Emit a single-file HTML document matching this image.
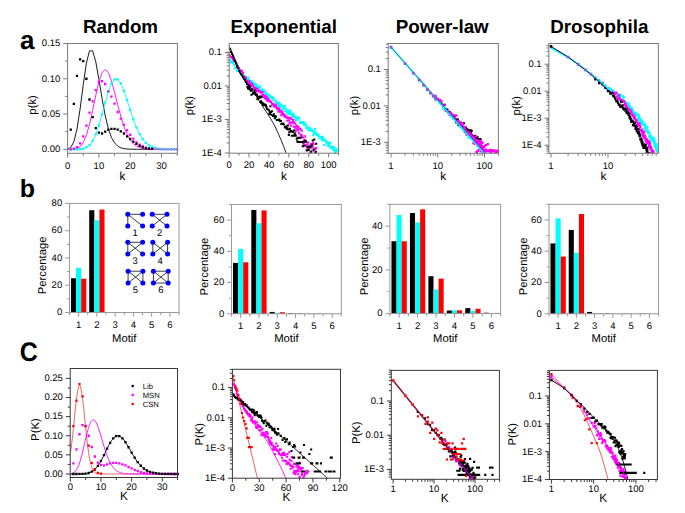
<!DOCTYPE html>
<html><head><meta charset="utf-8"><style>
html,body{margin:0;padding:0;background:#fff;width:685px;height:513px;overflow:hidden}
</style></head><body>
<svg width="685" height="513" viewBox="0 0 685 513" style="display:block;font-family:'Liberation Sans',sans-serif" text-rendering="geometricPrecision">
<rect width="685" height="513" fill="#fff"/>
<defs>
<clipPath id="ca1"><rect x="67.6" y="43.5" width="109.8" height="109.8"/></clipPath>
<clipPath id="ca2"><rect x="229.2" y="43.5" width="109.2" height="109.7"/></clipPath>
<clipPath id="ca3"><rect x="388.2" y="43.5" width="110.2" height="109.8"/></clipPath>
<clipPath id="ca4"><rect x="548.9" y="43.5" width="109.5" height="109.8"/></clipPath>
<clipPath id="cb1"><rect x="69.5" y="203.4" width="109.5" height="109.1"/></clipPath>
<clipPath id="cb2"><rect x="231.5" y="204.5" width="109.8" height="109.3"/></clipPath>
<clipPath id="cb3"><rect x="389.9" y="204.3" width="110.7" height="109.3"/></clipPath>
<clipPath id="cb4"><rect x="549" y="204.3" width="109.5" height="109.5"/></clipPath>
<clipPath id="cc1"><rect x="70.2" y="368.5" width="107.3" height="109"/></clipPath>
<clipPath id="cc2"><rect x="232.4" y="369.3" width="108.1" height="108.9"/></clipPath>
<clipPath id="cc3"><rect x="391.3" y="370.4" width="108.1" height="108.9"/></clipPath>
<clipPath id="cc4"><rect x="549.4" y="370.4" width="108" height="109.1"/></clipPath>
</defs>
<text x="120.5" y="33.3" font-size="18.8" text-anchor="middle" font-weight="bold" fill="#000">Random</text>
<text x="283.8" y="33.3" font-size="18.8" text-anchor="middle" font-weight="bold" fill="#000">Exponential</text>
<text x="442.3" y="33.3" font-size="18.8" text-anchor="middle" font-weight="bold" fill="#000">Power-law</text>
<text x="599.3" y="33.3" font-size="18.8" text-anchor="middle" font-weight="bold" fill="#000">Drosophila</text>
<text x="20" y="49" font-size="26" text-anchor="start" font-weight="bold" fill="#000">a</text>
<text x="19.8" y="197" font-size="25" text-anchor="start" font-weight="bold" fill="#000">b</text>
<text x="0" y="0" font-size="25" font-weight="bold" transform="translate(19.7 361.0) scale(1 1.07)">C</text>
<path d="M67.6 149.06 L70.73 147.41 L73.86 141.73 L76.99 129.11 L80.12 108.92 L83.25 84.69 L86.38 63.16 L89.51 50.85 L92.64 50.85 L95.77 61.79 L98.9 79.29 L102.03 98.38 L105.16 115.36 L108.29 128.41 L111.42 137.36 L114.55 142.93 L117.68 146.12 L120.81 147.8 L123.94 148.63 L127.07 149.02 L130.2 149.19 L133.33 149.26 L136.46 149.28 L139.59 149.29 L142.72 149.3 L145.85 149.3 L148.98 149.3 L152.11 149.3 L155.24 149.3 L158.37 149.3 L161.5 149.3 L164.63 149.3 L167.76 149.3 L170.89 149.3 L174.02 149.3 L177.15 149.3" fill="none" stroke="#000000" stroke-width="0.9" stroke-linejoin="round" clip-path="url(#ca1)"/>
<path d="M67.6 149.3 L70.73 149.27 L73.86 149.09 L76.99 148.44 L80.12 146.63 L83.25 142.62 L86.38 135.37 L89.51 124.43 L92.64 110.44 L95.77 95.33 L98.9 81.84 L102.03 72.64 L105.16 69.45 L108.29 72.52 L111.42 80.75 L114.55 92.17 L117.68 104.67 L120.81 116.48 L123.94 126.51 L127.07 134.31 L130.2 139.93 L133.33 143.72 L136.46 146.13 L139.59 147.58 L142.72 148.4 L145.85 148.85 L148.98 149.08 L152.11 149.2 L155.24 149.26 L158.37 149.28 L161.5 149.29 L164.63 149.3 L167.76 149.3 L170.89 149.3 L174.02 149.3 L177.15 149.3" fill="none" stroke="#ff00ff" stroke-width="0.9" stroke-linejoin="round" clip-path="url(#ca1)"/>
<path d="M67.6 149.3 L70.73 149.3 L73.86 149.29 L76.99 149.25 L80.12 149.08 L83.25 148.61 L86.38 147.45 L89.51 145.07 L92.64 140.85 L95.77 134.27 L98.9 125.25 L102.03 114.32 L105.16 102.66 L108.29 91.9 L111.42 83.7 L114.55 79.32 L117.68 79.32 L120.81 83.44 L123.94 90.76 L127.07 100 L130.2 109.86 L133.33 119.25 L136.46 127.45 L139.59 134.1 L142.72 139.16 L145.85 142.81 L148.98 145.31 L152.11 146.93 L155.24 147.95 L158.37 148.55 L161.5 148.9 L164.63 149.09 L167.76 149.2 L170.89 149.25 L174.02 149.28 L177.15 149.29" fill="none" stroke="#00ffff" stroke-width="0.9" stroke-linejoin="round" clip-path="url(#ca1)"/>
<path d="M69.58 148.15h2.3v2.3h-2.3zM72.71 148.14h2.3v2.3h-2.3zM75.84 148.1h2.3v2.3h-2.3zM78.97 147.93h2.3v2.3h-2.3zM82.1 147.46h2.3v2.3h-2.3zM85.23 146.3h2.3v2.3h-2.3zM88.36 143.92h2.3v2.3h-2.3zM91.49 139.7h2.3v2.3h-2.3zM94.62 133.12h2.3v2.3h-2.3zM97.75 124.1h2.3v2.3h-2.3zM100.88 113.17h2.3v2.3h-2.3zM104.01 101.51h2.3v2.3h-2.3zM107.14 90.75h2.3v2.3h-2.3zM110.27 82.55h2.3v2.3h-2.3zM113.4 78.17h2.3v2.3h-2.3zM116.53 78.17h2.3v2.3h-2.3zM119.66 82.29h2.3v2.3h-2.3zM122.79 89.61h2.3v2.3h-2.3zM125.92 98.85h2.3v2.3h-2.3zM129.05 108.71h2.3v2.3h-2.3zM132.18 118.1h2.3v2.3h-2.3zM135.31 126.3h2.3v2.3h-2.3zM138.44 132.95h2.3v2.3h-2.3zM141.57 138.01h2.3v2.3h-2.3zM144.7 141.66h2.3v2.3h-2.3zM147.83 144.16h2.3v2.3h-2.3zM150.96 145.78h2.3v2.3h-2.3zM154.09 146.8h2.3v2.3h-2.3zM157.22 147.4h2.3v2.3h-2.3zM160.35 147.75h2.3v2.3h-2.3zM163.48 147.94h2.3v2.3h-2.3zM166.61 148.05h2.3v2.3h-2.3zM169.74 148.1h2.3v2.3h-2.3zM172.87 148.13h2.3v2.3h-2.3zM176 148.14h2.3v2.3h-2.3z" fill="#00ffff"/>
<path d="M69.58 148.15h2.3v2.3h-2.3zM72.71 147.44h2.3v2.3h-2.3zM75.84 146.03h2.3v2.3h-2.3zM78.97 142.23h2.3v2.3h-2.3zM82.1 135.24h2.3v2.3h-2.3zM85.23 124.52h2.3v2.3h-2.3zM88.36 111.47h2.3v2.3h-2.3zM91.49 100.19h2.3v2.3h-2.3zM94.62 88.9h2.3v2.3h-2.3zM97.75 80.86h2.3v2.3h-2.3zM100.88 79.95h2.3v2.3h-2.3zM104.01 82.84h2.3v2.3h-2.3zM107.14 90.32h2.3v2.3h-2.3zM110.27 95.53h2.3v2.3h-2.3zM113.4 102.52h2.3v2.3h-2.3zM116.53 110.84h2.3v2.3h-2.3zM119.66 117.54h2.3v2.3h-2.3zM122.79 123.82h2.3v2.3h-2.3zM125.92 129.32h2.3v2.3h-2.3zM129.05 133.62h2.3v2.3h-2.3zM132.18 137.43h2.3v2.3h-2.3zM135.31 141.24h2.3v2.3h-2.3zM138.44 143.57h2.3v2.3h-2.3zM141.57 145.05h2.3v2.3h-2.3zM144.7 146.46h2.3v2.3h-2.3zM147.83 147.16h2.3v2.3h-2.3z" fill="#ff00ff"/>
<path d="M150.96 147.59h2.3v2.3h-2.3zM154.09 147.87h2.3v2.3h-2.3zM157.22 148.01h2.3v2.3h-2.3zM160.35 148.08h2.3v2.3h-2.3zM163.48 148.15h2.3v2.3h-2.3zM166.61 148.15h2.3v2.3h-2.3zM169.74 148.15h2.3v2.3h-2.3zM172.87 148.15h2.3v2.3h-2.3zM176 148.15h2.3v2.3h-2.3z" fill="#a47ef0"/>
<path d="M69.58 128.54h2.3v2.3h-2.3zM72.71 102.66h2.3v2.3h-2.3zM75.84 74.8h2.3v2.3h-2.3zM78.97 58.15h2.3v2.3h-2.3zM82.1 59.99h2.3v2.3h-2.3zM85.23 77.62h2.3v2.3h-2.3zM88.36 98.36h2.3v2.3h-2.3zM91.49 115.92h2.3v2.3h-2.3zM94.62 127.06h2.3v2.3h-2.3zM97.75 131.43h2.3v2.3h-2.3zM100.88 132.35h2.3v2.3h-2.3zM104.01 130.45h2.3v2.3h-2.3zM107.14 128.54h2.3v2.3h-2.3zM110.27 127.7h2.3v2.3h-2.3zM113.4 127.7h2.3v2.3h-2.3zM116.53 128.4h2.3v2.3h-2.3zM119.66 130.24h2.3v2.3h-2.3zM122.79 132.35h2.3v2.3h-2.3zM125.92 135.24h2.3v2.3h-2.3zM129.05 137.85h2.3v2.3h-2.3zM132.18 140.39h2.3v2.3h-2.3zM135.31 142.65h2.3v2.3h-2.3zM138.44 144.76h2.3v2.3h-2.3zM141.57 146.03h2.3v2.3h-2.3zM144.7 147.02h2.3v2.3h-2.3zM147.83 147.52h2.3v2.3h-2.3zM150.96 147.8h2.3v2.3h-2.3z" fill="#000000"/>
<rect x="67.6" y="43.5" width="109.8" height="109.8" fill="none" stroke="#7a7a7a" stroke-width="1"/>
<line x1="63.2" y1="149.3" x2="67.6" y2="149.3" stroke="#7a7a7a" stroke-width="1"/>
<text x="60.3" y="152.1" font-size="9.5" text-anchor="end" font-weight="normal" fill="#000">0.00</text>
<line x1="63.2" y1="114.04" x2="67.6" y2="114.04" stroke="#7a7a7a" stroke-width="1"/>
<text x="60.3" y="116.84" font-size="9.5" text-anchor="end" font-weight="normal" fill="#000">0.05</text>
<line x1="63.2" y1="78.77" x2="67.6" y2="78.77" stroke="#7a7a7a" stroke-width="1"/>
<text x="60.3" y="81.57" font-size="9.5" text-anchor="end" font-weight="normal" fill="#000">0.10</text>
<line x1="63.2" y1="43.51" x2="67.6" y2="43.51" stroke="#7a7a7a" stroke-width="1"/>
<text x="60.3" y="46.31" font-size="9.5" text-anchor="end" font-weight="normal" fill="#000">0.15</text>
<line x1="65.1" y1="131.67" x2="67.6" y2="131.67" stroke="#7a7a7a" stroke-width="1"/>
<line x1="65.1" y1="96.4" x2="67.6" y2="96.4" stroke="#7a7a7a" stroke-width="1"/>
<line x1="65.1" y1="61.14" x2="67.6" y2="61.14" stroke="#7a7a7a" stroke-width="1"/>
<line x1="67.6" y1="153.3" x2="67.6" y2="157.5" stroke="#7a7a7a" stroke-width="1"/>
<text x="67.6" y="168.5" font-size="9.5" text-anchor="middle" font-weight="normal" fill="#000">0</text>
<line x1="98.9" y1="153.3" x2="98.9" y2="157.5" stroke="#7a7a7a" stroke-width="1"/>
<text x="98.9" y="168.5" font-size="9.5" text-anchor="middle" font-weight="normal" fill="#000">10</text>
<line x1="130.2" y1="153.3" x2="130.2" y2="157.5" stroke="#7a7a7a" stroke-width="1"/>
<text x="130.2" y="168.5" font-size="9.5" text-anchor="middle" font-weight="normal" fill="#000">20</text>
<line x1="161.5" y1="153.3" x2="161.5" y2="157.5" stroke="#7a7a7a" stroke-width="1"/>
<text x="161.5" y="168.5" font-size="9.5" text-anchor="middle" font-weight="normal" fill="#000">30</text>
<line x1="83.25" y1="153.3" x2="83.25" y2="155.8" stroke="#7a7a7a" stroke-width="1"/>
<line x1="114.55" y1="153.3" x2="114.55" y2="155.8" stroke="#7a7a7a" stroke-width="1"/>
<line x1="145.85" y1="153.3" x2="145.85" y2="155.8" stroke="#7a7a7a" stroke-width="1"/>
<line x1="177.15" y1="153.3" x2="177.15" y2="155.8" stroke="#7a7a7a" stroke-width="1"/>
<text x="36.3" y="104.9" font-size="11.3" text-anchor="middle" font-weight="normal" fill="#000" transform="rotate(-90 36.3 104.9)">p(k)</text>
<text x="122.5" y="179.6" font-size="11.9" text-anchor="middle" font-weight="normal" fill="#000">k</text>
<path d="M229.1 45.8 L229.57 46.88 L230.2 48.35 L230.95 50.09 L231.78 52.02 L232.64 54.03 L233.51 56.01 L234.33 57.88 L235.07 59.53 L235.74 61 L236.39 62.41 L237.01 63.75 L237.62 65.04 L238.23 66.3 L238.83 67.52 L239.44 68.72 L240.05 69.92 L240.67 71.08 L241.27 72.2 L241.87 73.28 L242.48 74.34 L243.09 75.39 L243.71 76.44 L244.36 77.52 L245.03 78.63 L245.7 79.72 L246.34 80.76 L246.99 81.77 L247.66 82.82 L248.37 83.92 L249.16 85.13 L250.02 86.48 L251 88.01 L252.11 89.76 L253.34 91.69 L254.67 93.78 L256.06 95.97 L257.48 98.2 L258.91 100.45 L260.31 102.65 L261.65 104.76 L262.97 106.81 L264.31 108.86 L265.66 110.9 L266.99 112.93 L268.3 114.94 L269.56 116.93 L270.77 118.9 L271.91 120.84 L272.96 122.73 L273.95 124.57 L274.88 126.38 L275.76 128.17 L276.62 129.96 L277.47 131.79 L278.31 133.65 L279.17 135.58 L280.06 137.62 L280.97 139.77 L281.88 141.98 L282.78 144.21 L283.64 146.4 L284.45 148.52 L285.19 150.51 L285.84 152.33 L286.41 154.03 L286.92 155.69 L287.36 157.26 L287.75 158.74 L288.09 160.08 L288.38 161.27 L288.62 162.26 L288.83 163.05" fill="none" stroke="#000000" stroke-width="0.9" stroke-linejoin="round" clip-path="url(#ca2)"/>
<path d="M229.1 54.01 L230.1 55.43 L231.09 56.86 L232.09 58.28 L233.08 59.71 L234.08 61.13 L235.07 62.56 L236.07 63.98 L237.06 65.4 L238.06 66.83 L239.06 68.26 L240.05 69.73 L241.05 71.21 L242.04 72.68 L243.04 74.15 L244.03 75.63 L245.03 77.1 L246.02 78.58 L247.02 80.05 L248.01 81.52 L249.01 82.65 L250.01 83.55 L251 84.45 L252 85.34 L252.99 86.24 L253.99 87.14 L254.98 88.03 L255.98 88.93 L256.97 89.83 L257.97 90.72 L258.96 91.62 L259.96 92.52 L260.96 93.41 L261.95 94.31 L262.95 95.21 L263.94 96.1 L264.94 97 L265.93 97.9 L266.93 98.79 L267.92 99.69 L268.92 100.59 L269.92 101.48 L270.91 102.38 L271.91 103.29 L272.9 104.28 L273.9 105.28 L274.89 106.27 L275.89 107.27 L276.88 108.27 L277.88 109.26 L278.88 110.26 L279.87 111.26 L280.87 112.25 L281.86 113.25 L282.86 114.25 L283.85 115.24 L284.85 116.24 L285.84 117.24 L286.84 118.23 L287.83 119.23 L288.83 120.22 L289.83 121.22 L290.82 122.22 L291.82 123.21 L292.81 124.21 L293.81 125.21 L294.8 126.2 L295.8 127.42 L296.79 128.79 L297.79 130.16 L298.78 131.52 L299.78 132.89 L300.78 134.26 L301.77 135.62 L302.77 136.99 L303.76 138.36 L304.76 139.72 L305.75 141.09 L306.75 142.46 L307.74 143.82 L308.74 145.19 L309.74 146.56 L310.73 147.92 L311.73 149.29 L312.72 150.66 L313.72 152.02 L314.71 152.97 L315.71 153.82 L316.7 154.66 L317.7 155.51" fill="none" stroke="#ff00ff" stroke-width="0.9" stroke-linejoin="round" clip-path="url(#ca2)"/>
<path d="M229.1 58.86 L230.1 60.16 L231.09 61.46 L232.09 62.76 L233.08 64.06 L234.08 65.36 L235.07 66.65 L236.07 67.95 L237.06 69.25 L238.06 70.16 L239.06 71.07 L240.05 71.98 L241.05 72.89 L242.04 73.8 L243.04 74.72 L244.03 75.63 L245.03 76.54 L246.02 77.45 L247.02 78.36 L248.01 79.27 L249.01 80.11 L250.01 80.91 L251 81.71 L252 82.51 L252.99 83.31 L253.99 84.11 L254.98 84.9 L255.98 85.7 L256.97 86.5 L257.97 87.3 L258.96 88.1 L259.96 88.9 L260.96 89.69 L261.95 90.49 L262.95 91.29 L263.94 92.09 L264.94 92.89 L265.93 93.69 L266.93 94.48 L267.92 95.28 L268.92 96.08 L269.92 96.88 L270.91 97.68 L271.91 98.47 L272.9 99.27 L273.9 100.07 L274.89 100.87 L275.89 101.67 L276.88 102.47 L277.88 103.26 L278.88 104.06 L279.87 104.86 L280.87 105.66 L281.86 106.46 L282.86 107.26 L283.85 108.05 L284.85 108.85 L285.84 109.65 L286.84 110.45 L287.83 111.25 L288.83 112.05 L289.83 112.84 L290.82 113.64 L291.82 114.44 L292.81 115.24 L293.81 116.04 L294.8 116.84 L295.8 117.63 L296.79 118.43 L297.79 119.23 L298.78 120.03 L299.78 120.83 L300.78 121.63 L301.77 122.42 L302.77 123.22 L303.76 124.02 L304.76 124.82 L305.75 125.62 L306.75 126.42 L307.74 127.21 L308.74 128.01 L309.74 128.81 L310.73 129.61 L311.73 130.41 L312.72 131.21 L313.72 132 L314.71 132.8 L315.71 133.6 L316.7 134.4 L317.7 135.2 L318.69 136 L319.69 136.86 L320.69 137.72 L321.68 138.57 L322.68 139.43 L323.67 140.29 L324.67 141.15 L325.66 142.01 L326.66 142.86 L327.65 143.72 L328.65 144.58 L329.65 145.44 L330.64 146.3 L331.64 147.15 L332.63 148.01 L333.63 148.87 L334.62 149.73 L335.62 150.56 L336.61 151.38 L337.61 152.21 L338.61 153.03 L339.6 153.85" fill="none" stroke="#00ffff" stroke-width="0.9" stroke-linejoin="round" clip-path="url(#ca2)"/>
<path d="M229.05 59.34h2.1v2.1h-2.1zM230.04 61.35h2.1v2.1h-2.1zM231.04 60.59h2.1v2.1h-2.1zM232.03 61.97h2.1v2.1h-2.1zM233.03 63.91h2.1v2.1h-2.1zM234.02 67.28h2.1v2.1h-2.1zM235.02 66.39h2.1v2.1h-2.1zM236.01 69.9h2.1v2.1h-2.1zM237.01 70.01h2.1v2.1h-2.1zM238 69.71h2.1v2.1h-2.1zM239 70.41h2.1v2.1h-2.1zM240 71.53h2.1v2.1h-2.1zM240.99 73.42h2.1v2.1h-2.1zM241.99 73.11h2.1v2.1h-2.1zM242.98 75.2h2.1v2.1h-2.1zM243.98 75.83h2.1v2.1h-2.1zM244.97 75.76h2.1v2.1h-2.1zM245.97 77.76h2.1v2.1h-2.1zM246.96 78.74h2.1v2.1h-2.1zM247.46 76.62h2.1v2.1h-2.1zM247.96 78.64h2.1v2.1h-2.1zM248.46 81.96h2.1v2.1h-2.1zM248.96 81.89h2.1v2.1h-2.1zM249.45 80.8h2.1v2.1h-2.1zM249.95 80.16h2.1v2.1h-2.1zM250.45 81.16h2.1v2.1h-2.1zM250.95 80.79h2.1v2.1h-2.1zM251.44 80.27h2.1v2.1h-2.1zM251.94 82.14h2.1v2.1h-2.1zM252.44 84.83h2.1v2.1h-2.1zM252.94 83.51h2.1v2.1h-2.1zM253.44 85.57h2.1v2.1h-2.1zM253.93 82.56h2.1v2.1h-2.1zM254.43 87.66h2.1v2.1h-2.1zM254.93 83.2h2.1v2.1h-2.1zM255.43 84.08h2.1v2.1h-2.1zM255.92 85.09h2.1v2.1h-2.1zM256.42 87.08h2.1v2.1h-2.1zM256.92 85.14h2.1v2.1h-2.1zM257.42 86.38h2.1v2.1h-2.1zM257.91 85.44h2.1v2.1h-2.1zM258.41 86.41h2.1v2.1h-2.1zM258.91 89.42h2.1v2.1h-2.1zM259.41 86.1h2.1v2.1h-2.1zM259.91 90.63h2.1v2.1h-2.1zM260.4 90.1h2.1v2.1h-2.1zM260.9 89.63h2.1v2.1h-2.1zM261.4 88.13h2.1v2.1h-2.1zM261.9 89.69h2.1v2.1h-2.1zM262.39 90.89h2.1v2.1h-2.1zM262.89 90.92h2.1v2.1h-2.1zM263.39 89.52h2.1v2.1h-2.1zM263.89 90.79h2.1v2.1h-2.1zM264.39 92.19h2.1v2.1h-2.1zM264.88 91.16h2.1v2.1h-2.1zM265.38 93.78h2.1v2.1h-2.1zM265.88 93.58h2.1v2.1h-2.1zM266.38 94.33h2.1v2.1h-2.1zM266.87 92.96h2.1v2.1h-2.1zM267.37 96.76h2.1v2.1h-2.1zM267.87 93.9h2.1v2.1h-2.1zM268.37 93.99h2.1v2.1h-2.1zM268.87 95.67h2.1v2.1h-2.1zM269.36 95.26h2.1v2.1h-2.1zM269.86 96.05h2.1v2.1h-2.1zM270.36 97.02h2.1v2.1h-2.1zM270.86 95.4h2.1v2.1h-2.1zM271.35 97.28h2.1v2.1h-2.1zM271.85 98.24h2.1v2.1h-2.1zM272.35 97.07h2.1v2.1h-2.1zM272.85 97.17h2.1v2.1h-2.1zM273.35 103.72h2.1v2.1h-2.1zM273.84 99.42h2.1v2.1h-2.1zM274.34 99.82h2.1v2.1h-2.1zM274.84 100.33h2.1v2.1h-2.1zM275.34 101.89h2.1v2.1h-2.1zM275.83 101.97h2.1v2.1h-2.1zM276.33 101.98h2.1v2.1h-2.1zM276.83 104.96h2.1v2.1h-2.1zM277.33 103.43h2.1v2.1h-2.1zM277.82 103.08h2.1v2.1h-2.1zM278.32 101.81h2.1v2.1h-2.1zM278.82 105.52h2.1v2.1h-2.1zM279.32 104.8h2.1v2.1h-2.1zM279.82 103.51h2.1v2.1h-2.1zM280.31 109.5h2.1v2.1h-2.1zM280.81 104.72h2.1v2.1h-2.1zM281.31 108.31h2.1v2.1h-2.1zM281.81 106.36h2.1v2.1h-2.1zM282.3 106.29h2.1v2.1h-2.1zM282.8 107.09h2.1v2.1h-2.1zM283.3 104.84h2.1v2.1h-2.1zM283.8 105.04h2.1v2.1h-2.1zM284.3 110.12h2.1v2.1h-2.1zM284.79 108.47h2.1v2.1h-2.1zM285.29 107.82h2.1v2.1h-2.1zM285.79 110.93h2.1v2.1h-2.1zM286.29 112.33h2.1v2.1h-2.1zM286.78 111.23h2.1v2.1h-2.1zM287.28 113.06h2.1v2.1h-2.1zM287.78 109.52h2.1v2.1h-2.1zM288.28 112.97h2.1v2.1h-2.1zM288.78 111.02h2.1v2.1h-2.1zM289.27 109.53h2.1v2.1h-2.1zM289.77 111.6h2.1v2.1h-2.1zM290.27 113.29h2.1v2.1h-2.1zM290.77 113.49h2.1v2.1h-2.1zM291.26 114.8h2.1v2.1h-2.1zM291.76 112.68h2.1v2.1h-2.1zM292.26 116.3h2.1v2.1h-2.1zM292.76 113.53h2.1v2.1h-2.1zM293.26 115.69h2.1v2.1h-2.1zM293.75 115.67h2.1v2.1h-2.1zM294.25 115.98h2.1v2.1h-2.1zM294.75 118.89h2.1v2.1h-2.1zM295.25 117.63h2.1v2.1h-2.1zM295.74 117.06h2.1v2.1h-2.1zM296.24 118.81h2.1v2.1h-2.1zM296.74 118.1h2.1v2.1h-2.1zM297.24 116.36h2.1v2.1h-2.1zM297.73 117.48h2.1v2.1h-2.1zM298.23 116.68h2.1v2.1h-2.1zM298.73 121.66h2.1v2.1h-2.1zM299.23 121.99h2.1v2.1h-2.1zM299.73 121.81h2.1v2.1h-2.1zM300.22 121h2.1v2.1h-2.1zM300.72 121.97h2.1v2.1h-2.1zM301.22 121.38h2.1v2.1h-2.1zM301.72 121.64h2.1v2.1h-2.1zM302.21 120.9h2.1v2.1h-2.1zM302.71 123.53h2.1v2.1h-2.1zM303.21 121.57h2.1v2.1h-2.1zM303.71 122.76h2.1v2.1h-2.1zM304.21 122.84h2.1v2.1h-2.1zM304.7 124.4h2.1v2.1h-2.1zM305.2 126.94h2.1v2.1h-2.1zM305.7 124.44h2.1v2.1h-2.1zM306.2 126.71h2.1v2.1h-2.1zM306.69 127.7h2.1v2.1h-2.1zM307.19 126.76h2.1v2.1h-2.1zM307.69 129.33h2.1v2.1h-2.1zM308.19 126.81h2.1v2.1h-2.1zM308.69 127.03h2.1v2.1h-2.1zM309.18 128.62h2.1v2.1h-2.1zM309.68 128.27h2.1v2.1h-2.1zM310.18 129.73h2.1v2.1h-2.1zM310.68 128.69h2.1v2.1h-2.1zM311.17 129.21h2.1v2.1h-2.1zM311.67 129.7h2.1v2.1h-2.1zM312.17 134.04h2.1v2.1h-2.1zM312.67 131.25h2.1v2.1h-2.1zM313.17 132.14h2.1v2.1h-2.1zM313.66 131.28h2.1v2.1h-2.1zM314.16 128.09h2.1v2.1h-2.1zM314.66 130.65h2.1v2.1h-2.1zM315.16 133.15h2.1v2.1h-2.1zM315.65 134.26h2.1v2.1h-2.1zM316.15 133.9h2.1v2.1h-2.1zM316.65 133.85h2.1v2.1h-2.1zM317.15 133.16h2.1v2.1h-2.1zM317.64 134.99h2.1v2.1h-2.1zM318.14 135.71h2.1v2.1h-2.1zM318.64 136.83h2.1v2.1h-2.1zM319.14 136.84h2.1v2.1h-2.1zM319.64 135.77h2.1v2.1h-2.1zM320.13 136.93h2.1v2.1h-2.1zM320.63 138.38h2.1v2.1h-2.1zM321.13 139.36h2.1v2.1h-2.1zM321.63 135.7h2.1v2.1h-2.1zM322.12 136.9h2.1v2.1h-2.1zM322.62 138.6h2.1v2.1h-2.1zM323.12 144.01h2.1v2.1h-2.1zM323.62 139.47h2.1v2.1h-2.1zM324.12 139.72h2.1v2.1h-2.1zM324.61 139.26h2.1v2.1h-2.1zM325.11 140.67h2.1v2.1h-2.1zM325.61 141.88h2.1v2.1h-2.1zM326.11 141.37h2.1v2.1h-2.1zM326.6 144.63h2.1v2.1h-2.1zM327.1 141.37h2.1v2.1h-2.1zM327.6 143.2h2.1v2.1h-2.1zM328.1 145.13h2.1v2.1h-2.1zM328.6 143.06h2.1v2.1h-2.1zM329.09 141.79h2.1v2.1h-2.1zM329.59 146.66h2.1v2.1h-2.1zM330.09 146.79h2.1v2.1h-2.1zM330.59 145.81h2.1v2.1h-2.1zM331.08 146.23h2.1v2.1h-2.1zM331.58 147.36h2.1v2.1h-2.1zM332.08 149.02h2.1v2.1h-2.1zM332.58 145.69h2.1v2.1h-2.1zM333.08 146.51h2.1v2.1h-2.1zM333.57 149.88h2.1v2.1h-2.1zM334.07 151.35h2.1v2.1h-2.1zM334.57 147.8h2.1v2.1h-2.1zM335.07 148.27h2.1v2.1h-2.1zM335.56 148.5h2.1v2.1h-2.1zM336.06 149.39h2.1v2.1h-2.1z" fill="#00ffff"/>
<path d="M229.05 54.7h2.1v2.1h-2.1zM230.04 56.02h2.1v2.1h-2.1zM231.04 56.81h2.1v2.1h-2.1zM232.03 58.41h2.1v2.1h-2.1zM233.03 59.89h2.1v2.1h-2.1zM234.02 60.65h2.1v2.1h-2.1zM235.02 62.43h2.1v2.1h-2.1zM236.01 66.11h2.1v2.1h-2.1zM237.01 66.25h2.1v2.1h-2.1zM238 67.25h2.1v2.1h-2.1zM239 69.33h2.1v2.1h-2.1zM240 69.76h2.1v2.1h-2.1zM240.99 69.9h2.1v2.1h-2.1zM241.99 71.9h2.1v2.1h-2.1zM242.98 75.32h2.1v2.1h-2.1zM243.98 76.16h2.1v2.1h-2.1zM244.97 77.28h2.1v2.1h-2.1zM245.97 79.96h2.1v2.1h-2.1zM246.96 81.29h2.1v2.1h-2.1zM247.46 80.76h2.1v2.1h-2.1zM247.96 81.55h2.1v2.1h-2.1zM248.46 79.95h2.1v2.1h-2.1zM248.96 82.61h2.1v2.1h-2.1zM249.45 84.26h2.1v2.1h-2.1zM249.95 84.87h2.1v2.1h-2.1zM250.45 82.51h2.1v2.1h-2.1zM250.95 82.84h2.1v2.1h-2.1zM251.44 84.16h2.1v2.1h-2.1zM251.94 84.57h2.1v2.1h-2.1zM252.44 86.62h2.1v2.1h-2.1zM252.94 87.06h2.1v2.1h-2.1zM253.44 87.39h2.1v2.1h-2.1zM253.93 88.45h2.1v2.1h-2.1zM254.43 87.05h2.1v2.1h-2.1zM254.93 89.79h2.1v2.1h-2.1zM255.43 92.38h2.1v2.1h-2.1zM255.92 89.9h2.1v2.1h-2.1zM256.42 87.65h2.1v2.1h-2.1zM256.92 89.42h2.1v2.1h-2.1zM257.42 89.42h2.1v2.1h-2.1zM257.91 90.05h2.1v2.1h-2.1zM258.41 90.14h2.1v2.1h-2.1zM258.91 90.51h2.1v2.1h-2.1zM259.41 91.06h2.1v2.1h-2.1zM259.91 91.52h2.1v2.1h-2.1zM260.4 95.72h2.1v2.1h-2.1zM260.9 94.58h2.1v2.1h-2.1zM261.4 91.12h2.1v2.1h-2.1zM261.9 93.83h2.1v2.1h-2.1zM262.39 93.56h2.1v2.1h-2.1zM262.89 95.72h2.1v2.1h-2.1zM263.39 96.17h2.1v2.1h-2.1zM263.89 96.83h2.1v2.1h-2.1zM264.39 94.87h2.1v2.1h-2.1zM264.88 98.23h2.1v2.1h-2.1zM265.38 97.51h2.1v2.1h-2.1zM265.88 96.33h2.1v2.1h-2.1zM266.38 99.84h2.1v2.1h-2.1zM266.87 99.43h2.1v2.1h-2.1zM267.37 98.07h2.1v2.1h-2.1zM267.87 99.19h2.1v2.1h-2.1zM268.37 99.75h2.1v2.1h-2.1zM268.87 100.61h2.1v2.1h-2.1zM269.36 100.43h2.1v2.1h-2.1zM269.86 100.56h2.1v2.1h-2.1zM270.36 100.87h2.1v2.1h-2.1zM270.86 102.66h2.1v2.1h-2.1zM271.35 103.33h2.1v2.1h-2.1zM271.85 103.57h2.1v2.1h-2.1zM272.35 103.11h2.1v2.1h-2.1zM272.85 105.36h2.1v2.1h-2.1zM273.35 104.33h2.1v2.1h-2.1zM273.84 105.66h2.1v2.1h-2.1zM274.34 104.67h2.1v2.1h-2.1zM274.84 103.78h2.1v2.1h-2.1zM275.34 106.15h2.1v2.1h-2.1zM275.83 107.44h2.1v2.1h-2.1zM276.33 107.82h2.1v2.1h-2.1zM276.83 107.2h2.1v2.1h-2.1zM277.33 110.59h2.1v2.1h-2.1zM277.82 108.35h2.1v2.1h-2.1zM278.32 107.31h2.1v2.1h-2.1zM278.82 110.55h2.1v2.1h-2.1zM279.32 109.7h2.1v2.1h-2.1zM279.82 110.11h2.1v2.1h-2.1zM280.31 114.03h2.1v2.1h-2.1zM280.81 112.02h2.1v2.1h-2.1zM281.31 110.78h2.1v2.1h-2.1zM281.81 112.39h2.1v2.1h-2.1zM282.3 113.47h2.1v2.1h-2.1zM282.8 113.14h2.1v2.1h-2.1zM283.3 115.16h2.1v2.1h-2.1zM283.8 114.18h2.1v2.1h-2.1zM284.3 116.16h2.1v2.1h-2.1zM284.79 115.92h2.1v2.1h-2.1zM285.29 115.45h2.1v2.1h-2.1zM285.79 116.38h2.1v2.1h-2.1zM286.29 119.69h2.1v2.1h-2.1zM286.78 116.4h2.1v2.1h-2.1zM287.28 117h2.1v2.1h-2.1zM287.78 119.17h2.1v2.1h-2.1zM288.28 122.42h2.1v2.1h-2.1zM288.78 121.6h2.1v2.1h-2.1zM289.27 116.65h2.1v2.1h-2.1zM289.77 124.54h2.1v2.1h-2.1zM290.27 117.82h2.1v2.1h-2.1zM290.77 121.44h2.1v2.1h-2.1zM291.26 121.48h2.1v2.1h-2.1zM291.76 120.99h2.1v2.1h-2.1zM292.26 119.11h2.1v2.1h-2.1zM292.76 125.65h2.1v2.1h-2.1zM293.26 121.38h2.1v2.1h-2.1zM293.75 122.15h2.1v2.1h-2.1zM294.25 126.58h2.1v2.1h-2.1zM294.75 130.47h2.1v2.1h-2.1zM295.25 124.16h2.1v2.1h-2.1zM295.74 127.76h2.1v2.1h-2.1zM296.24 125.34h2.1v2.1h-2.1zM296.74 129.25h2.1v2.1h-2.1zM297.24 125.77h2.1v2.1h-2.1zM297.73 132.16h2.1v2.1h-2.1zM298.23 127.62h2.1v2.1h-2.1zM298.73 136.97h2.1v2.1h-2.1zM299.23 128.05h2.1v2.1h-2.1zM299.73 133.73h2.1v2.1h-2.1zM300.22 134.01h2.1v2.1h-2.1zM300.72 129.53h2.1v2.1h-2.1zM301.22 135.06h2.1v2.1h-2.1zM301.72 136.52h2.1v2.1h-2.1zM302.21 142.5h2.1v2.1h-2.1zM302.71 142.27h2.1v2.1h-2.1zM303.21 140.87h2.1v2.1h-2.1zM303.71 138.65h2.1v2.1h-2.1zM304.21 135.34h2.1v2.1h-2.1zM304.7 145.07h2.1v2.1h-2.1zM305.2 144.01h2.1v2.1h-2.1zM305.7 144.4h2.1v2.1h-2.1zM306.2 146.18h2.1v2.1h-2.1zM306.69 146.8h2.1v2.1h-2.1zM307.19 141.47h2.1v2.1h-2.1zM307.69 146.4h2.1v2.1h-2.1zM309.18 151.26h2.1v2.1h-2.1zM309.68 143.97h2.1v2.1h-2.1zM310.18 143.11h2.1v2.1h-2.1zM310.68 143.15h2.1v2.1h-2.1zM311.17 144.89h2.1v2.1h-2.1zM311.67 146.09h2.1v2.1h-2.1zM312.17 142.08h2.1v2.1h-2.1zM312.67 143.17h2.1v2.1h-2.1zM314.16 147.8h2.1v2.1h-2.1zM314.66 150.4h2.1v2.1h-2.1zM315.16 147.09h2.1v2.1h-2.1z" fill="#ff00ff"/>
<path d="M229.05 47.93h2.1v2.1h-2.1zM230.04 50.81h2.1v2.1h-2.1zM231.04 52.95h2.1v2.1h-2.1zM232.03 55.1h2.1v2.1h-2.1zM233.03 57.51h2.1v2.1h-2.1zM234.02 59.79h2.1v2.1h-2.1zM235.02 62.35h2.1v2.1h-2.1zM236.01 64.94h2.1v2.1h-2.1zM237.01 66.88h2.1v2.1h-2.1zM238 69.48h2.1v2.1h-2.1zM239 71.48h2.1v2.1h-2.1zM240 73.04h2.1v2.1h-2.1zM240.99 74.43h2.1v2.1h-2.1zM241.99 76.12h2.1v2.1h-2.1zM242.98 77.66h2.1v2.1h-2.1zM243.98 79.36h2.1v2.1h-2.1zM244.97 80.94h2.1v2.1h-2.1zM245.97 82.83h2.1v2.1h-2.1zM246.47 85.83h2.1v2.1h-2.1zM246.96 87.38h2.1v2.1h-2.1zM247.46 84.38h2.1v2.1h-2.1zM247.96 85.08h2.1v2.1h-2.1zM248.46 88.1h2.1v2.1h-2.1zM248.96 86.22h2.1v2.1h-2.1zM249.45 89.13h2.1v2.1h-2.1zM249.95 89.57h2.1v2.1h-2.1zM250.45 93.66h2.1v2.1h-2.1zM250.95 88.3h2.1v2.1h-2.1zM251.94 92.38h2.1v2.1h-2.1zM252.44 91.53h2.1v2.1h-2.1zM252.94 91.41h2.1v2.1h-2.1zM253.44 89.6h2.1v2.1h-2.1zM253.93 92.05h2.1v2.1h-2.1zM254.43 93.2h2.1v2.1h-2.1zM254.93 93.73h2.1v2.1h-2.1zM255.92 94.06h2.1v2.1h-2.1zM256.42 98.07h2.1v2.1h-2.1zM256.92 96.6h2.1v2.1h-2.1zM257.42 95.7h2.1v2.1h-2.1zM257.91 97.07h2.1v2.1h-2.1zM258.41 96.78h2.1v2.1h-2.1zM258.91 95.6h2.1v2.1h-2.1zM259.41 100.89h2.1v2.1h-2.1zM259.91 100.19h2.1v2.1h-2.1zM260.4 96.05h2.1v2.1h-2.1zM260.9 101.56h2.1v2.1h-2.1zM261.4 102.07h2.1v2.1h-2.1zM261.9 104.2h2.1v2.1h-2.1zM262.39 102.78h2.1v2.1h-2.1zM262.89 103.76h2.1v2.1h-2.1zM263.39 104.13h2.1v2.1h-2.1zM263.89 103.47h2.1v2.1h-2.1zM264.39 104.1h2.1v2.1h-2.1zM264.88 104.48h2.1v2.1h-2.1zM265.38 105.88h2.1v2.1h-2.1zM265.88 108.02h2.1v2.1h-2.1zM266.87 108.44h2.1v2.1h-2.1zM267.87 109.17h2.1v2.1h-2.1zM268.37 112.86h2.1v2.1h-2.1zM268.87 111.37h2.1v2.1h-2.1zM269.36 105.26h2.1v2.1h-2.1zM269.86 110.89h2.1v2.1h-2.1zM270.36 113.73h2.1v2.1h-2.1zM270.86 110.13h2.1v2.1h-2.1zM271.85 114.99h2.1v2.1h-2.1zM272.85 113.28h2.1v2.1h-2.1zM273.35 115h2.1v2.1h-2.1zM273.84 117.09h2.1v2.1h-2.1zM274.84 115.61h2.1v2.1h-2.1zM275.83 118.98h2.1v2.1h-2.1zM276.83 118.96h2.1v2.1h-2.1zM277.82 118.48h2.1v2.1h-2.1zM278.32 118.55h2.1v2.1h-2.1zM278.82 119.92h2.1v2.1h-2.1zM279.82 120.02h2.1v2.1h-2.1zM280.31 122.83h2.1v2.1h-2.1zM280.81 122.85h2.1v2.1h-2.1zM281.81 122.6h2.1v2.1h-2.1zM282.8 123.48h2.1v2.1h-2.1zM283.8 126.3h2.1v2.1h-2.1zM284.79 125.51h2.1v2.1h-2.1zM285.29 126.11h2.1v2.1h-2.1zM285.79 127.79h2.1v2.1h-2.1zM286.29 127.35h2.1v2.1h-2.1zM286.78 124.44h2.1v2.1h-2.1zM287.28 128.41h2.1v2.1h-2.1zM287.78 133.92h2.1v2.1h-2.1zM288.28 131.33h2.1v2.1h-2.1zM288.78 127.8h2.1v2.1h-2.1zM289.77 130.11h2.1v2.1h-2.1zM290.77 134.77h2.1v2.1h-2.1zM291.26 130.39h2.1v2.1h-2.1zM291.76 130.89h2.1v2.1h-2.1zM292.76 134.61h2.1v2.1h-2.1zM293.26 129.37h2.1v2.1h-2.1zM293.75 132.38h2.1v2.1h-2.1zM294.75 134.59h2.1v2.1h-2.1zM295.74 137.6h2.1v2.1h-2.1zM296.24 140.15h2.1v2.1h-2.1zM296.74 140.97h2.1v2.1h-2.1zM297.24 136.85h2.1v2.1h-2.1zM297.73 136.71h2.1v2.1h-2.1zM298.73 140.9h2.1v2.1h-2.1zM299.73 136.48h2.1v2.1h-2.1zM300.72 141.01h2.1v2.1h-2.1zM301.72 145.14h2.1v2.1h-2.1zM302.21 141.17h2.1v2.1h-2.1zM302.71 140.21h2.1v2.1h-2.1zM303.21 144.4h2.1v2.1h-2.1zM303.71 140.22h2.1v2.1h-2.1zM304.7 139.93h2.1v2.1h-2.1zM305.2 141.23h2.1v2.1h-2.1zM305.7 149.35h2.1v2.1h-2.1zM306.69 146.13h2.1v2.1h-2.1zM307.69 149.02h2.1v2.1h-2.1zM308.19 145.51h2.1v2.1h-2.1zM308.69 146.29h2.1v2.1h-2.1zM309.68 145.66h2.1v2.1h-2.1zM310.18 150.61h2.1v2.1h-2.1zM310.68 143.85h2.1v2.1h-2.1zM311.67 139.42h2.1v2.1h-2.1zM312.67 148.62h2.1v2.1h-2.1zM313.17 138.38h2.1v2.1h-2.1zM314.66 151.11h2.1v2.1h-2.1zM315.16 142.65h2.1v2.1h-2.1z" fill="#000000"/>
<rect x="229.2" y="43.5" width="109.2" height="109.7" fill="none" stroke="#7a7a7a" stroke-width="1"/>
<line x1="224.8" y1="153" x2="229.2" y2="153" stroke="#7a7a7a" stroke-width="1"/>
<text x="221.9" y="155.8" font-size="9.5" text-anchor="end" font-weight="normal" fill="#000">1E-4</text>
<line x1="226.7" y1="142.92" x2="229.2" y2="142.92" stroke="#7a7a7a" stroke-width="1"/>
<line x1="226.7" y1="137.02" x2="229.2" y2="137.02" stroke="#7a7a7a" stroke-width="1"/>
<line x1="226.7" y1="132.83" x2="229.2" y2="132.83" stroke="#7a7a7a" stroke-width="1"/>
<line x1="226.7" y1="129.58" x2="229.2" y2="129.58" stroke="#7a7a7a" stroke-width="1"/>
<line x1="226.7" y1="126.93" x2="229.2" y2="126.93" stroke="#7a7a7a" stroke-width="1"/>
<line x1="226.7" y1="124.69" x2="229.2" y2="124.69" stroke="#7a7a7a" stroke-width="1"/>
<line x1="226.7" y1="122.75" x2="229.2" y2="122.75" stroke="#7a7a7a" stroke-width="1"/>
<line x1="226.7" y1="121.03" x2="229.2" y2="121.03" stroke="#7a7a7a" stroke-width="1"/>
<line x1="224.8" y1="119.5" x2="229.2" y2="119.5" stroke="#7a7a7a" stroke-width="1"/>
<text x="221.9" y="122.3" font-size="9.5" text-anchor="end" font-weight="normal" fill="#000">1E-3</text>
<line x1="226.7" y1="109.42" x2="229.2" y2="109.42" stroke="#7a7a7a" stroke-width="1"/>
<line x1="226.7" y1="103.52" x2="229.2" y2="103.52" stroke="#7a7a7a" stroke-width="1"/>
<line x1="226.7" y1="99.33" x2="229.2" y2="99.33" stroke="#7a7a7a" stroke-width="1"/>
<line x1="226.7" y1="96.08" x2="229.2" y2="96.08" stroke="#7a7a7a" stroke-width="1"/>
<line x1="226.7" y1="93.43" x2="229.2" y2="93.43" stroke="#7a7a7a" stroke-width="1"/>
<line x1="226.7" y1="91.19" x2="229.2" y2="91.19" stroke="#7a7a7a" stroke-width="1"/>
<line x1="226.7" y1="89.25" x2="229.2" y2="89.25" stroke="#7a7a7a" stroke-width="1"/>
<line x1="226.7" y1="87.53" x2="229.2" y2="87.53" stroke="#7a7a7a" stroke-width="1"/>
<line x1="224.8" y1="86" x2="229.2" y2="86" stroke="#7a7a7a" stroke-width="1"/>
<text x="221.9" y="88.8" font-size="9.5" text-anchor="end" font-weight="normal" fill="#000">0.01</text>
<line x1="226.7" y1="75.92" x2="229.2" y2="75.92" stroke="#7a7a7a" stroke-width="1"/>
<line x1="226.7" y1="70.02" x2="229.2" y2="70.02" stroke="#7a7a7a" stroke-width="1"/>
<line x1="226.7" y1="65.83" x2="229.2" y2="65.83" stroke="#7a7a7a" stroke-width="1"/>
<line x1="226.7" y1="62.58" x2="229.2" y2="62.58" stroke="#7a7a7a" stroke-width="1"/>
<line x1="226.7" y1="59.93" x2="229.2" y2="59.93" stroke="#7a7a7a" stroke-width="1"/>
<line x1="226.7" y1="57.69" x2="229.2" y2="57.69" stroke="#7a7a7a" stroke-width="1"/>
<line x1="226.7" y1="55.75" x2="229.2" y2="55.75" stroke="#7a7a7a" stroke-width="1"/>
<line x1="226.7" y1="54.03" x2="229.2" y2="54.03" stroke="#7a7a7a" stroke-width="1"/>
<line x1="224.8" y1="52.5" x2="229.2" y2="52.5" stroke="#7a7a7a" stroke-width="1"/>
<text x="221.9" y="55.3" font-size="9.5" text-anchor="end" font-weight="normal" fill="#000">0.1</text>
<line x1="229.1" y1="153.2" x2="229.1" y2="157.4" stroke="#7a7a7a" stroke-width="1"/>
<text x="229.1" y="168.4" font-size="9.5" text-anchor="middle" font-weight="normal" fill="#000">0</text>
<line x1="249.01" y1="153.2" x2="249.01" y2="157.4" stroke="#7a7a7a" stroke-width="1"/>
<text x="249.01" y="168.4" font-size="9.5" text-anchor="middle" font-weight="normal" fill="#000">20</text>
<line x1="268.92" y1="153.2" x2="268.92" y2="157.4" stroke="#7a7a7a" stroke-width="1"/>
<text x="268.92" y="168.4" font-size="9.5" text-anchor="middle" font-weight="normal" fill="#000">40</text>
<line x1="288.83" y1="153.2" x2="288.83" y2="157.4" stroke="#7a7a7a" stroke-width="1"/>
<text x="288.83" y="168.4" font-size="9.5" text-anchor="middle" font-weight="normal" fill="#000">60</text>
<line x1="308.74" y1="153.2" x2="308.74" y2="157.4" stroke="#7a7a7a" stroke-width="1"/>
<text x="308.74" y="168.4" font-size="9.5" text-anchor="middle" font-weight="normal" fill="#000">80</text>
<line x1="328.65" y1="153.2" x2="328.65" y2="157.4" stroke="#7a7a7a" stroke-width="1"/>
<text x="328.65" y="168.4" font-size="9.5" text-anchor="middle" font-weight="normal" fill="#000">100</text>
<line x1="239.06" y1="153.2" x2="239.06" y2="155.7" stroke="#7a7a7a" stroke-width="1"/>
<line x1="258.96" y1="153.2" x2="258.96" y2="155.7" stroke="#7a7a7a" stroke-width="1"/>
<line x1="278.88" y1="153.2" x2="278.88" y2="155.7" stroke="#7a7a7a" stroke-width="1"/>
<line x1="298.78" y1="153.2" x2="298.78" y2="155.7" stroke="#7a7a7a" stroke-width="1"/>
<line x1="318.69" y1="153.2" x2="318.69" y2="155.7" stroke="#7a7a7a" stroke-width="1"/>
<line x1="338.61" y1="153.2" x2="338.61" y2="155.7" stroke="#7a7a7a" stroke-width="1"/>
<text x="193.4" y="105.6" font-size="11.3" text-anchor="middle" font-weight="normal" fill="#000" transform="rotate(-90 193.4 105.6)">p(k)</text>
<text x="284" y="179.5" font-size="11.9" text-anchor="middle" font-weight="normal" fill="#000">k</text>
<path d="M434.51 97.63h2.2v2.2h-2.2zM436.65 99h2.2v2.2h-2.2zM438.59 102.12h2.2v2.2h-2.2zM440.35 102.72h2.2v2.2h-2.2zM441.98 107.35h2.2v2.2h-2.2zM443.48 108.49h2.2v2.2h-2.2zM444.88 107.48h2.2v2.2h-2.2zM446.19 110.6h2.2v2.2h-2.2zM447.42 111.64h2.2v2.2h-2.2zM448.58 112.66h2.2v2.2h-2.2zM449.68 115.24h2.2v2.2h-2.2zM450.72 113.74h2.2v2.2h-2.2zM451.71 117.1h2.2v2.2h-2.2zM452.66 118.05h2.2v2.2h-2.2zM453.56 118.07h2.2v2.2h-2.2zM454.42 119.67h2.2v2.2h-2.2zM455.25 121.2h2.2v2.2h-2.2zM456.05 121.1h2.2v2.2h-2.2zM456.82 122.36h2.2v2.2h-2.2zM457.55 124.23h2.2v2.2h-2.2zM458.27 125.22h2.2v2.2h-2.2zM458.96 124.18h2.2v2.2h-2.2zM459.62 125.08h2.2v2.2h-2.2zM460.27 126.4h2.2v2.2h-2.2zM460.89 127.19h2.2v2.2h-2.2zM461.5 127.08h2.2v2.2h-2.2zM462.09 128.29h2.2v2.2h-2.2zM462.66 128.76h2.2v2.2h-2.2zM463.21 129.76h2.2v2.2h-2.2zM463.75 128.79h2.2v2.2h-2.2zM464.28 130.15h2.2v2.2h-2.2zM464.8 131.15h2.2v2.2h-2.2zM465.3 130.5h2.2v2.2h-2.2zM465.79 134.17h2.2v2.2h-2.2zM466.26 131.39h2.2v2.2h-2.2zM466.73 131.33h2.2v2.2h-2.2zM467.19 133.72h2.2v2.2h-2.2zM467.63 136.08h2.2v2.2h-2.2zM468.07 136.73h2.2v2.2h-2.2zM468.5 135.29h2.2v2.2h-2.2zM468.92 136.66h2.2v2.2h-2.2z" fill="#00ffff"/>
<path d="M434.51 96.22h2.2v2.2h-2.2zM436.65 98.67h2.2v2.2h-2.2zM438.59 99.28h2.2v2.2h-2.2zM440.35 102.41h2.2v2.2h-2.2zM441.98 104.14h2.2v2.2h-2.2zM443.48 103.78h2.2v2.2h-2.2zM444.88 109.36h2.2v2.2h-2.2zM446.19 108.51h2.2v2.2h-2.2zM447.42 111.33h2.2v2.2h-2.2zM448.58 110.99h2.2v2.2h-2.2zM449.68 112.38h2.2v2.2h-2.2zM450.72 113.87h2.2v2.2h-2.2zM451.71 114.29h2.2v2.2h-2.2zM452.66 116.67h2.2v2.2h-2.2zM453.56 115.09h2.2v2.2h-2.2zM454.42 118.14h2.2v2.2h-2.2zM455.25 121.12h2.2v2.2h-2.2zM456.05 118.27h2.2v2.2h-2.2zM456.82 118.65h2.2v2.2h-2.2zM457.55 123.7h2.2v2.2h-2.2zM458.27 122.82h2.2v2.2h-2.2zM458.96 122.81h2.2v2.2h-2.2zM459.62 121.61h2.2v2.2h-2.2zM460.27 125.72h2.2v2.2h-2.2zM460.89 124.6h2.2v2.2h-2.2zM461.5 125.96h2.2v2.2h-2.2zM462.09 125.91h2.2v2.2h-2.2zM462.66 122.1h2.2v2.2h-2.2zM463.21 127.38h2.2v2.2h-2.2zM463.75 130.28h2.2v2.2h-2.2zM464.28 130.8h2.2v2.2h-2.2zM464.8 126.56h2.2v2.2h-2.2zM465.3 128.52h2.2v2.2h-2.2zM465.79 130.84h2.2v2.2h-2.2zM466.26 128.3h2.2v2.2h-2.2zM466.73 128.97h2.2v2.2h-2.2zM467.19 131.54h2.2v2.2h-2.2zM467.63 132.79h2.2v2.2h-2.2zM468.07 130.33h2.2v2.2h-2.2zM468.5 132.61h2.2v2.2h-2.2zM468.92 131.98h2.2v2.2h-2.2zM469.33 128.91h2.2v2.2h-2.2zM469.73 130.6h2.2v2.2h-2.2zM470.12 132.84h2.2v2.2h-2.2zM470.51 129.76h2.2v2.2h-2.2zM470.89 133.98h2.2v2.2h-2.2zM471.26 137.84h2.2v2.2h-2.2zM471.63 136.22h2.2v2.2h-2.2zM471.99 137.72h2.2v2.2h-2.2zM472.34 135.2h2.2v2.2h-2.2zM472.69 137.02h2.2v2.2h-2.2zM473.03 136.69h2.2v2.2h-2.2zM473.36 135.14h2.2v2.2h-2.2zM473.69 138.4h2.2v2.2h-2.2zM474.02 134.86h2.2v2.2h-2.2zM474.34 137.13h2.2v2.2h-2.2zM474.65 139.44h2.2v2.2h-2.2zM474.96 137.28h2.2v2.2h-2.2zM475.27 141.51h2.2v2.2h-2.2zM475.57 137.49h2.2v2.2h-2.2zM475.87 138.25h2.2v2.2h-2.2zM476.16 136.04h2.2v2.2h-2.2zM476.45 137.37h2.2v2.2h-2.2zM476.73 140.48h2.2v2.2h-2.2zM477.01 138.39h2.2v2.2h-2.2zM477.29 139.06h2.2v2.2h-2.2zM477.56 143.75h2.2v2.2h-2.2zM477.83 138.03h2.2v2.2h-2.2zM478.09 140.3h2.2v2.2h-2.2zM478.36 138.84h2.2v2.2h-2.2zM478.61 139.9h2.2v2.2h-2.2zM478.87 143.16h2.2v2.2h-2.2zM479.12 142.6h2.2v2.2h-2.2zM479.37 137.89h2.2v2.2h-2.2zM479.62 142.2h2.2v2.2h-2.2zM479.86 144.87h2.2v2.2h-2.2zM480.1 141.89h2.2v2.2h-2.2zM480.34 147.84h2.2v2.2h-2.2zM480.57 145.31h2.2v2.2h-2.2z" fill="#000000"/>
<path d="M434.51 94.79h2.2v2.2h-2.2zM436.65 97.62h2.2v2.2h-2.2zM438.59 98.87h2.2v2.2h-2.2zM440.35 99.81h2.2v2.2h-2.2zM441.98 105.17h2.2v2.2h-2.2zM443.48 103.67h2.2v2.2h-2.2zM444.88 109.57h2.2v2.2h-2.2zM446.19 109.62h2.2v2.2h-2.2zM447.42 110.5h2.2v2.2h-2.2zM448.58 113.71h2.2v2.2h-2.2zM449.68 112.11h2.2v2.2h-2.2zM450.72 113.71h2.2v2.2h-2.2zM451.71 113.84h2.2v2.2h-2.2zM452.66 117.19h2.2v2.2h-2.2zM453.56 116.59h2.2v2.2h-2.2zM454.42 114.56h2.2v2.2h-2.2zM455.25 114.26h2.2v2.2h-2.2zM456.05 119.51h2.2v2.2h-2.2zM456.82 121.05h2.2v2.2h-2.2zM457.55 120.11h2.2v2.2h-2.2zM458.27 122.24h2.2v2.2h-2.2zM458.96 121.87h2.2v2.2h-2.2zM459.62 122.37h2.2v2.2h-2.2zM460.27 124.62h2.2v2.2h-2.2zM460.89 124.28h2.2v2.2h-2.2zM461.5 124.38h2.2v2.2h-2.2zM462.09 122.92h2.2v2.2h-2.2zM462.66 127.34h2.2v2.2h-2.2zM463.21 125.94h2.2v2.2h-2.2zM463.75 128.28h2.2v2.2h-2.2zM464.28 127.08h2.2v2.2h-2.2zM464.8 129.66h2.2v2.2h-2.2zM465.3 132.93h2.2v2.2h-2.2zM465.79 131.64h2.2v2.2h-2.2zM466.26 133.47h2.2v2.2h-2.2zM466.73 130.66h2.2v2.2h-2.2zM467.19 133.09h2.2v2.2h-2.2zM467.63 131.39h2.2v2.2h-2.2zM468.07 132.39h2.2v2.2h-2.2zM468.5 133.89h2.2v2.2h-2.2zM468.92 134.17h2.2v2.2h-2.2zM469.33 132.15h2.2v2.2h-2.2zM469.73 135.6h2.2v2.2h-2.2zM470.12 136.87h2.2v2.2h-2.2zM470.51 134.07h2.2v2.2h-2.2zM470.89 136.92h2.2v2.2h-2.2zM471.26 136.08h2.2v2.2h-2.2zM471.63 136.87h2.2v2.2h-2.2zM471.99 136.48h2.2v2.2h-2.2zM472.34 142.04h2.2v2.2h-2.2zM472.69 137.49h2.2v2.2h-2.2zM473.03 136.46h2.2v2.2h-2.2zM473.36 140.16h2.2v2.2h-2.2zM473.69 142.69h2.2v2.2h-2.2zM474.02 139.58h2.2v2.2h-2.2zM474.34 140.25h2.2v2.2h-2.2zM474.65 138.63h2.2v2.2h-2.2zM474.96 135.16h2.2v2.2h-2.2zM475.27 139.39h2.2v2.2h-2.2zM475.27 151.08h2.2v2.2h-2.2zM475.57 142.48h2.2v2.2h-2.2zM475.87 141.08h2.2v2.2h-2.2zM475.87 150.85h2.2v2.2h-2.2zM476.16 138.79h2.2v2.2h-2.2zM476.45 144.72h2.2v2.2h-2.2zM476.45 150.14h2.2v2.2h-2.2zM476.73 142.52h2.2v2.2h-2.2zM477.01 144.29h2.2v2.2h-2.2zM477.01 149.49h2.2v2.2h-2.2zM477.29 143.08h2.2v2.2h-2.2zM477.56 143.75h2.2v2.2h-2.2zM477.83 140.25h2.2v2.2h-2.2zM478.09 143.18h2.2v2.2h-2.2zM478.09 142.9h2.2v2.2h-2.2zM478.36 147.99h2.2v2.2h-2.2zM478.36 143.19h2.2v2.2h-2.2zM478.61 144.39h2.2v2.2h-2.2zM478.87 145.75h2.2v2.2h-2.2zM479.12 143.5h2.2v2.2h-2.2zM479.37 141.57h2.2v2.2h-2.2zM479.62 145.58h2.2v2.2h-2.2zM479.62 149.98h2.2v2.2h-2.2zM479.86 140.11h2.2v2.2h-2.2zM480.1 148.78h2.2v2.2h-2.2zM480.34 145.16h2.2v2.2h-2.2zM480.57 148.44h2.2v2.2h-2.2zM480.8 146.78h2.2v2.2h-2.2zM480.8 150.15h2.2v2.2h-2.2zM481.03 147.21h2.2v2.2h-2.2zM481.03 149.74h2.2v2.2h-2.2zM481.26 150.66h2.2v2.2h-2.2zM481.49 141.53h2.2v2.2h-2.2zM481.49 149.72h2.2v2.2h-2.2zM481.71 147.4h2.2v2.2h-2.2zM481.93 147.95h2.2v2.2h-2.2zM482.14 145.85h2.2v2.2h-2.2zM482.36 149.34h2.2v2.2h-2.2zM482.57 150.02h2.2v2.2h-2.2zM482.78 149.27h2.2v2.2h-2.2zM482.78 150.3h2.2v2.2h-2.2zM482.99 146.37h2.2v2.2h-2.2zM483.2 145.27h2.2v2.2h-2.2zM483.8 144.38h2.2v2.2h-2.2zM484.2 149.78h2.2v2.2h-2.2zM484.39 149.39h2.2v2.2h-2.2zM484.96 148.57h2.2v2.2h-2.2zM485.15 144.01h2.2v2.2h-2.2zM485.34 150.37h2.2v2.2h-2.2zM485.52 149.82h2.2v2.2h-2.2zM485.88 149.53h2.2v2.2h-2.2zM486.59 149.5h2.2v2.2h-2.2zM486.76 143.06h2.2v2.2h-2.2zM486.93 150.12h2.2v2.2h-2.2zM488.57 150.46h2.2v2.2h-2.2zM488.88 148.76h2.2v2.2h-2.2zM489.79 149.89h2.2v2.2h-2.2zM489.94 150.68h2.2v2.2h-2.2zM490.23 150.18h2.2v2.2h-2.2zM490.8 150.07h2.2v2.2h-2.2zM491.08 149.29h2.2v2.2h-2.2zM491.63 149.02h2.2v2.2h-2.2zM492.03 149h2.2v2.2h-2.2zM492.82 149.85h2.2v2.2h-2.2zM493.32 150.31h2.2v2.2h-2.2zM493.44 150.47h2.2v2.2h-2.2zM493.69 149.55h2.2v2.2h-2.2zM493.81 150.12h2.2v2.2h-2.2zM493.93 151.09h2.2v2.2h-2.2zM494.29 149.79h2.2v2.2h-2.2zM495.56 150.17h2.2v2.2h-2.2zM495.89 149.86h2.2v2.2h-2.2zM496.11 150.88h2.2v2.2h-2.2zM496.32 149.54h2.2v2.2h-2.2zM496.43 149.52h2.2v2.2h-2.2zM496.75 150.08h2.2v2.2h-2.2z" fill="#ff00ff"/>
<path d="M433.07 94.47 L493.85 162.61" fill="none" stroke="#ff00ff" stroke-width="1.0" stroke-linejoin="round" clip-path="url(#ca3)"/>
<path d="M391 46.93 L493.85 164.65" fill="none" stroke="#00ffff" stroke-width="1.6" stroke-linejoin="round" clip-path="url(#ca3)"/>
<path d="M391 47.3 L493.85 162.61" fill="none" stroke="#2a2a90" stroke-width="0.6" stroke-linejoin="round" clip-path="url(#ca3)"/>
<path d="M389.55 45.85h2.9v2.9h-2.9zM403.62 62.17h2.9v2.9h-2.9zM411.86 71.72h2.9v2.9h-2.9zM417.7 78.5h2.9v2.9h-2.9zM422.23 83.76h2.9v2.9h-2.9zM425.93 88.05h2.9v2.9h-2.9zM429.06 91.68h2.9v2.9h-2.9zM431.77 94.83h2.9v2.9h-2.9zM434.16 97.6h2.9v2.9h-2.9z" fill="#7a62d8"/>
<rect x="388.2" y="43.5" width="110.2" height="109.8" fill="none" stroke="#7a7a7a" stroke-width="1"/>
<line x1="385.7" y1="153.26" x2="388.2" y2="153.26" stroke="#7a7a7a" stroke-width="1"/>
<line x1="385.7" y1="150.38" x2="388.2" y2="150.38" stroke="#7a7a7a" stroke-width="1"/>
<line x1="385.7" y1="147.94" x2="388.2" y2="147.94" stroke="#7a7a7a" stroke-width="1"/>
<line x1="385.7" y1="145.83" x2="388.2" y2="145.83" stroke="#7a7a7a" stroke-width="1"/>
<line x1="385.7" y1="143.97" x2="388.2" y2="143.97" stroke="#7a7a7a" stroke-width="1"/>
<line x1="383.8" y1="142.3" x2="388.2" y2="142.3" stroke="#7a7a7a" stroke-width="1"/>
<text x="380.9" y="145.1" font-size="9.5" text-anchor="end" font-weight="normal" fill="#000">1E-3</text>
<line x1="385.7" y1="131.34" x2="388.2" y2="131.34" stroke="#7a7a7a" stroke-width="1"/>
<line x1="385.7" y1="124.93" x2="388.2" y2="124.93" stroke="#7a7a7a" stroke-width="1"/>
<line x1="385.7" y1="120.39" x2="388.2" y2="120.39" stroke="#7a7a7a" stroke-width="1"/>
<line x1="385.7" y1="116.86" x2="388.2" y2="116.86" stroke="#7a7a7a" stroke-width="1"/>
<line x1="385.7" y1="113.98" x2="388.2" y2="113.98" stroke="#7a7a7a" stroke-width="1"/>
<line x1="385.7" y1="111.54" x2="388.2" y2="111.54" stroke="#7a7a7a" stroke-width="1"/>
<line x1="385.7" y1="109.43" x2="388.2" y2="109.43" stroke="#7a7a7a" stroke-width="1"/>
<line x1="385.7" y1="107.57" x2="388.2" y2="107.57" stroke="#7a7a7a" stroke-width="1"/>
<line x1="383.8" y1="105.9" x2="388.2" y2="105.9" stroke="#7a7a7a" stroke-width="1"/>
<text x="380.9" y="108.7" font-size="9.5" text-anchor="end" font-weight="normal" fill="#000">0.01</text>
<line x1="385.7" y1="94.94" x2="388.2" y2="94.94" stroke="#7a7a7a" stroke-width="1"/>
<line x1="385.7" y1="88.53" x2="388.2" y2="88.53" stroke="#7a7a7a" stroke-width="1"/>
<line x1="385.7" y1="83.99" x2="388.2" y2="83.99" stroke="#7a7a7a" stroke-width="1"/>
<line x1="385.7" y1="80.46" x2="388.2" y2="80.46" stroke="#7a7a7a" stroke-width="1"/>
<line x1="385.7" y1="77.58" x2="388.2" y2="77.58" stroke="#7a7a7a" stroke-width="1"/>
<line x1="385.7" y1="75.14" x2="388.2" y2="75.14" stroke="#7a7a7a" stroke-width="1"/>
<line x1="385.7" y1="73.03" x2="388.2" y2="73.03" stroke="#7a7a7a" stroke-width="1"/>
<line x1="385.7" y1="71.17" x2="388.2" y2="71.17" stroke="#7a7a7a" stroke-width="1"/>
<line x1="383.8" y1="69.5" x2="388.2" y2="69.5" stroke="#7a7a7a" stroke-width="1"/>
<text x="380.9" y="72.3" font-size="9.5" text-anchor="end" font-weight="normal" fill="#000">0.1</text>
<line x1="385.7" y1="58.54" x2="388.2" y2="58.54" stroke="#7a7a7a" stroke-width="1"/>
<line x1="385.7" y1="52.13" x2="388.2" y2="52.13" stroke="#7a7a7a" stroke-width="1"/>
<line x1="385.7" y1="47.59" x2="388.2" y2="47.59" stroke="#7a7a7a" stroke-width="1"/>
<line x1="385.7" y1="44.06" x2="388.2" y2="44.06" stroke="#7a7a7a" stroke-width="1"/>
<line x1="391" y1="153.3" x2="391" y2="157.5" stroke="#7a7a7a" stroke-width="1"/>
<text x="391" y="168.5" font-size="9.5" text-anchor="middle" font-weight="normal" fill="#000">1</text>
<line x1="405.07" y1="153.3" x2="405.07" y2="155.8" stroke="#7a7a7a" stroke-width="1"/>
<line x1="413.31" y1="153.3" x2="413.31" y2="155.8" stroke="#7a7a7a" stroke-width="1"/>
<line x1="419.15" y1="153.3" x2="419.15" y2="155.8" stroke="#7a7a7a" stroke-width="1"/>
<line x1="423.68" y1="153.3" x2="423.68" y2="155.8" stroke="#7a7a7a" stroke-width="1"/>
<line x1="427.38" y1="153.3" x2="427.38" y2="155.8" stroke="#7a7a7a" stroke-width="1"/>
<line x1="430.51" y1="153.3" x2="430.51" y2="155.8" stroke="#7a7a7a" stroke-width="1"/>
<line x1="433.22" y1="153.3" x2="433.22" y2="155.8" stroke="#7a7a7a" stroke-width="1"/>
<line x1="435.61" y1="153.3" x2="435.61" y2="155.8" stroke="#7a7a7a" stroke-width="1"/>
<line x1="437.75" y1="153.3" x2="437.75" y2="157.5" stroke="#7a7a7a" stroke-width="1"/>
<text x="437.75" y="168.5" font-size="9.5" text-anchor="middle" font-weight="normal" fill="#000">10</text>
<line x1="451.82" y1="153.3" x2="451.82" y2="155.8" stroke="#7a7a7a" stroke-width="1"/>
<line x1="460.06" y1="153.3" x2="460.06" y2="155.8" stroke="#7a7a7a" stroke-width="1"/>
<line x1="465.9" y1="153.3" x2="465.9" y2="155.8" stroke="#7a7a7a" stroke-width="1"/>
<line x1="470.43" y1="153.3" x2="470.43" y2="155.8" stroke="#7a7a7a" stroke-width="1"/>
<line x1="474.13" y1="153.3" x2="474.13" y2="155.8" stroke="#7a7a7a" stroke-width="1"/>
<line x1="477.26" y1="153.3" x2="477.26" y2="155.8" stroke="#7a7a7a" stroke-width="1"/>
<line x1="479.97" y1="153.3" x2="479.97" y2="155.8" stroke="#7a7a7a" stroke-width="1"/>
<line x1="482.36" y1="153.3" x2="482.36" y2="155.8" stroke="#7a7a7a" stroke-width="1"/>
<line x1="484.5" y1="153.3" x2="484.5" y2="157.5" stroke="#7a7a7a" stroke-width="1"/>
<text x="484.5" y="168.5" font-size="9.5" text-anchor="middle" font-weight="normal" fill="#000">100</text>
<line x1="498.57" y1="153.3" x2="498.57" y2="155.8" stroke="#7a7a7a" stroke-width="1"/>
<text x="357.5" y="105.5" font-size="11.3" text-anchor="middle" font-weight="normal" fill="#000" transform="rotate(-90 357.5 105.5)">p(k)</text>
<text x="443.2" y="179.5" font-size="11.9" text-anchor="middle" font-weight="normal" fill="#000">k</text>
<path d="M594.2 76.71h2.3v2.3h-2.3zM598.02 79.13h2.3v2.3h-2.3zM601.33 81.57h2.3v2.3h-2.3zM604.24 84.18h2.3v2.3h-2.3zM606.85 87.68h2.3v2.3h-2.3zM608.06 86.98h2.3v2.3h-2.3zM609.21 88.06h2.3v2.3h-2.3zM610.31 90.13h2.3v2.3h-2.3zM611.36 89.31h2.3v2.3h-2.3zM612.37 90.54h2.3v2.3h-2.3zM613.34 92.09h2.3v2.3h-2.3zM614.28 92.35h2.3v2.3h-2.3zM615.18 91.88h2.3v2.3h-2.3zM616.05 92.6h2.3v2.3h-2.3zM616.89 94.76h2.3v2.3h-2.3zM617.7 96.66h2.3v2.3h-2.3zM618.48 95.86h2.3v2.3h-2.3zM619.25 93.4h2.3v2.3h-2.3zM619.99 94.43h2.3v2.3h-2.3zM620.7 98.09h2.3v2.3h-2.3zM621.4 98.98h2.3v2.3h-2.3zM622.08 95.13h2.3v2.3h-2.3zM622.74 96.47h2.3v2.3h-2.3zM623.38 100.29h2.3v2.3h-2.3zM624.01 100.31h2.3v2.3h-2.3zM624.62 102.82h2.3v2.3h-2.3zM625.22 102.3h2.3v2.3h-2.3zM625.8 102.36h2.3v2.3h-2.3zM626.37 102.55h2.3v2.3h-2.3zM626.92 105.7h2.3v2.3h-2.3zM627.47 102.31h2.3v2.3h-2.3zM628 104.01h2.3v2.3h-2.3zM628.52 105.17h2.3v2.3h-2.3zM629.03 106.04h2.3v2.3h-2.3zM629.53 106.73h2.3v2.3h-2.3zM630.02 108.94h2.3v2.3h-2.3zM630.5 106.83h2.3v2.3h-2.3zM630.98 108.31h2.3v2.3h-2.3zM631.44 109.6h2.3v2.3h-2.3zM631.89 109.77h2.3v2.3h-2.3zM632.34 111.56h2.3v2.3h-2.3zM632.78 112.37h2.3v2.3h-2.3zM633.21 113.7h2.3v2.3h-2.3zM633.63 112.06h2.3v2.3h-2.3zM634.05 114.21h2.3v2.3h-2.3zM634.46 111.39h2.3v2.3h-2.3zM634.86 112.79h2.3v2.3h-2.3zM635.25 112.91h2.3v2.3h-2.3zM635.64 113.95h2.3v2.3h-2.3zM636.03 113.33h2.3v2.3h-2.3zM636.41 113.17h2.3v2.3h-2.3zM636.78 116.93h2.3v2.3h-2.3zM637.14 119.37h2.3v2.3h-2.3zM637.51 115.29h2.3v2.3h-2.3zM637.86 114.3h2.3v2.3h-2.3zM638.21 119h2.3v2.3h-2.3zM638.56 116.88h2.3v2.3h-2.3zM638.9 119.26h2.3v2.3h-2.3zM639.24 119.13h2.3v2.3h-2.3zM639.57 118.28h2.3v2.3h-2.3zM639.9 121.91h2.3v2.3h-2.3zM640.22 120.75h2.3v2.3h-2.3zM640.54 121.22h2.3v2.3h-2.3zM640.86 119.84h2.3v2.3h-2.3zM641.17 121.32h2.3v2.3h-2.3zM641.47 123.72h2.3v2.3h-2.3zM641.78 123.08h2.3v2.3h-2.3zM642.08 121.67h2.3v2.3h-2.3zM642.38 123.7h2.3v2.3h-2.3zM642.67 123.02h2.3v2.3h-2.3zM642.96 123.39h2.3v2.3h-2.3zM643.24 123.68h2.3v2.3h-2.3zM643.53 126.99h2.3v2.3h-2.3zM643.81 123.12h2.3v2.3h-2.3zM644.08 124.38h2.3v2.3h-2.3zM644.36 126.18h2.3v2.3h-2.3zM644.63 128.02h2.3v2.3h-2.3zM644.89 130.05h2.3v2.3h-2.3zM645.16 127.53h2.3v2.3h-2.3zM645.42 127.41h2.3v2.3h-2.3zM645.68 129.98h2.3v2.3h-2.3zM645.94 126.02h2.3v2.3h-2.3zM646.19 128.96h2.3v2.3h-2.3zM646.44 129.37h2.3v2.3h-2.3zM646.69 129.89h2.3v2.3h-2.3zM646.94 131.97h2.3v2.3h-2.3zM647.18 132.04h2.3v2.3h-2.3zM647.42 130.86h2.3v2.3h-2.3zM647.66 131.86h2.3v2.3h-2.3zM647.9 131.73h2.3v2.3h-2.3zM648.13 134.99h2.3v2.3h-2.3zM648.37 135.91h2.3v2.3h-2.3zM648.6 131.92h2.3v2.3h-2.3zM648.82 134.4h2.3v2.3h-2.3zM649.05 134.56h2.3v2.3h-2.3zM649.27 135.76h2.3v2.3h-2.3zM649.5 134.92h2.3v2.3h-2.3zM649.72 138.54h2.3v2.3h-2.3zM649.93 137.44h2.3v2.3h-2.3zM650.15 135.83h2.3v2.3h-2.3zM650.37 139.07h2.3v2.3h-2.3zM650.58 138.47h2.3v2.3h-2.3zM650.79 136.8h2.3v2.3h-2.3zM651 138.6h2.3v2.3h-2.3zM651.2 137.75h2.3v2.3h-2.3zM651.41 137.83h2.3v2.3h-2.3zM651.61 136.83h2.3v2.3h-2.3zM651.82 140.34h2.3v2.3h-2.3zM652.02 138.88h2.3v2.3h-2.3zM652.22 138.48h2.3v2.3h-2.3zM652.41 139.33h2.3v2.3h-2.3zM652.61 136.79h2.3v2.3h-2.3zM652.8 141.95h2.3v2.3h-2.3zM652.99 141.7h2.3v2.3h-2.3zM653.19 138.75h2.3v2.3h-2.3zM653.38 144.69h2.3v2.3h-2.3zM653.56 142.04h2.3v2.3h-2.3zM653.75 143.37h2.3v2.3h-2.3zM653.94 141.54h2.3v2.3h-2.3zM654.12 143.05h2.3v2.3h-2.3zM654.3 146.11h2.3v2.3h-2.3zM654.48 144.01h2.3v2.3h-2.3zM654.66 144.1h2.3v2.3h-2.3zM654.84 145.6h2.3v2.3h-2.3zM655.02 148.43h2.3v2.3h-2.3zM655.2 144.29h2.3v2.3h-2.3zM655.37 147.17h2.3v2.3h-2.3zM655.55 143.2h2.3v2.3h-2.3zM655.72 148.01h2.3v2.3h-2.3zM655.89 149.51h2.3v2.3h-2.3zM656.06 148.99h2.3v2.3h-2.3zM656.23 146.88h2.3v2.3h-2.3zM656.4 148.2h2.3v2.3h-2.3zM656.56 146.69h2.3v2.3h-2.3zM656.73 150.67h2.3v2.3h-2.3z" fill="#00ffff"/>
<path d="M594.2 76.59h2.3v2.3h-2.3zM598.02 79.59h2.3v2.3h-2.3zM601.33 81.79h2.3v2.3h-2.3zM604.24 85.5h2.3v2.3h-2.3zM606.85 87.54h2.3v2.3h-2.3zM608.06 89.31h2.3v2.3h-2.3zM609.21 89.59h2.3v2.3h-2.3zM610.31 89.78h2.3v2.3h-2.3zM611.36 91.39h2.3v2.3h-2.3zM612.37 91.42h2.3v2.3h-2.3zM613.34 92.74h2.3v2.3h-2.3zM614.28 92.81h2.3v2.3h-2.3zM615.18 91.58h2.3v2.3h-2.3zM616.05 95.4h2.3v2.3h-2.3zM616.89 97.99h2.3v2.3h-2.3zM617.7 94.1h2.3v2.3h-2.3zM618.48 96.95h2.3v2.3h-2.3zM619.25 98.46h2.3v2.3h-2.3zM619.99 99.64h2.3v2.3h-2.3zM620.7 100.7h2.3v2.3h-2.3zM621.4 99.57h2.3v2.3h-2.3zM622.08 100.62h2.3v2.3h-2.3zM622.74 100.11h2.3v2.3h-2.3zM623.38 104.16h2.3v2.3h-2.3zM624.01 102.34h2.3v2.3h-2.3zM624.62 103.54h2.3v2.3h-2.3zM625.22 104.67h2.3v2.3h-2.3zM625.8 105.64h2.3v2.3h-2.3zM626.37 107.01h2.3v2.3h-2.3zM626.92 107.99h2.3v2.3h-2.3zM627.47 108.37h2.3v2.3h-2.3zM628 108.67h2.3v2.3h-2.3zM628.52 111.14h2.3v2.3h-2.3zM629.03 111.44h2.3v2.3h-2.3zM629.53 111.89h2.3v2.3h-2.3zM630.02 109.51h2.3v2.3h-2.3zM630.5 112.27h2.3v2.3h-2.3zM630.98 113.17h2.3v2.3h-2.3zM631.44 113.58h2.3v2.3h-2.3zM631.89 114.59h2.3v2.3h-2.3zM632.34 114.36h2.3v2.3h-2.3zM632.78 116.94h2.3v2.3h-2.3zM633.21 115.77h2.3v2.3h-2.3zM633.63 116.59h2.3v2.3h-2.3zM634.05 117.77h2.3v2.3h-2.3zM634.46 120.68h2.3v2.3h-2.3zM634.86 120.3h2.3v2.3h-2.3zM635.25 119.19h2.3v2.3h-2.3zM635.64 120.64h2.3v2.3h-2.3zM636.03 123.44h2.3v2.3h-2.3zM636.41 124.65h2.3v2.3h-2.3zM636.78 122.89h2.3v2.3h-2.3zM637.14 122.69h2.3v2.3h-2.3zM637.51 123.92h2.3v2.3h-2.3zM637.86 122.17h2.3v2.3h-2.3zM638.21 122.37h2.3v2.3h-2.3zM638.56 124.05h2.3v2.3h-2.3zM638.9 128.83h2.3v2.3h-2.3zM639.24 125.86h2.3v2.3h-2.3zM639.57 129.17h2.3v2.3h-2.3zM639.9 128.81h2.3v2.3h-2.3zM640.22 129.46h2.3v2.3h-2.3zM640.54 128.84h2.3v2.3h-2.3zM640.86 130.87h2.3v2.3h-2.3zM641.17 128.45h2.3v2.3h-2.3zM641.47 133.34h2.3v2.3h-2.3zM641.78 133.38h2.3v2.3h-2.3zM642.08 135.41h2.3v2.3h-2.3zM642.38 130.85h2.3v2.3h-2.3zM642.67 134.13h2.3v2.3h-2.3zM642.96 131.37h2.3v2.3h-2.3zM643.24 137.14h2.3v2.3h-2.3zM643.53 135.76h2.3v2.3h-2.3zM643.81 134.57h2.3v2.3h-2.3zM644.08 137h2.3v2.3h-2.3zM644.36 135.9h2.3v2.3h-2.3zM644.63 139.49h2.3v2.3h-2.3zM644.89 138.23h2.3v2.3h-2.3zM645.16 140.1h2.3v2.3h-2.3zM645.42 140.55h2.3v2.3h-2.3zM645.68 138.85h2.3v2.3h-2.3zM645.94 138.35h2.3v2.3h-2.3zM646.19 139.6h2.3v2.3h-2.3zM646.44 140.87h2.3v2.3h-2.3zM646.69 140.99h2.3v2.3h-2.3zM646.94 141.66h2.3v2.3h-2.3zM647.18 140.9h2.3v2.3h-2.3zM647.42 140.11h2.3v2.3h-2.3zM647.66 143.41h2.3v2.3h-2.3zM647.9 145.82h2.3v2.3h-2.3zM648.13 144.81h2.3v2.3h-2.3zM648.37 142.11h2.3v2.3h-2.3zM648.6 143.52h2.3v2.3h-2.3zM648.82 141.53h2.3v2.3h-2.3zM649.05 144.51h2.3v2.3h-2.3zM649.27 147.72h2.3v2.3h-2.3zM649.5 146.12h2.3v2.3h-2.3zM649.72 147.53h2.3v2.3h-2.3zM649.93 147.47h2.3v2.3h-2.3zM650.15 146.13h2.3v2.3h-2.3zM650.37 147.91h2.3v2.3h-2.3zM650.58 150.86h2.3v2.3h-2.3zM650.79 149.41h2.3v2.3h-2.3zM651.2 149.39h2.3v2.3h-2.3zM651.41 150.67h2.3v2.3h-2.3zM651.61 149.74h2.3v2.3h-2.3zM651.82 149.97h2.3v2.3h-2.3zM652.22 150.81h2.3v2.3h-2.3zM652.41 150.41h2.3v2.3h-2.3z" fill="#ff00ff"/>
<path d="M594.2 78.3h2.3v2.3h-2.3zM598.02 82.07h2.3v2.3h-2.3zM601.33 83.31h2.3v2.3h-2.3zM604.24 86.77h2.3v2.3h-2.3zM606.85 90h2.3v2.3h-2.3zM608.06 89.85h2.3v2.3h-2.3zM609.21 92.46h2.3v2.3h-2.3zM610.31 91.83h2.3v2.3h-2.3zM611.36 92.13h2.3v2.3h-2.3zM612.37 95h2.3v2.3h-2.3zM613.34 95.38h2.3v2.3h-2.3zM614.28 97.77h2.3v2.3h-2.3zM615.18 99.98h2.3v2.3h-2.3zM616.05 100.09h2.3v2.3h-2.3zM616.89 101.59h2.3v2.3h-2.3zM617.7 103.79h2.3v2.3h-2.3zM618.48 103.41h2.3v2.3h-2.3zM619.25 105.72h2.3v2.3h-2.3zM619.99 100.54h2.3v2.3h-2.3zM620.7 105.3h2.3v2.3h-2.3zM621.4 104.21h2.3v2.3h-2.3zM622.08 107h2.3v2.3h-2.3zM622.74 107.86h2.3v2.3h-2.3zM623.38 108.04h2.3v2.3h-2.3zM624.01 107.58h2.3v2.3h-2.3zM624.62 109.19h2.3v2.3h-2.3zM625.22 108.53h2.3v2.3h-2.3zM625.8 111.56h2.3v2.3h-2.3zM626.37 111.09h2.3v2.3h-2.3zM626.92 111.97h2.3v2.3h-2.3zM627.47 113.04h2.3v2.3h-2.3zM628 113.56h2.3v2.3h-2.3zM628.52 116.95h2.3v2.3h-2.3zM629.03 115.81h2.3v2.3h-2.3zM629.53 118.07h2.3v2.3h-2.3zM630.02 120.56h2.3v2.3h-2.3zM630.5 119.47h2.3v2.3h-2.3zM630.98 120.66h2.3v2.3h-2.3zM631.44 119.68h2.3v2.3h-2.3zM631.89 124.01h2.3v2.3h-2.3zM632.34 121.07h2.3v2.3h-2.3zM632.78 124.12h2.3v2.3h-2.3zM633.21 122.31h2.3v2.3h-2.3zM633.63 122.3h2.3v2.3h-2.3zM634.05 125.01h2.3v2.3h-2.3zM634.46 127.77h2.3v2.3h-2.3zM634.86 126.05h2.3v2.3h-2.3zM635.25 125.87h2.3v2.3h-2.3zM635.64 129.84h2.3v2.3h-2.3zM636.03 128.62h2.3v2.3h-2.3zM636.41 128.21h2.3v2.3h-2.3zM636.78 132h2.3v2.3h-2.3zM637.14 127.75h2.3v2.3h-2.3zM637.51 130.93h2.3v2.3h-2.3zM637.86 132.53h2.3v2.3h-2.3zM638.21 133.36h2.3v2.3h-2.3zM638.56 135.14h2.3v2.3h-2.3zM638.9 133.79h2.3v2.3h-2.3zM639.24 138.24h2.3v2.3h-2.3zM639.57 137.92h2.3v2.3h-2.3zM639.9 137.92h2.3v2.3h-2.3zM640.22 139.28h2.3v2.3h-2.3zM640.54 140.94h2.3v2.3h-2.3zM640.86 141.94h2.3v2.3h-2.3zM641.17 142.7h2.3v2.3h-2.3zM641.47 143.59h2.3v2.3h-2.3zM641.78 144.54h2.3v2.3h-2.3zM642.08 143.76h2.3v2.3h-2.3zM642.38 146.66h2.3v2.3h-2.3zM642.67 144.56h2.3v2.3h-2.3zM642.96 144.47h2.3v2.3h-2.3zM643.24 144.45h2.3v2.3h-2.3zM643.53 145h2.3v2.3h-2.3zM643.81 145.55h2.3v2.3h-2.3zM644.08 146.03h2.3v2.3h-2.3zM644.36 146.7h2.3v2.3h-2.3zM644.63 143.56h2.3v2.3h-2.3zM644.89 147.22h2.3v2.3h-2.3zM645.16 146.89h2.3v2.3h-2.3zM645.42 148.88h2.3v2.3h-2.3zM645.68 146.55h2.3v2.3h-2.3zM645.94 149.9h2.3v2.3h-2.3zM646.19 148.49h2.3v2.3h-2.3z" fill="#000000"/>
<path d="M551 47.46 L552.42 48.27 L553.85 49.07 L555.27 49.88 L556.7 50.69 L558.12 51.5 L559.55 52.3 L560.98 53.11 L562.4 53.92 L563.83 54.73 L565.25 55.53 L566.67 56.34 L568.1 57.15 L569.52 58.17 L570.95 59.21 L572.38 60.24 L573.8 61.28 L575.23 62.31 L576.65 63.35 L578.08 64.38 L579.5 65.47 L580.92 66.57 L582.35 67.66 L583.77 68.76 L585.2 69.85 L586.62 70.95 L588.05 72.04 L589.48 73.14 L590.9 74.24 L592.33 75.4 L593.75 76.55 L595.17 77.71 L596.6 78.87 L598.02 80.02 L599.45 81.18 L600.88 82.34 L602.3 83.5 L603.73 84.92 L605.15 86.38 L606.58 87.85 L608 89.31 L609.42 90.28 L610.85 91.25 L612.27 92.22" fill="none" stroke="#ff00ff" stroke-width="1.0" stroke-linejoin="round" clip-path="url(#ca4)"/>
<path d="M551 48 L552.42 48.78 L553.85 49.57 L555.27 50.35 L556.7 51.14 L558.12 51.92 L559.55 52.71 L560.98 53.49 L562.4 54.28 L563.83 55.06 L565.25 55.85 L566.67 56.63 L568.1 57.42 L569.52 58.37 L570.95 59.33 L572.38 60.29 L573.8 61.24 L575.23 62.2 L576.65 63.16 L578.08 64.12 L579.5 65.2 L580.92 66.3 L582.35 67.39 L583.77 68.49 L585.2 69.58 L586.62 70.68 L588.05 71.77 L589.48 72.87 L590.9 73.97 L592.33 75.16 L593.75 76.35 L595.17 77.54 L596.6 78.73 L598.02 79.92 L599.45 81.11 L600.88 82.3 L602.3 83.49 L603.73 84.74 L605.15 85.99 L606.58 87.25 L608 88.5 L609.42 89.42 L610.85 90.35 L612.27 91.27" fill="none" stroke="#00ffff" stroke-width="1.6" stroke-linejoin="round" clip-path="url(#ca4)"/>
<path d="M551 46.38 L552.37 47.23 L554.25 48.38 L556.49 49.76 L558.95 51.27 L561.49 52.84 L563.97 54.39 L566.24 55.84 L568.16 57.1 L569.73 58.18 L571.1 59.15 L572.33 60.05 L573.45 60.91 L574.55 61.76 L575.66 62.64 L576.86 63.58 L578.19 64.61 L579.61 65.68 L581.06 66.75 L582.54 67.84 L584.07 68.98 L585.65 70.18 L587.3 71.47 L589.03 72.87 L590.84 74.41 L592.79 76.09 L594.87 77.91 L597.05 79.83 L599.29 81.85 L601.55 83.93 L603.78 86.06 L605.94 88.22 L608 90.39 L609.99 92.63 L611.96 95 L613.9 97.44 L615.79 99.91 L617.64 102.35 L619.41 104.72 L621.11 106.96 L622.71 109.02 L624.22 110.92 L625.67 112.7 L627.05 114.38 L628.36 115.97 L629.59 117.49 L630.74 118.94 L631.81 120.35 L632.79 121.71 L633.67 123 L634.41 124.19 L635.06 125.3 L635.63 126.37 L636.17 127.41 L636.69 128.44 L637.23 129.51 L637.81 130.62 L638.42 131.76 L639.01 132.89 L639.6 134.03 L640.19 135.18 L640.78 136.34 L641.37 137.54 L641.98 138.78 L642.6 140.07 L643.27 141.47 L643.99 142.99 L644.73 144.59 L645.48 146.2 L646.19 147.77 L646.86 149.24 L647.43 150.56 L647.9 151.68 L648.25 152.6 L648.5 153.37 L648.68 154.02 L648.8 154.57 L648.88 155.02 L648.93 155.39 L648.98 155.72 L649.04 156" fill="none" stroke="#000000" stroke-width="0.8" stroke-linejoin="round" clip-path="url(#ca4)"/>
<line x1="645.39" y1="152.4" x2="650.52" y2="152.4" stroke="#000000" stroke-width="0.9"/>
<path d="M551 46.38 L552.37 47.23 L554.25 48.38 L556.49 49.76 L558.95 51.27 L561.49 52.84 L563.97 54.39 L566.24 55.84 L568.16 57.1 L569.73 58.18 L571.1 59.15 L572.33 60.05 L573.45 60.91 L574.55 61.76 L575.66 62.64 L576.86 63.58 L578.19 64.61 L579.61 65.68 L581.06 66.75 L582.54 67.84 L584.07 68.98 L585.65 70.18 L587.3 71.47 L589.03 72.87 L590.84 74.41 L592.89 76.22 L595.22 78.34 L597.7 80.65 L600.21 83.01 L602.62 85.29 L604.81 87.37 L606.65 89.11 L608 90.39" fill="none" stroke="#1c1c7c" stroke-width="0.6" stroke-linejoin="round" clip-path="url(#ca4)"/>
<path d="M566.76 55.78h2.8v2.8h-2.8zM576.8 63.07h2.8v2.8h-2.8zM583.92 68.54h2.8v2.8h-2.8zM589.44 72.79h2.8v2.8h-2.8z" fill="#7a62d8"/>
<rect x="549.7" y="45.08" width="2.6" height="2.6" fill="#000000"/>
<rect x="548.9" y="43.5" width="109.5" height="109.8" fill="none" stroke="#7a7a7a" stroke-width="1"/>
<line x1="546.4" y1="153.33" x2="548.9" y2="153.33" stroke="#7a7a7a" stroke-width="1"/>
<line x1="546.4" y1="151.19" x2="548.9" y2="151.19" stroke="#7a7a7a" stroke-width="1"/>
<line x1="546.4" y1="149.38" x2="548.9" y2="149.38" stroke="#7a7a7a" stroke-width="1"/>
<line x1="546.4" y1="147.82" x2="548.9" y2="147.82" stroke="#7a7a7a" stroke-width="1"/>
<line x1="546.4" y1="146.44" x2="548.9" y2="146.44" stroke="#7a7a7a" stroke-width="1"/>
<line x1="544.5" y1="145.2" x2="548.9" y2="145.2" stroke="#7a7a7a" stroke-width="1"/>
<text x="541.6" y="148" font-size="9.5" text-anchor="end" font-weight="normal" fill="#000">1E-4</text>
<line x1="546.4" y1="137.07" x2="548.9" y2="137.07" stroke="#7a7a7a" stroke-width="1"/>
<line x1="546.4" y1="132.32" x2="548.9" y2="132.32" stroke="#7a7a7a" stroke-width="1"/>
<line x1="546.4" y1="128.94" x2="548.9" y2="128.94" stroke="#7a7a7a" stroke-width="1"/>
<line x1="546.4" y1="126.33" x2="548.9" y2="126.33" stroke="#7a7a7a" stroke-width="1"/>
<line x1="546.4" y1="124.19" x2="548.9" y2="124.19" stroke="#7a7a7a" stroke-width="1"/>
<line x1="546.4" y1="122.38" x2="548.9" y2="122.38" stroke="#7a7a7a" stroke-width="1"/>
<line x1="546.4" y1="120.82" x2="548.9" y2="120.82" stroke="#7a7a7a" stroke-width="1"/>
<line x1="546.4" y1="119.44" x2="548.9" y2="119.44" stroke="#7a7a7a" stroke-width="1"/>
<line x1="544.5" y1="118.2" x2="548.9" y2="118.2" stroke="#7a7a7a" stroke-width="1"/>
<text x="541.6" y="121" font-size="9.5" text-anchor="end" font-weight="normal" fill="#000">1E-3</text>
<line x1="546.4" y1="110.07" x2="548.9" y2="110.07" stroke="#7a7a7a" stroke-width="1"/>
<line x1="546.4" y1="105.32" x2="548.9" y2="105.32" stroke="#7a7a7a" stroke-width="1"/>
<line x1="546.4" y1="101.94" x2="548.9" y2="101.94" stroke="#7a7a7a" stroke-width="1"/>
<line x1="546.4" y1="99.33" x2="548.9" y2="99.33" stroke="#7a7a7a" stroke-width="1"/>
<line x1="546.4" y1="97.19" x2="548.9" y2="97.19" stroke="#7a7a7a" stroke-width="1"/>
<line x1="546.4" y1="95.38" x2="548.9" y2="95.38" stroke="#7a7a7a" stroke-width="1"/>
<line x1="546.4" y1="93.82" x2="548.9" y2="93.82" stroke="#7a7a7a" stroke-width="1"/>
<line x1="546.4" y1="92.44" x2="548.9" y2="92.44" stroke="#7a7a7a" stroke-width="1"/>
<line x1="544.5" y1="91.2" x2="548.9" y2="91.2" stroke="#7a7a7a" stroke-width="1"/>
<text x="541.6" y="94" font-size="9.5" text-anchor="end" font-weight="normal" fill="#000">0.01</text>
<line x1="546.4" y1="83.07" x2="548.9" y2="83.07" stroke="#7a7a7a" stroke-width="1"/>
<line x1="546.4" y1="78.32" x2="548.9" y2="78.32" stroke="#7a7a7a" stroke-width="1"/>
<line x1="546.4" y1="74.94" x2="548.9" y2="74.94" stroke="#7a7a7a" stroke-width="1"/>
<line x1="546.4" y1="72.33" x2="548.9" y2="72.33" stroke="#7a7a7a" stroke-width="1"/>
<line x1="546.4" y1="70.19" x2="548.9" y2="70.19" stroke="#7a7a7a" stroke-width="1"/>
<line x1="546.4" y1="68.38" x2="548.9" y2="68.38" stroke="#7a7a7a" stroke-width="1"/>
<line x1="546.4" y1="66.82" x2="548.9" y2="66.82" stroke="#7a7a7a" stroke-width="1"/>
<line x1="546.4" y1="65.44" x2="548.9" y2="65.44" stroke="#7a7a7a" stroke-width="1"/>
<line x1="544.5" y1="64.2" x2="548.9" y2="64.2" stroke="#7a7a7a" stroke-width="1"/>
<text x="541.6" y="67" font-size="9.5" text-anchor="end" font-weight="normal" fill="#000">0.1</text>
<line x1="546.4" y1="56.07" x2="548.9" y2="56.07" stroke="#7a7a7a" stroke-width="1"/>
<line x1="546.4" y1="51.32" x2="548.9" y2="51.32" stroke="#7a7a7a" stroke-width="1"/>
<line x1="546.4" y1="47.94" x2="548.9" y2="47.94" stroke="#7a7a7a" stroke-width="1"/>
<line x1="546.4" y1="45.33" x2="548.9" y2="45.33" stroke="#7a7a7a" stroke-width="1"/>
<line x1="551" y1="153.3" x2="551" y2="157.5" stroke="#7a7a7a" stroke-width="1"/>
<text x="551" y="168.5" font-size="9.5" text-anchor="middle" font-weight="normal" fill="#000">1</text>
<line x1="568.16" y1="153.3" x2="568.16" y2="155.8" stroke="#7a7a7a" stroke-width="1"/>
<line x1="578.2" y1="153.3" x2="578.2" y2="155.8" stroke="#7a7a7a" stroke-width="1"/>
<line x1="585.32" y1="153.3" x2="585.32" y2="155.8" stroke="#7a7a7a" stroke-width="1"/>
<line x1="590.84" y1="153.3" x2="590.84" y2="155.8" stroke="#7a7a7a" stroke-width="1"/>
<line x1="595.35" y1="153.3" x2="595.35" y2="155.8" stroke="#7a7a7a" stroke-width="1"/>
<line x1="599.17" y1="153.3" x2="599.17" y2="155.8" stroke="#7a7a7a" stroke-width="1"/>
<line x1="602.48" y1="153.3" x2="602.48" y2="155.8" stroke="#7a7a7a" stroke-width="1"/>
<line x1="605.39" y1="153.3" x2="605.39" y2="155.8" stroke="#7a7a7a" stroke-width="1"/>
<line x1="608" y1="153.3" x2="608" y2="157.5" stroke="#7a7a7a" stroke-width="1"/>
<text x="608" y="168.5" font-size="9.5" text-anchor="middle" font-weight="normal" fill="#000">10</text>
<line x1="625.16" y1="153.3" x2="625.16" y2="155.8" stroke="#7a7a7a" stroke-width="1"/>
<line x1="635.2" y1="153.3" x2="635.2" y2="155.8" stroke="#7a7a7a" stroke-width="1"/>
<line x1="642.32" y1="153.3" x2="642.32" y2="155.8" stroke="#7a7a7a" stroke-width="1"/>
<line x1="647.84" y1="153.3" x2="647.84" y2="155.8" stroke="#7a7a7a" stroke-width="1"/>
<line x1="652.35" y1="153.3" x2="652.35" y2="155.8" stroke="#7a7a7a" stroke-width="1"/>
<line x1="656.17" y1="153.3" x2="656.17" y2="155.8" stroke="#7a7a7a" stroke-width="1"/>
<text x="520.5" y="105.7" font-size="11.3" text-anchor="middle" font-weight="normal" fill="#000" transform="rotate(-90 520.5 105.7)">p(k)</text>
<text x="603.6" y="179.5" font-size="11.9" text-anchor="middle" font-weight="normal" fill="#000">k</text>
<rect x="70.97" y="278.27" width="5.1" height="34.23" fill="#000000"/>
<rect x="76.07" y="267.77" width="5.1" height="44.73" fill="#00ffff"/>
<rect x="81.17" y="278.68" width="5.1" height="33.82" fill="#ff0000"/>
<rect x="89.22" y="210.22" width="5.1" height="102.28" fill="#000000"/>
<rect x="94.32" y="220.17" width="5.1" height="92.33" fill="#00ffff"/>
<rect x="99.42" y="209.54" width="5.1" height="102.96" fill="#ff0000"/>
<rect x="69.5" y="203.4" width="109.5" height="109.1" fill="none" stroke="#999999" stroke-width="1"/>
<line x1="65.1" y1="312.5" x2="69.5" y2="312.5" stroke="#999999" stroke-width="1"/>
<text x="62.2" y="315.3" font-size="9.5" text-anchor="end" font-weight="normal" fill="#000">0</text>
<line x1="65.1" y1="285.23" x2="69.5" y2="285.23" stroke="#999999" stroke-width="1"/>
<text x="62.2" y="288.03" font-size="9.5" text-anchor="end" font-weight="normal" fill="#000">20</text>
<line x1="65.1" y1="257.95" x2="69.5" y2="257.95" stroke="#999999" stroke-width="1"/>
<text x="62.2" y="260.75" font-size="9.5" text-anchor="end" font-weight="normal" fill="#000">40</text>
<line x1="65.1" y1="230.68" x2="69.5" y2="230.68" stroke="#999999" stroke-width="1"/>
<text x="62.2" y="233.48" font-size="9.5" text-anchor="end" font-weight="normal" fill="#000">60</text>
<line x1="65.1" y1="203.4" x2="69.5" y2="203.4" stroke="#999999" stroke-width="1"/>
<text x="62.2" y="206.2" font-size="9.5" text-anchor="end" font-weight="normal" fill="#000">80</text>
<line x1="67" y1="298.86" x2="69.5" y2="298.86" stroke="#999999" stroke-width="1"/>
<line x1="67" y1="271.59" x2="69.5" y2="271.59" stroke="#999999" stroke-width="1"/>
<line x1="67" y1="244.31" x2="69.5" y2="244.31" stroke="#999999" stroke-width="1"/>
<line x1="67" y1="217.04" x2="69.5" y2="217.04" stroke="#999999" stroke-width="1"/>
<line x1="78.62" y1="312.5" x2="78.62" y2="316.7" stroke="#999999" stroke-width="1"/>
<text x="78.62" y="327.7" font-size="9.5" text-anchor="middle" font-weight="normal" fill="#000">1</text>
<line x1="96.88" y1="312.5" x2="96.88" y2="316.7" stroke="#999999" stroke-width="1"/>
<text x="96.88" y="327.7" font-size="9.5" text-anchor="middle" font-weight="normal" fill="#000">2</text>
<line x1="115.12" y1="312.5" x2="115.12" y2="316.7" stroke="#999999" stroke-width="1"/>
<text x="115.12" y="327.7" font-size="9.5" text-anchor="middle" font-weight="normal" fill="#000">3</text>
<line x1="133.38" y1="312.5" x2="133.38" y2="316.7" stroke="#999999" stroke-width="1"/>
<text x="133.38" y="327.7" font-size="9.5" text-anchor="middle" font-weight="normal" fill="#000">4</text>
<line x1="151.62" y1="312.5" x2="151.62" y2="316.7" stroke="#999999" stroke-width="1"/>
<text x="151.62" y="327.7" font-size="9.5" text-anchor="middle" font-weight="normal" fill="#000">5</text>
<line x1="169.88" y1="312.5" x2="169.88" y2="316.7" stroke="#999999" stroke-width="1"/>
<text x="169.88" y="327.7" font-size="9.5" text-anchor="middle" font-weight="normal" fill="#000">6</text>
<line x1="69.5" y1="312.5" x2="69.5" y2="315.2" stroke="#999999" stroke-width="1"/>
<line x1="87.75" y1="312.5" x2="87.75" y2="315.2" stroke="#999999" stroke-width="1"/>
<line x1="106" y1="312.5" x2="106" y2="315.2" stroke="#999999" stroke-width="1"/>
<line x1="124.25" y1="312.5" x2="124.25" y2="315.2" stroke="#999999" stroke-width="1"/>
<line x1="142.5" y1="312.5" x2="142.5" y2="315.2" stroke="#999999" stroke-width="1"/>
<line x1="160.75" y1="312.5" x2="160.75" y2="315.2" stroke="#999999" stroke-width="1"/>
<line x1="179" y1="312.5" x2="179" y2="315.2" stroke="#999999" stroke-width="1"/>
<text x="124.25" y="341.6" font-size="11.3" text-anchor="middle" font-weight="normal" fill="#000">Motif</text>
<text x="45.6" y="265.35" font-size="11.3" text-anchor="middle" font-weight="normal" fill="#000" transform="rotate(-90 45.6 265.35)">Percentage</text>
<rect x="233" y="262.9" width="5.1" height="50.9" fill="#000000"/>
<rect x="238.1" y="249" width="5.1" height="64.8" fill="#00ffff"/>
<rect x="243.2" y="262.27" width="5.1" height="51.53" fill="#ff0000"/>
<rect x="251.3" y="209.97" width="5.1" height="103.84" fill="#000000"/>
<rect x="256.4" y="223.24" width="5.1" height="90.56" fill="#00ffff"/>
<rect x="261.5" y="210.43" width="5.1" height="103.37" fill="#ff0000"/>
<rect x="269.6" y="311.93" width="5.1" height="1.87" fill="#000000"/>
<rect x="274.7" y="312.86" width="5.1" height="0.94" fill="#00ffff"/>
<rect x="279.8" y="312.24" width="5.1" height="1.56" fill="#ff0000"/>
<rect x="287.9" y="313.18" width="5.1" height="0.62" fill="#000000"/>
<rect x="293" y="313.33" width="5.1" height="0.47" fill="#00ffff"/>
<rect x="298.1" y="313.18" width="5.1" height="0.62" fill="#ff0000"/>
<rect x="306.2" y="313.49" width="5.1" height="0.31" fill="#000000"/>
<rect x="311.3" y="313.64" width="5.1" height="0.16" fill="#00ffff"/>
<rect x="316.4" y="313.49" width="5.1" height="0.31" fill="#ff0000"/>
<rect x="324.5" y="313.64" width="5.1" height="0.16" fill="#000000"/>
<rect x="329.6" y="313.64" width="5.1" height="0.16" fill="#00ffff"/>
<rect x="334.7" y="313.64" width="5.1" height="0.16" fill="#ff0000"/>
<rect x="231.5" y="204.5" width="109.8" height="109.3" fill="none" stroke="#999999" stroke-width="1"/>
<line x1="227.1" y1="313.8" x2="231.5" y2="313.8" stroke="#999999" stroke-width="1"/>
<text x="224.2" y="316.6" font-size="9.5" text-anchor="end" font-weight="normal" fill="#000">0</text>
<line x1="227.1" y1="282.57" x2="231.5" y2="282.57" stroke="#999999" stroke-width="1"/>
<text x="224.2" y="285.37" font-size="9.5" text-anchor="end" font-weight="normal" fill="#000">20</text>
<line x1="227.1" y1="251.34" x2="231.5" y2="251.34" stroke="#999999" stroke-width="1"/>
<text x="224.2" y="254.14" font-size="9.5" text-anchor="end" font-weight="normal" fill="#000">40</text>
<line x1="227.1" y1="220.11" x2="231.5" y2="220.11" stroke="#999999" stroke-width="1"/>
<text x="224.2" y="222.91" font-size="9.5" text-anchor="end" font-weight="normal" fill="#000">60</text>
<line x1="229" y1="298.19" x2="231.5" y2="298.19" stroke="#999999" stroke-width="1"/>
<line x1="229" y1="266.96" x2="231.5" y2="266.96" stroke="#999999" stroke-width="1"/>
<line x1="229" y1="235.73" x2="231.5" y2="235.73" stroke="#999999" stroke-width="1"/>
<line x1="229" y1="204.5" x2="231.5" y2="204.5" stroke="#999999" stroke-width="1"/>
<line x1="240.65" y1="313.8" x2="240.65" y2="318" stroke="#999999" stroke-width="1"/>
<text x="240.65" y="329" font-size="9.5" text-anchor="middle" font-weight="normal" fill="#000">1</text>
<line x1="258.95" y1="313.8" x2="258.95" y2="318" stroke="#999999" stroke-width="1"/>
<text x="258.95" y="329" font-size="9.5" text-anchor="middle" font-weight="normal" fill="#000">2</text>
<line x1="277.25" y1="313.8" x2="277.25" y2="318" stroke="#999999" stroke-width="1"/>
<text x="277.25" y="329" font-size="9.5" text-anchor="middle" font-weight="normal" fill="#000">3</text>
<line x1="295.55" y1="313.8" x2="295.55" y2="318" stroke="#999999" stroke-width="1"/>
<text x="295.55" y="329" font-size="9.5" text-anchor="middle" font-weight="normal" fill="#000">4</text>
<line x1="313.85" y1="313.8" x2="313.85" y2="318" stroke="#999999" stroke-width="1"/>
<text x="313.85" y="329" font-size="9.5" text-anchor="middle" font-weight="normal" fill="#000">5</text>
<line x1="332.15" y1="313.8" x2="332.15" y2="318" stroke="#999999" stroke-width="1"/>
<text x="332.15" y="329" font-size="9.5" text-anchor="middle" font-weight="normal" fill="#000">6</text>
<line x1="231.5" y1="313.8" x2="231.5" y2="316.5" stroke="#999999" stroke-width="1"/>
<line x1="249.8" y1="313.8" x2="249.8" y2="316.5" stroke="#999999" stroke-width="1"/>
<line x1="268.1" y1="313.8" x2="268.1" y2="316.5" stroke="#999999" stroke-width="1"/>
<line x1="286.4" y1="313.8" x2="286.4" y2="316.5" stroke="#999999" stroke-width="1"/>
<line x1="304.7" y1="313.8" x2="304.7" y2="316.5" stroke="#999999" stroke-width="1"/>
<line x1="323" y1="313.8" x2="323" y2="316.5" stroke="#999999" stroke-width="1"/>
<line x1="341.3" y1="313.8" x2="341.3" y2="316.5" stroke="#999999" stroke-width="1"/>
<text x="286.4" y="341.6" font-size="11.3" text-anchor="middle" font-weight="normal" fill="#000">Motif</text>
<text x="208.3" y="266.55" font-size="11.3" text-anchor="middle" font-weight="normal" fill="#000" transform="rotate(-90 208.3 266.55)">Percentage</text>
<rect x="391.48" y="241.24" width="5.1" height="72.36" fill="#000000"/>
<rect x="396.58" y="215.01" width="5.1" height="98.59" fill="#00ffff"/>
<rect x="401.68" y="241.24" width="5.1" height="72.36" fill="#ff0000"/>
<rect x="409.93" y="213.04" width="5.1" height="100.56" fill="#000000"/>
<rect x="415.03" y="222.44" width="5.1" height="91.16" fill="#00ffff"/>
<rect x="420.12" y="209.33" width="5.1" height="104.27" fill="#ff0000"/>
<rect x="428.38" y="276.22" width="5.1" height="37.38" fill="#000000"/>
<rect x="433.48" y="289.55" width="5.1" height="24.05" fill="#00ffff"/>
<rect x="438.57" y="278.62" width="5.1" height="34.98" fill="#ff0000"/>
<rect x="446.83" y="310.54" width="5.1" height="3.06" fill="#000000"/>
<rect x="451.93" y="310.32" width="5.1" height="3.28" fill="#00ffff"/>
<rect x="457.03" y="310.32" width="5.1" height="3.28" fill="#ff0000"/>
<rect x="465.28" y="308.14" width="5.1" height="5.46" fill="#000000"/>
<rect x="470.38" y="310.76" width="5.1" height="2.84" fill="#00ffff"/>
<rect x="475.48" y="308.79" width="5.1" height="4.81" fill="#ff0000"/>
<rect x="483.73" y="312.73" width="5.1" height="0.87" fill="#000000"/>
<rect x="488.83" y="313.38" width="5.1" height="0.22" fill="#00ffff"/>
<rect x="493.93" y="312.94" width="5.1" height="0.66" fill="#ff0000"/>
<rect x="389.9" y="204.3" width="110.7" height="109.3" fill="none" stroke="#999999" stroke-width="1"/>
<line x1="385.5" y1="313.6" x2="389.9" y2="313.6" stroke="#999999" stroke-width="1"/>
<text x="382.6" y="316.4" font-size="9.5" text-anchor="end" font-weight="normal" fill="#000">0</text>
<line x1="385.5" y1="269.88" x2="389.9" y2="269.88" stroke="#999999" stroke-width="1"/>
<text x="382.6" y="272.68" font-size="9.5" text-anchor="end" font-weight="normal" fill="#000">20</text>
<line x1="385.5" y1="226.16" x2="389.9" y2="226.16" stroke="#999999" stroke-width="1"/>
<text x="382.6" y="228.96" font-size="9.5" text-anchor="end" font-weight="normal" fill="#000">40</text>
<line x1="387.4" y1="291.74" x2="389.9" y2="291.74" stroke="#999999" stroke-width="1"/>
<line x1="387.4" y1="248.02" x2="389.9" y2="248.02" stroke="#999999" stroke-width="1"/>
<line x1="387.4" y1="204.3" x2="389.9" y2="204.3" stroke="#999999" stroke-width="1"/>
<line x1="399.12" y1="313.6" x2="399.12" y2="317.8" stroke="#999999" stroke-width="1"/>
<text x="399.12" y="328.8" font-size="9.5" text-anchor="middle" font-weight="normal" fill="#000">1</text>
<line x1="417.57" y1="313.6" x2="417.57" y2="317.8" stroke="#999999" stroke-width="1"/>
<text x="417.57" y="328.8" font-size="9.5" text-anchor="middle" font-weight="normal" fill="#000">2</text>
<line x1="436.02" y1="313.6" x2="436.02" y2="317.8" stroke="#999999" stroke-width="1"/>
<text x="436.02" y="328.8" font-size="9.5" text-anchor="middle" font-weight="normal" fill="#000">3</text>
<line x1="454.48" y1="313.6" x2="454.48" y2="317.8" stroke="#999999" stroke-width="1"/>
<text x="454.48" y="328.8" font-size="9.5" text-anchor="middle" font-weight="normal" fill="#000">4</text>
<line x1="472.93" y1="313.6" x2="472.93" y2="317.8" stroke="#999999" stroke-width="1"/>
<text x="472.93" y="328.8" font-size="9.5" text-anchor="middle" font-weight="normal" fill="#000">5</text>
<line x1="491.38" y1="313.6" x2="491.38" y2="317.8" stroke="#999999" stroke-width="1"/>
<text x="491.38" y="328.8" font-size="9.5" text-anchor="middle" font-weight="normal" fill="#000">6</text>
<line x1="389.9" y1="313.6" x2="389.9" y2="316.3" stroke="#999999" stroke-width="1"/>
<line x1="408.35" y1="313.6" x2="408.35" y2="316.3" stroke="#999999" stroke-width="1"/>
<line x1="426.8" y1="313.6" x2="426.8" y2="316.3" stroke="#999999" stroke-width="1"/>
<line x1="445.25" y1="313.6" x2="445.25" y2="316.3" stroke="#999999" stroke-width="1"/>
<line x1="463.7" y1="313.6" x2="463.7" y2="316.3" stroke="#999999" stroke-width="1"/>
<line x1="482.15" y1="313.6" x2="482.15" y2="316.3" stroke="#999999" stroke-width="1"/>
<line x1="500.6" y1="313.6" x2="500.6" y2="316.3" stroke="#999999" stroke-width="1"/>
<text x="445.25" y="341.6" font-size="11.3" text-anchor="middle" font-weight="normal" fill="#000">Motif</text>
<text x="368.3" y="266.35" font-size="11.3" text-anchor="middle" font-weight="normal" fill="#000" transform="rotate(-90 368.3 266.35)">Percentage</text>
<rect x="550.48" y="243.41" width="5.1" height="70.39" fill="#000000"/>
<rect x="555.58" y="218.38" width="5.1" height="95.42" fill="#00ffff"/>
<rect x="560.68" y="256.55" width="5.1" height="57.25" fill="#ff0000"/>
<rect x="568.73" y="229.95" width="5.1" height="83.85" fill="#000000"/>
<rect x="573.83" y="252.79" width="5.1" height="61.01" fill="#00ffff"/>
<rect x="578.93" y="214" width="5.1" height="99.8" fill="#ff0000"/>
<rect x="586.98" y="311.92" width="5.1" height="1.88" fill="#000000"/>
<rect x="592.08" y="313.02" width="5.1" height="0.78" fill="#00ffff"/>
<rect x="597.18" y="313.33" width="5.1" height="0.47" fill="#ff0000"/>
<rect x="605.23" y="313.17" width="5.1" height="0.63" fill="#000000"/>
<rect x="610.33" y="313.49" width="5.1" height="0.31" fill="#00ffff"/>
<rect x="615.43" y="313.49" width="5.1" height="0.31" fill="#ff0000"/>
<rect x="623.48" y="313.49" width="5.1" height="0.31" fill="#000000"/>
<rect x="628.58" y="313.64" width="5.1" height="0.16" fill="#00ffff"/>
<rect x="633.68" y="313.64" width="5.1" height="0.16" fill="#ff0000"/>
<rect x="641.73" y="313.49" width="5.1" height="0.31" fill="#000000"/>
<rect x="646.83" y="313.64" width="5.1" height="0.16" fill="#00ffff"/>
<rect x="651.93" y="313.64" width="5.1" height="0.16" fill="#ff0000"/>
<rect x="549" y="204.3" width="109.5" height="109.5" fill="none" stroke="#999999" stroke-width="1"/>
<line x1="544.6" y1="313.8" x2="549" y2="313.8" stroke="#999999" stroke-width="1"/>
<text x="541.7" y="316.6" font-size="9.5" text-anchor="end" font-weight="normal" fill="#000">0</text>
<line x1="544.6" y1="282.51" x2="549" y2="282.51" stroke="#999999" stroke-width="1"/>
<text x="541.7" y="285.31" font-size="9.5" text-anchor="end" font-weight="normal" fill="#000">20</text>
<line x1="544.6" y1="251.23" x2="549" y2="251.23" stroke="#999999" stroke-width="1"/>
<text x="541.7" y="254.03" font-size="9.5" text-anchor="end" font-weight="normal" fill="#000">40</text>
<line x1="544.6" y1="219.94" x2="549" y2="219.94" stroke="#999999" stroke-width="1"/>
<text x="541.7" y="222.74" font-size="9.5" text-anchor="end" font-weight="normal" fill="#000">60</text>
<line x1="546.5" y1="298.16" x2="549" y2="298.16" stroke="#999999" stroke-width="1"/>
<line x1="546.5" y1="266.87" x2="549" y2="266.87" stroke="#999999" stroke-width="1"/>
<line x1="546.5" y1="235.59" x2="549" y2="235.59" stroke="#999999" stroke-width="1"/>
<line x1="546.5" y1="204.3" x2="549" y2="204.3" stroke="#999999" stroke-width="1"/>
<line x1="558.12" y1="313.8" x2="558.12" y2="318" stroke="#999999" stroke-width="1"/>
<text x="558.12" y="329" font-size="9.5" text-anchor="middle" font-weight="normal" fill="#000">1</text>
<line x1="576.38" y1="313.8" x2="576.38" y2="318" stroke="#999999" stroke-width="1"/>
<text x="576.38" y="329" font-size="9.5" text-anchor="middle" font-weight="normal" fill="#000">2</text>
<line x1="594.62" y1="313.8" x2="594.62" y2="318" stroke="#999999" stroke-width="1"/>
<text x="594.62" y="329" font-size="9.5" text-anchor="middle" font-weight="normal" fill="#000">3</text>
<line x1="612.88" y1="313.8" x2="612.88" y2="318" stroke="#999999" stroke-width="1"/>
<text x="612.88" y="329" font-size="9.5" text-anchor="middle" font-weight="normal" fill="#000">4</text>
<line x1="631.12" y1="313.8" x2="631.12" y2="318" stroke="#999999" stroke-width="1"/>
<text x="631.12" y="329" font-size="9.5" text-anchor="middle" font-weight="normal" fill="#000">5</text>
<line x1="649.38" y1="313.8" x2="649.38" y2="318" stroke="#999999" stroke-width="1"/>
<text x="649.38" y="329" font-size="9.5" text-anchor="middle" font-weight="normal" fill="#000">6</text>
<line x1="549" y1="313.8" x2="549" y2="316.5" stroke="#999999" stroke-width="1"/>
<line x1="567.25" y1="313.8" x2="567.25" y2="316.5" stroke="#999999" stroke-width="1"/>
<line x1="585.5" y1="313.8" x2="585.5" y2="316.5" stroke="#999999" stroke-width="1"/>
<line x1="603.75" y1="313.8" x2="603.75" y2="316.5" stroke="#999999" stroke-width="1"/>
<line x1="622" y1="313.8" x2="622" y2="316.5" stroke="#999999" stroke-width="1"/>
<line x1="640.25" y1="313.8" x2="640.25" y2="316.5" stroke="#999999" stroke-width="1"/>
<line x1="658.5" y1="313.8" x2="658.5" y2="316.5" stroke="#999999" stroke-width="1"/>
<text x="603.75" y="341.6" font-size="11.3" text-anchor="middle" font-weight="normal" fill="#000">Motif</text>
<text x="526.7" y="266.45" font-size="11.3" text-anchor="middle" font-weight="normal" fill="#000" transform="rotate(-90 526.7 266.45)">Percentage</text>
<line x1="127.8" y1="214.3" x2="142.6" y2="214.3" stroke="#333333" stroke-width="0.95"/>
<line x1="127.8" y1="214.3" x2="127.8" y2="226.1" stroke="#333333" stroke-width="0.95"/>
<line x1="127.8" y1="214.3" x2="142.6" y2="226.1" stroke="#333333" stroke-width="0.95"/>
<circle cx="127.8" cy="214.3" r="2.5" fill="#0000ff"/>
<circle cx="142.6" cy="214.3" r="2.5" fill="#0000ff"/>
<circle cx="127.8" cy="226.1" r="2.5" fill="#0000ff"/>
<circle cx="142.6" cy="226.1" r="2.5" fill="#0000ff"/>
<text x="135.2" y="236" font-size="9.5" text-anchor="middle" font-weight="normal" fill="#000">1</text>
<line x1="152.2" y1="214.3" x2="167" y2="214.3" stroke="#333333" stroke-width="0.95"/>
<line x1="152.2" y1="214.3" x2="167" y2="226.1" stroke="#333333" stroke-width="0.95"/>
<line x1="167" y1="214.3" x2="152.2" y2="226.1" stroke="#333333" stroke-width="0.95"/>
<circle cx="152.2" cy="214.3" r="2.5" fill="#0000ff"/>
<circle cx="167" cy="214.3" r="2.5" fill="#0000ff"/>
<circle cx="152.2" cy="226.1" r="2.5" fill="#0000ff"/>
<circle cx="167" cy="226.1" r="2.5" fill="#0000ff"/>
<text x="159.6" y="236" font-size="9.5" text-anchor="middle" font-weight="normal" fill="#000">2</text>
<line x1="127.8" y1="242.3" x2="142.6" y2="242.3" stroke="#333333" stroke-width="0.95"/>
<line x1="127.8" y1="242.3" x2="127.8" y2="254.1" stroke="#333333" stroke-width="0.95"/>
<line x1="127.8" y1="242.3" x2="142.6" y2="254.1" stroke="#333333" stroke-width="0.95"/>
<line x1="142.6" y1="242.3" x2="127.8" y2="254.1" stroke="#333333" stroke-width="0.95"/>
<circle cx="127.8" cy="242.3" r="2.5" fill="#0000ff"/>
<circle cx="142.6" cy="242.3" r="2.5" fill="#0000ff"/>
<circle cx="127.8" cy="254.1" r="2.5" fill="#0000ff"/>
<circle cx="142.6" cy="254.1" r="2.5" fill="#0000ff"/>
<text x="135.2" y="264" font-size="9.5" text-anchor="middle" font-weight="normal" fill="#000">3</text>
<line x1="152.8" y1="242.3" x2="152.8" y2="254.1" stroke="#333333" stroke-width="0.95"/>
<line x1="167.6" y1="242.3" x2="167.6" y2="254.1" stroke="#333333" stroke-width="0.95"/>
<line x1="152.8" y1="242.3" x2="167.6" y2="254.1" stroke="#333333" stroke-width="0.95"/>
<line x1="167.6" y1="242.3" x2="152.8" y2="254.1" stroke="#333333" stroke-width="0.95"/>
<circle cx="152.8" cy="242.3" r="2.5" fill="#0000ff"/>
<circle cx="167.6" cy="242.3" r="2.5" fill="#0000ff"/>
<circle cx="152.8" cy="254.1" r="2.5" fill="#0000ff"/>
<circle cx="167.6" cy="254.1" r="2.5" fill="#0000ff"/>
<text x="160.2" y="264" font-size="9.5" text-anchor="middle" font-weight="normal" fill="#000">4</text>
<line x1="128.1" y1="271.2" x2="142.9" y2="271.2" stroke="#333333" stroke-width="0.95"/>
<line x1="128.1" y1="271.2" x2="128.1" y2="283" stroke="#333333" stroke-width="0.95"/>
<line x1="142.9" y1="271.2" x2="142.9" y2="283" stroke="#333333" stroke-width="0.95"/>
<line x1="128.1" y1="271.2" x2="142.9" y2="283" stroke="#333333" stroke-width="0.95"/>
<line x1="142.9" y1="271.2" x2="128.1" y2="283" stroke="#333333" stroke-width="0.95"/>
<circle cx="128.1" cy="271.2" r="2.5" fill="#0000ff"/>
<circle cx="142.9" cy="271.2" r="2.5" fill="#0000ff"/>
<circle cx="128.1" cy="283" r="2.5" fill="#0000ff"/>
<circle cx="142.9" cy="283" r="2.5" fill="#0000ff"/>
<text x="135.5" y="292.9" font-size="9.5" text-anchor="middle" font-weight="normal" fill="#000">5</text>
<line x1="153.4" y1="271.2" x2="168.2" y2="271.2" stroke="#333333" stroke-width="0.95"/>
<line x1="153.4" y1="271.2" x2="153.4" y2="283" stroke="#333333" stroke-width="0.95"/>
<line x1="168.2" y1="271.2" x2="168.2" y2="283" stroke="#333333" stroke-width="0.95"/>
<line x1="153.4" y1="271.2" x2="168.2" y2="283" stroke="#333333" stroke-width="0.95"/>
<line x1="168.2" y1="271.2" x2="153.4" y2="283" stroke="#333333" stroke-width="0.95"/>
<line x1="153.4" y1="283" x2="168.2" y2="283" stroke="#333333" stroke-width="0.95"/>
<circle cx="153.4" cy="271.2" r="2.5" fill="#0000ff"/>
<circle cx="168.2" cy="271.2" r="2.5" fill="#0000ff"/>
<circle cx="153.4" cy="283" r="2.5" fill="#0000ff"/>
<circle cx="168.2" cy="283" r="2.5" fill="#0000ff"/>
<text x="160.8" y="292.9" font-size="9.5" text-anchor="middle" font-weight="normal" fill="#000">6</text>
<path d="M70.3 454.07 L71.07 448.76 L71.83 442.68 L72.6 435.91 L73.36 428.63 L74.13 421.03 L74.9 413.42 L75.66 406.12 L76.43 399.47 L77.2 393.82 L77.96 389.48 L78.73 386.71 L79.5 385.67 L80.26 386.43 L81.03 388.93 L81.79 393.03 L82.56 398.49 L83.33 405 L84.09 412.22 L84.86 419.81 L85.62 427.42 L86.39 434.78 L87.16 441.64 L87.92 447.84 L88.69 453.28 L89.46 457.92 L90.22 461.77 L90.99 464.89 L91.75 467.35 L92.52 469.24 L93.29 470.67 L94.05 471.71 L94.82 472.46 L95.59 472.98 L96.35 473.34 L97.12 473.58 L97.88 473.74 L98.65 473.84 L99.42 473.91 L100.18 473.95 L100.95 473.97 L101.72 473.98 L102.48 473.99 L103.25 473.99 L104.01 474 L104.78 474 L105.55 474 L106.31 474 L107.08 474 L107.85 474 L108.61 474 L109.38 474 L110.14 474 L110.91 474 L111.68 474 L112.44 474 L113.21 474 L113.98 474 L114.74 474 L115.51 474 L116.28 474 L117.04 474 L117.81 474 L118.57 474 L119.34 474 L120.11 474 L120.87 474 L121.64 474 L122.41 474 L123.17 474 L123.94 474 L124.7 474 L125.47 474 L126.24 474 L127 474 L127.77 474 L128.53 474 L129.3 474 L130.07 474 L130.83 474 L131.6 474 L132.37 474 L133.13 474 L133.9 474 L134.66 474 L135.43 474 L136.2 474 L136.96 474 L137.73 474 L138.5 474 L139.26 474 L140.03 474 L140.8 474 L141.56 474 L142.33 474 L143.09 474 L143.86 474 L144.63 474 L145.39 474 L146.16 474 L146.93 474 L147.69 474 L148.46 474 L149.22 474 L149.99 474 L150.76 474 L151.52 474 L152.29 474 L153.06 474 L153.82 474 L154.59 474 L155.35 474 L156.12 474 L156.89 474 L157.65 474 L158.42 474 L159.19 474 L159.95 474 L160.72 474 L161.48 474 L162.25 474 L163.02 474 L163.78 474 L164.55 474 L165.31 474 L166.08 474 L166.85 474 L167.61 474 L168.38 474 L169.15 474 L169.91 474 L170.68 474 L171.44 474 L172.21 474 L172.98 474 L173.74 474 L174.51 474 L175.28 474 L176.04 474 L176.81 474 L177.57 474" fill="none" stroke="#e42424" stroke-width="0.7" stroke-linejoin="round" clip-path="url(#cc1)"/>
<path d="M70.3 473.87 L71.07 473.76 L71.83 473.59 L72.6 473.34 L73.36 472.97 L74.13 472.48 L74.9 471.82 L75.66 470.96 L76.43 469.9 L77.2 468.58 L77.96 467.01 L78.73 465.17 L79.5 463.05 L80.26 460.67 L81.03 458.03 L81.79 455.16 L82.56 452.11 L83.33 448.9 L84.09 445.61 L84.86 442.28 L85.62 438.97 L86.39 435.76 L87.16 432.7 L87.92 429.86 L88.69 427.29 L89.46 425.05 L90.22 423.17 L90.99 421.69 L91.75 420.62 L92.52 419.99 L93.29 419.78 L94.05 420 L94.82 420.62 L95.59 421.62 L96.35 422.97 L97.12 424.63 L97.88 426.55 L98.65 428.7 L99.42 431.03 L100.18 433.49 L100.95 436.04 L101.72 438.64 L102.48 441.26 L103.25 443.85 L104.01 446.39 L104.78 448.86 L105.55 451.22 L106.31 453.47 L107.08 455.6 L107.85 457.58 L108.61 459.42 L109.38 461.12 L110.14 462.67 L110.91 464.09 L111.68 465.36 L112.44 466.51 L113.21 467.53 L113.98 468.43 L114.74 469.23 L115.51 469.94 L116.28 470.55 L117.04 471.08 L117.81 471.54 L118.57 471.94 L119.34 472.27 L120.11 472.56 L120.87 472.81 L121.64 473.01 L122.41 473.19 L123.17 473.33 L123.94 473.45 L124.7 473.56 L125.47 473.64 L126.24 473.71 L127 473.76 L127.77 473.81 L128.53 473.85 L129.3 473.88 L130.07 473.9 L130.83 473.92 L131.6 473.94 L132.37 473.95 L133.13 473.96 L133.9 473.97 L134.66 473.98 L135.43 473.98 L136.2 473.99 L136.96 473.99 L137.73 473.99 L138.5 473.99 L139.26 474 L140.03 474 L140.8 474 L141.56 474 L142.33 474 L143.09 474 L143.86 474 L144.63 474 L145.39 474 L146.16 474 L146.93 474 L147.69 474 L148.46 474 L149.22 474 L149.99 474 L150.76 474 L151.52 474 L152.29 474 L153.06 474 L153.82 474 L154.59 474 L155.35 474 L156.12 474 L156.89 474 L157.65 474 L158.42 474 L159.19 474 L159.95 474 L160.72 474 L161.48 474 L162.25 474 L163.02 474 L163.78 474 L164.55 474 L165.31 474 L166.08 474 L166.85 474 L167.61 474 L168.38 474 L169.15 474 L169.91 474 L170.68 474 L171.44 474 L172.21 474 L172.98 474 L173.74 474 L174.51 474 L175.28 474 L176.04 474 L176.81 474 L177.57 474" fill="none" stroke="#ff00ff" stroke-width="0.9" stroke-linejoin="round" clip-path="url(#cc1)"/>
<path d="M70.3 474 L71.07 474 L71.83 474 L72.6 474 L73.36 474 L74.13 474 L74.9 474 L75.66 474 L76.43 473.99 L77.2 473.99 L77.96 473.99 L78.73 473.98 L79.5 473.97 L80.26 473.96 L81.03 473.94 L81.79 473.91 L82.56 473.88 L83.33 473.84 L84.09 473.78 L84.86 473.71 L85.62 473.62 L86.39 473.51 L87.16 473.37 L87.92 473.2 L88.69 473 L89.46 472.75 L90.22 472.46 L90.99 472.11 L91.75 471.71 L92.52 471.24 L93.29 470.71 L94.05 470.1 L94.82 469.42 L95.59 468.65 L96.35 467.8 L97.12 466.87 L97.88 465.85 L98.65 464.75 L99.42 463.56 L100.18 462.3 L100.95 460.96 L101.72 459.56 L102.48 458.09 L103.25 456.58 L104.01 455.03 L104.78 453.46 L105.55 451.87 L106.31 450.28 L107.08 448.71 L107.85 447.17 L108.61 445.67 L109.38 444.24 L110.14 442.88 L110.91 441.6 L111.68 440.43 L112.44 439.37 L113.21 438.43 L113.98 437.62 L114.74 436.96 L115.51 436.43 L116.28 436.06 L117.04 435.84 L117.81 435.76 L118.57 435.84 L119.34 436.06 L120.11 436.42 L120.87 436.92 L121.64 437.55 L122.41 438.29 L123.17 439.15 L123.94 440.1 L124.7 441.14 L125.47 442.26 L126.24 443.44 L127 444.68 L127.77 445.96 L128.53 447.27 L129.3 448.6 L130.07 449.94 L130.83 451.28 L131.6 452.62 L132.37 453.93 L133.13 455.22 L133.9 456.48 L134.66 457.71 L135.43 458.89 L136.2 460.03 L136.96 461.11 L137.73 462.15 L138.5 463.13 L139.26 464.06 L140.03 464.94 L140.8 465.76 L141.56 466.52 L142.33 467.23 L143.09 467.89 L143.86 468.5 L144.63 469.07 L145.39 469.58 L146.16 470.05 L146.93 470.48 L147.69 470.87 L148.46 471.23 L149.22 471.55 L149.99 471.84 L150.76 472.09 L151.52 472.33 L152.29 472.53 L153.06 472.72 L153.82 472.88 L154.59 473.03 L155.35 473.15 L156.12 473.27 L156.89 473.37 L157.65 473.45 L158.42 473.53 L159.19 473.6 L159.95 473.65 L160.72 473.7 L161.48 473.75 L162.25 473.78 L163.02 473.82 L163.78 473.84 L164.55 473.87 L165.31 473.89 L166.08 473.91 L166.85 473.92 L167.61 473.93 L168.38 473.94 L169.15 473.95 L169.91 473.96 L170.68 473.97 L171.44 473.97 L172.21 473.98 L172.98 473.98 L173.74 473.98 L174.51 473.99 L175.28 473.99 L176.04 473.99 L176.81 473.99 L177.57 473.99" fill="none" stroke="#000000" stroke-width="0.9" stroke-linejoin="round" clip-path="url(#cc1)"/>
<path d="M72.21 462.22h2.3v2.3h-2.3zM75.28 448.19h2.3v2.3h-2.3zM78.34 433.08h2.3v2.3h-2.3zM81.41 424.06h2.3v2.3h-2.3zM84.47 425.05h2.3v2.3h-2.3zM87.54 434.61h2.3v2.3h-2.3zM90.6 445.85h2.3v2.3h-2.3zM93.67 455.37h2.3v2.3h-2.3zM96.73 461.42h2.3v2.3h-2.3zM99.8 463.79h2.3v2.3h-2.3zM102.86 464.28h2.3v2.3h-2.3zM105.93 463.25h2.3v2.3h-2.3zM108.99 462.22h2.3v2.3h-2.3zM112.06 461.76h2.3v2.3h-2.3zM115.12 461.76h2.3v2.3h-2.3zM118.19 462.14h2.3v2.3h-2.3zM121.25 463.14h2.3v2.3h-2.3zM124.32 464.28h2.3v2.3h-2.3zM127.38 465.85h2.3v2.3h-2.3zM130.45 467.27h2.3v2.3h-2.3zM133.51 468.64h2.3v2.3h-2.3zM136.58 469.87h2.3v2.3h-2.3zM139.65 471.01h2.3v2.3h-2.3zM142.71 471.7h2.3v2.3h-2.3zM145.78 472.24h2.3v2.3h-2.3zM148.84 472.51h2.3v2.3h-2.3zM151.91 472.66h2.3v2.3h-2.3zM154.97 472.74h2.3v2.3h-2.3zM158.03 472.77h2.3v2.3h-2.3zM161.1 472.81h2.3v2.3h-2.3zM164.16 472.85h2.3v2.3h-2.3zM167.23 472.85h2.3v2.3h-2.3zM170.29 472.85h2.3v2.3h-2.3zM173.36 472.85h2.3v2.3h-2.3zM176.42 472.85h2.3v2.3h-2.3z" fill="#ff00ff"/>
<path d="M72.21 472.85h2.3v2.3h-2.3zM75.28 472.84h2.3v2.3h-2.3zM78.34 472.82h2.3v2.3h-2.3zM81.41 472.73h2.3v2.3h-2.3zM84.47 472.47h2.3v2.3h-2.3zM87.54 471.85h2.3v2.3h-2.3zM90.6 470.56h2.3v2.3h-2.3zM93.67 468.27h2.3v2.3h-2.3zM96.73 464.7h2.3v2.3h-2.3zM99.8 459.81h2.3v2.3h-2.3zM102.86 453.88h2.3v2.3h-2.3zM105.93 447.56h2.3v2.3h-2.3zM108.99 441.73h2.3v2.3h-2.3zM112.06 437.28h2.3v2.3h-2.3zM115.12 434.91h2.3v2.3h-2.3zM118.19 434.91h2.3v2.3h-2.3zM121.25 437.14h2.3v2.3h-2.3zM124.32 441.11h2.3v2.3h-2.3zM127.38 446.12h2.3v2.3h-2.3zM130.45 451.47h2.3v2.3h-2.3zM133.51 456.56h2.3v2.3h-2.3zM136.58 461h2.3v2.3h-2.3zM139.65 464.61h2.3v2.3h-2.3zM142.71 467.35h2.3v2.3h-2.3zM145.78 469.33h2.3v2.3h-2.3zM148.84 470.69h2.3v2.3h-2.3zM151.91 471.57h2.3v2.3h-2.3zM154.97 472.12h2.3v2.3h-2.3zM158.03 472.45h2.3v2.3h-2.3zM161.1 472.63h2.3v2.3h-2.3zM164.16 472.74h2.3v2.3h-2.3zM167.23 472.79h2.3v2.3h-2.3zM170.29 472.82h2.3v2.3h-2.3zM173.36 472.84h2.3v2.3h-2.3zM176.42 472.84h2.3v2.3h-2.3z" fill="#000000"/>
<path d="M72.21 425.05h2.3v2.3h-2.3zM75.28 399.43h2.3v2.3h-2.3zM78.34 382.99h2.3v2.3h-2.3zM81.41 395.22h2.3v2.3h-2.3zM84.47 425.05h2.3v2.3h-2.3zM87.54 444.55h2.3v2.3h-2.3zM90.6 461.76h2.3v2.3h-2.3zM93.67 468.64h2.3v2.3h-2.3zM96.73 471.7h2.3v2.3h-2.3zM99.8 472.47h2.3v2.3h-2.3z" fill="#ff0000"/>
<rect x="70.2" y="368.5" width="107.3" height="109" fill="none" stroke="#3a3a3a" stroke-width="1"/>
<line x1="65.8" y1="474" x2="70.2" y2="474" stroke="#3a3a3a" stroke-width="1"/>
<text x="62.9" y="476.8" font-size="9.5" text-anchor="end" font-weight="normal" fill="#000">0.00</text>
<line x1="65.8" y1="454.88" x2="70.2" y2="454.88" stroke="#3a3a3a" stroke-width="1"/>
<text x="62.9" y="457.68" font-size="9.5" text-anchor="end" font-weight="normal" fill="#000">0.05</text>
<line x1="65.8" y1="435.76" x2="70.2" y2="435.76" stroke="#3a3a3a" stroke-width="1"/>
<text x="62.9" y="438.56" font-size="9.5" text-anchor="end" font-weight="normal" fill="#000">0.10</text>
<line x1="65.8" y1="416.64" x2="70.2" y2="416.64" stroke="#3a3a3a" stroke-width="1"/>
<text x="62.9" y="419.44" font-size="9.5" text-anchor="end" font-weight="normal" fill="#000">0.15</text>
<line x1="65.8" y1="397.52" x2="70.2" y2="397.52" stroke="#3a3a3a" stroke-width="1"/>
<text x="62.9" y="400.32" font-size="9.5" text-anchor="end" font-weight="normal" fill="#000">0.20</text>
<line x1="65.8" y1="378.4" x2="70.2" y2="378.4" stroke="#3a3a3a" stroke-width="1"/>
<text x="62.9" y="381.2" font-size="9.5" text-anchor="end" font-weight="normal" fill="#000">0.25</text>
<line x1="67.7" y1="464.44" x2="70.2" y2="464.44" stroke="#3a3a3a" stroke-width="1"/>
<line x1="67.7" y1="445.32" x2="70.2" y2="445.32" stroke="#3a3a3a" stroke-width="1"/>
<line x1="67.7" y1="426.2" x2="70.2" y2="426.2" stroke="#3a3a3a" stroke-width="1"/>
<line x1="67.7" y1="407.08" x2="70.2" y2="407.08" stroke="#3a3a3a" stroke-width="1"/>
<line x1="67.7" y1="387.96" x2="70.2" y2="387.96" stroke="#3a3a3a" stroke-width="1"/>
<line x1="70.3" y1="477.5" x2="70.3" y2="481.7" stroke="#3a3a3a" stroke-width="1"/>
<text x="70.3" y="489.7" font-size="9.5" text-anchor="middle" font-weight="normal" fill="#000">0</text>
<line x1="100.95" y1="477.5" x2="100.95" y2="481.7" stroke="#3a3a3a" stroke-width="1"/>
<text x="100.95" y="489.7" font-size="9.5" text-anchor="middle" font-weight="normal" fill="#000">10</text>
<line x1="131.6" y1="477.5" x2="131.6" y2="481.7" stroke="#3a3a3a" stroke-width="1"/>
<text x="131.6" y="489.7" font-size="9.5" text-anchor="middle" font-weight="normal" fill="#000">20</text>
<line x1="162.25" y1="477.5" x2="162.25" y2="481.7" stroke="#3a3a3a" stroke-width="1"/>
<text x="162.25" y="489.7" font-size="9.5" text-anchor="middle" font-weight="normal" fill="#000">30</text>
<line x1="85.62" y1="477.5" x2="85.62" y2="480" stroke="#3a3a3a" stroke-width="1"/>
<line x1="116.28" y1="477.5" x2="116.28" y2="480" stroke="#3a3a3a" stroke-width="1"/>
<line x1="146.93" y1="477.5" x2="146.93" y2="480" stroke="#3a3a3a" stroke-width="1"/>
<line x1="177.57" y1="477.5" x2="177.57" y2="480" stroke="#3a3a3a" stroke-width="1"/>
<text x="39.3" y="429.6" font-size="11.3" text-anchor="middle" font-weight="normal" fill="#000" transform="rotate(-90 39.3 429.6)">P(K)</text>
<text x="124" y="500.1" font-size="11.9" text-anchor="middle" font-weight="normal" fill="#000">K</text>
<rect x="131.55" y="384.85" width="2.3" height="2.3" fill="#000000"/>
<text x="142.8" y="388.6" font-size="7.6" text-anchor="start" font-weight="normal" fill="#000">Lib</text>
<rect x="131.55" y="393.85" width="2.3" height="2.3" fill="#ff00ff"/>
<text x="142.8" y="397.6" font-size="7.6" text-anchor="start" font-weight="normal" fill="#000">MSN</text>
<rect x="131.55" y="402.85" width="2.3" height="2.3" fill="#ff0000"/>
<text x="142.8" y="406.6" font-size="7.6" text-anchor="start" font-weight="normal" fill="#000">CSN</text>
<path d="M232.4 394.03 L233.3 394.8 L234.19 395.57 L235.09 396.34 L235.98 397.1 L236.88 397.87 L237.77 398.64 L238.67 399.41 L239.56 400.18 L240.46 400.96 L241.35 401.73 L242.25 402.5 L243.14 403.27 L244.03 404.05 L244.93 404.82 L245.83 405.59 L246.72 406.37 L247.62 407.14 L248.51 407.92 L249.41 408.69 L250.3 409.47 L251.19 410.25 L252.09 411.03 L252.99 411.8 L253.88 412.58 L254.78 413.36 L255.67 414.14 L256.56 414.92 L257.46 415.7 L258.36 416.48 L259.25 417.26 L260.14 418.04 L261.04 418.83 L261.94 419.61 L262.83 420.39 L263.73 421.18 L264.62 421.96 L265.51 422.75 L266.41 423.53 L267.31 424.32 L268.2 425.1 L269.1 425.89 L269.99 426.68 L270.88 427.46 L271.78 428.25 L272.68 429.04 L273.57 429.83 L274.47 430.62 L275.36 431.41 L276.25 432.2 L277.15 432.99 L278.05 433.78 L278.94 434.57 L279.84 435.37 L280.73 436.16 L281.62 436.95 L282.52 437.75 L283.42 438.54 L284.31 439.34 L285.2 440.13 L286.1 440.93 L287 441.72 L287.89 442.52 L288.79 443.32 L289.68 444.12 L290.57 444.91 L291.47 445.71 L292.37 446.51 L293.26 447.31 L294.16 448.11 L295.05 448.91 L295.94 449.71 L296.84 450.51 L297.74 451.32 L298.63 452.12 L299.52 452.92 L300.42 453.73 L301.31 454.53 L302.21 455.33 L303.11 456.14 L304 456.95 L304.89 457.75 L305.79 458.56 L306.69 459.36 L307.58 460.17 L308.48 460.98 L309.37 461.79 L310.26 462.6 L311.16 463.41 L312.06 464.22 L312.95 465.03 L313.85 465.84 L314.74 466.65 L315.63 467.46 L316.53 468.27 L317.43 469.09 L318.32 469.9 L319.22 470.71 L320.11 471.53 L321 472.34 L321.9 473.16 L322.8 473.97 L323.69 474.79 L324.59 475.6 L325.48 476.42 L326.38 477.24 L327.27 478.06 L328.17 478.88 L329.06 479.7 L329.96 480.51 L330.85 481.33 L331.75 482.16 L332.64 482.98 L333.54 483.8 L334.43 484.62 L335.32 485.44 L336.22 486.26 L337.12 487.09 L338.01 487.91 L338.9 488.74 L339.8 489.56" fill="none" stroke="#000000" stroke-width="0.9" stroke-linejoin="round" clip-path="url(#cc2)"/>
<path d="M232.4 381.56 L232.48 381.72 L232.55 381.84 L232.63 381.98 L232.74 382.18 L232.89 382.5 L233.1 382.97 L233.38 383.65 L233.74 384.58 L234.2 385.83 L234.75 387.39 L235.36 389.16 L236.03 391.09 L236.75 393.09 L237.49 395.09 L238.25 397.01 L239.02 398.77 L239.8 400.4 L240.59 401.95 L241.41 403.47 L242.26 404.97 L243.13 406.46 L244.05 407.98 L245 409.53 L246 411.16 L247.05 412.84 L248.14 414.55 L249.26 416.29 L250.43 418.06 L251.63 419.86 L252.86 421.67 L254.12 423.51 L255.4 425.35 L256.74 427.21 L258.15 429.07 L259.61 430.96 L261.08 432.86 L262.56 434.79 L264.02 436.75 L265.43 438.73 L266.77 440.75 L268.06 442.85 L269.33 445.03 L270.57 447.27 L271.79 449.53 L272.96 451.76 L274.08 453.94 L275.15 456.02 L276.17 457.97 L277.12 459.8 L278.02 461.57 L278.87 463.27 L279.67 464.89 L280.43 466.45 L281.14 467.92 L281.81 469.33 L282.43 470.65 L283 471.88 L283.51 473 L283.97 474.04 L284.39 475.01 L284.78 475.92 L285.14 476.8 L285.49 477.65 L285.83 478.5 L286.17 479.36 L286.49 480.22 L286.79 481.06 L287.07 481.86 L287.33 482.6 L287.55 483.26 L287.74 483.81 L287.89 484.24" fill="none" stroke="#ff00ff" stroke-width="0.9" stroke-linejoin="round" clip-path="url(#cc2)"/>
<path d="M232.4 374.31 L232.85 376.17 L233.3 378.03 L233.74 379.88 L234.19 381.74 L234.64 383.6 L235.09 385.46 L235.53 387.31 L235.98 389.17 L236.43 391.03 L236.88 392.89 L237.32 394.74 L237.77 396.6 L238.22 398.46 L238.67 400.31 L239.11 402.17 L239.56 404.03 L240.01 405.89 L240.46 407.74 L240.9 409.6 L241.35 411.46 L241.8 413.32 L242.25 415.17 L242.69 417.03 L243.14 418.89 L243.59 420.74 L244.03 422.6 L244.48 424.46 L244.93 426.32 L245.38 428.17 L245.83 430.03 L246.27 431.89 L246.72 433.75 L247.17 435.6 L247.62 437.46 L248.06 439.32 L248.51 441.17 L248.96 443.03 L249.41 444.89 L249.85 446.75 L250.3 448.6 L250.75 450.46 L251.19 452.32 L251.64 454.18 L252.09 456.03 L252.54 457.89 L252.99 459.75 L253.43 461.61 L253.88 463.46 L254.33 465.32 L254.78 467.18 L255.22 469.03 L255.67 470.89 L256.12 472.75 L256.56 474.61 L257.01 476.46 L257.46 478.32 L257.91 480.18 L258.36 482.04 L258.8 483.89 L259.25 485.75 L259.7 487.61 L260.14 489.46 L260.59 491.32 L261.04 493.18 L261.49 495.04 L261.94 496.89 L262.38 498.75 L262.83 500.61 L263.28 502.47" fill="none" stroke="#e42424" stroke-width="0.75" stroke-linejoin="round" clip-path="url(#cc2)"/>
<path d="M232.25 383.36h2.1v2.1h-2.1zM233.14 383.68h2.1v2.1h-2.1zM234.03 386.85h2.1v2.1h-2.1zM234.93 388.84h2.1v2.1h-2.1zM235.82 392.6h2.1v2.1h-2.1zM236.72 393.7h2.1v2.1h-2.1zM237.62 396.54h2.1v2.1h-2.1zM238.51 398.05h2.1v2.1h-2.1zM239.41 400.12h2.1v2.1h-2.1zM240.3 400.48h2.1v2.1h-2.1zM241.19 403.81h2.1v2.1h-2.1zM242.09 405.67h2.1v2.1h-2.1zM242.98 407.77h2.1v2.1h-2.1zM243.43 404.45h2.1v2.1h-2.1zM243.88 408.51h2.1v2.1h-2.1zM244.33 409.3h2.1v2.1h-2.1zM244.78 410.28h2.1v2.1h-2.1zM245.22 409.91h2.1v2.1h-2.1zM245.67 412h2.1v2.1h-2.1zM246.12 410.97h2.1v2.1h-2.1zM246.56 412.49h2.1v2.1h-2.1zM247.01 412.65h2.1v2.1h-2.1zM247.46 414.17h2.1v2.1h-2.1zM247.91 412.9h2.1v2.1h-2.1zM248.35 414.8h2.1v2.1h-2.1zM248.8 414h2.1v2.1h-2.1zM249.25 415.11h2.1v2.1h-2.1zM249.7 414.82h2.1v2.1h-2.1zM250.14 419.66h2.1v2.1h-2.1zM250.59 417.67h2.1v2.1h-2.1zM251.04 419.03h2.1v2.1h-2.1zM251.49 416.44h2.1v2.1h-2.1zM251.94 421.42h2.1v2.1h-2.1zM252.38 420.54h2.1v2.1h-2.1zM252.83 420.82h2.1v2.1h-2.1zM253.28 421.06h2.1v2.1h-2.1zM253.72 420.13h2.1v2.1h-2.1zM254.17 422.52h2.1v2.1h-2.1zM254.62 421.33h2.1v2.1h-2.1zM255.07 425.87h2.1v2.1h-2.1zM255.51 426.78h2.1v2.1h-2.1zM255.96 421.32h2.1v2.1h-2.1zM256.41 424.31h2.1v2.1h-2.1zM256.86 423.95h2.1v2.1h-2.1zM257.31 425.9h2.1v2.1h-2.1zM257.75 425.03h2.1v2.1h-2.1zM258.2 429.26h2.1v2.1h-2.1zM258.65 425.06h2.1v2.1h-2.1zM259.09 429.22h2.1v2.1h-2.1zM259.54 426.03h2.1v2.1h-2.1zM259.99 429.25h2.1v2.1h-2.1zM260.44 434.05h2.1v2.1h-2.1zM260.88 432.81h2.1v2.1h-2.1zM261.33 427.79h2.1v2.1h-2.1zM261.78 431.85h2.1v2.1h-2.1zM262.23 432.56h2.1v2.1h-2.1zM262.68 432.24h2.1v2.1h-2.1zM263.12 433.75h2.1v2.1h-2.1zM263.57 434.83h2.1v2.1h-2.1zM264.02 433.53h2.1v2.1h-2.1zM264.46 434.6h2.1v2.1h-2.1zM264.91 430.97h2.1v2.1h-2.1zM265.36 435.89h2.1v2.1h-2.1zM265.81 431.04h2.1v2.1h-2.1zM266.25 433.47h2.1v2.1h-2.1zM266.7 432.52h2.1v2.1h-2.1zM267.15 436.07h2.1v2.1h-2.1zM267.6 437.9h2.1v2.1h-2.1zM268.05 439.11h2.1v2.1h-2.1zM268.49 439.79h2.1v2.1h-2.1zM268.94 442.1h2.1v2.1h-2.1zM269.39 440.73h2.1v2.1h-2.1zM269.83 443.08h2.1v2.1h-2.1zM270.28 437.01h2.1v2.1h-2.1zM270.73 441.66h2.1v2.1h-2.1zM271.18 444.13h2.1v2.1h-2.1zM271.62 448.27h2.1v2.1h-2.1zM272.07 444.14h2.1v2.1h-2.1zM272.52 446.08h2.1v2.1h-2.1zM272.97 448.38h2.1v2.1h-2.1zM273.42 448.9h2.1v2.1h-2.1zM273.86 453.11h2.1v2.1h-2.1zM274.31 446.09h2.1v2.1h-2.1zM274.76 447.63h2.1v2.1h-2.1zM275.2 442.4h2.1v2.1h-2.1zM275.65 448.64h2.1v2.1h-2.1zM276.1 449.77h2.1v2.1h-2.1zM276.55 444.83h2.1v2.1h-2.1zM277 449.94h2.1v2.1h-2.1zM277.44 449.73h2.1v2.1h-2.1zM277.89 452.06h2.1v2.1h-2.1zM278.34 453.11h2.1v2.1h-2.1zM278.79 448.21h2.1v2.1h-2.1zM279.23 448.69h2.1v2.1h-2.1zM279.68 448.47h2.1v2.1h-2.1zM280.13 454.03h2.1v2.1h-2.1zM280.57 453.65h2.1v2.1h-2.1zM281.02 456.72h2.1v2.1h-2.1zM281.47 452.04h2.1v2.1h-2.1zM281.92 459.38h2.1v2.1h-2.1zM282.37 453.94h2.1v2.1h-2.1zM282.81 451.63h2.1v2.1h-2.1zM283.26 452.49h2.1v2.1h-2.1zM283.71 459.63h2.1v2.1h-2.1zM284.15 454.19h2.1v2.1h-2.1zM284.6 459.73h2.1v2.1h-2.1zM285.05 460.14h2.1v2.1h-2.1zM285.5 462.83h2.1v2.1h-2.1zM285.94 455.65h2.1v2.1h-2.1zM286.39 452.85h2.1v2.1h-2.1zM286.84 461.46h2.1v2.1h-2.1zM287.29 462.58h2.1v2.1h-2.1zM287.74 461.61h2.1v2.1h-2.1zM288.18 451.2h2.1v2.1h-2.1zM288.63 458.55h2.1v2.1h-2.1zM289.08 463.55h2.1v2.1h-2.1zM289.52 467.66h2.1v2.1h-2.1zM289.97 464.94h2.1v2.1h-2.1zM290.42 459.66h2.1v2.1h-2.1zM290.87 455.94h2.1v2.1h-2.1zM291.31 464.79h2.1v2.1h-2.1zM291.76 466.71h2.1v2.1h-2.1zM292.21 466.26h2.1v2.1h-2.1zM292.66 472.22h2.1v2.1h-2.1zM293.11 462.59h2.1v2.1h-2.1zM293.55 469.79h2.1v2.1h-2.1zM294 462.78h2.1v2.1h-2.1zM294.45 473.08h2.1v2.1h-2.1zM294.89 470.87h2.1v2.1h-2.1zM295.34 465.64h2.1v2.1h-2.1zM295.79 470h2.1v2.1h-2.1zM296.24 464.29h2.1v2.1h-2.1zM296.69 468.23h2.1v2.1h-2.1zM297.13 473.21h2.1v2.1h-2.1zM297.58 466.92h2.1v2.1h-2.1zM298.03 465.38h2.1v2.1h-2.1zM298.47 476.03h2.1v2.1h-2.1zM298.92 461.82h2.1v2.1h-2.1zM299.37 468.72h2.1v2.1h-2.1zM299.82 467.09h2.1v2.1h-2.1zM300.71 474.27h2.1v2.1h-2.1zM301.16 473.01h2.1v2.1h-2.1zM301.61 467.03h2.1v2.1h-2.1zM302.5 476.49h2.1v2.1h-2.1zM303.4 474.33h2.1v2.1h-2.1zM303.84 472.72h2.1v2.1h-2.1zM305.19 472.3h2.1v2.1h-2.1zM305.63 469.65h2.1v2.1h-2.1zM306.08 472.27h2.1v2.1h-2.1zM293.11 470.51h2.1v2.1h-2.1zM294 470.51h2.1v2.1h-2.1zM297.58 470.51h2.1v2.1h-2.1zM300.26 470.51h2.1v2.1h-2.1zM306.53 470.51h2.1v2.1h-2.1zM307.43 470.51h2.1v2.1h-2.1z" fill="#ff00ff"/>
<path d="M232.25 393.32h2.1v2.1h-2.1zM233.14 394.62h2.1v2.1h-2.1zM234.03 395.91h2.1v2.1h-2.1zM234.93 396.83h2.1v2.1h-2.1zM235.82 396.56h2.1v2.1h-2.1zM236.72 398.2h2.1v2.1h-2.1zM237.62 398.57h2.1v2.1h-2.1zM238.51 398.34h2.1v2.1h-2.1zM239.41 398.99h2.1v2.1h-2.1zM240.3 399.72h2.1v2.1h-2.1zM241.19 402.28h2.1v2.1h-2.1zM242.09 401.04h2.1v2.1h-2.1zM242.98 403.04h2.1v2.1h-2.1zM243.88 402.96h2.1v2.1h-2.1zM244.78 404.51h2.1v2.1h-2.1zM245.67 404.37h2.1v2.1h-2.1zM246.56 406h2.1v2.1h-2.1zM247.46 406.73h2.1v2.1h-2.1zM248.35 407.69h2.1v2.1h-2.1zM249.25 409.07h2.1v2.1h-2.1zM250.14 409.07h2.1v2.1h-2.1zM250.59 408.45h2.1v2.1h-2.1zM251.04 411.12h2.1v2.1h-2.1zM251.94 410h2.1v2.1h-2.1zM252.38 408.87h2.1v2.1h-2.1zM252.83 412.27h2.1v2.1h-2.1zM253.28 410.54h2.1v2.1h-2.1zM253.72 414.19h2.1v2.1h-2.1zM254.62 411.63h2.1v2.1h-2.1zM255.51 412.08h2.1v2.1h-2.1zM255.96 411.11h2.1v2.1h-2.1zM256.41 414.26h2.1v2.1h-2.1zM257.31 415.23h2.1v2.1h-2.1zM257.75 415.05h2.1v2.1h-2.1zM258.2 415.79h2.1v2.1h-2.1zM258.65 414.3h2.1v2.1h-2.1zM259.09 415.27h2.1v2.1h-2.1zM259.99 415.36h2.1v2.1h-2.1zM260.44 416.63h2.1v2.1h-2.1zM260.88 419.38h2.1v2.1h-2.1zM261.78 420.39h2.1v2.1h-2.1zM262.68 422.23h2.1v2.1h-2.1zM263.57 419.94h2.1v2.1h-2.1zM264.46 419.41h2.1v2.1h-2.1zM265.36 424.76h2.1v2.1h-2.1zM266.25 421.81h2.1v2.1h-2.1zM266.7 423.22h2.1v2.1h-2.1zM267.15 422.89h2.1v2.1h-2.1zM267.6 422.78h2.1v2.1h-2.1zM268.05 423.85h2.1v2.1h-2.1zM268.49 426.23h2.1v2.1h-2.1zM268.94 425.11h2.1v2.1h-2.1zM269.83 425.86h2.1v2.1h-2.1zM270.73 426.87h2.1v2.1h-2.1zM271.18 428.77h2.1v2.1h-2.1zM271.62 428.37h2.1v2.1h-2.1zM272.52 429.42h2.1v2.1h-2.1zM273.42 427.86h2.1v2.1h-2.1zM273.86 430.54h2.1v2.1h-2.1zM274.31 431.54h2.1v2.1h-2.1zM274.76 431.6h2.1v2.1h-2.1zM275.2 432.15h2.1v2.1h-2.1zM276.1 433.61h2.1v2.1h-2.1zM277 427.93h2.1v2.1h-2.1zM277.44 432.23h2.1v2.1h-2.1zM279.68 434.79h2.1v2.1h-2.1zM281.47 438.85h2.1v2.1h-2.1zM283.26 437h2.1v2.1h-2.1zM284.15 440.95h2.1v2.1h-2.1zM285.94 438.34h2.1v2.1h-2.1zM287.74 443.23h2.1v2.1h-2.1zM288.63 442.12h2.1v2.1h-2.1zM292.21 445.98h2.1v2.1h-2.1zM293.11 444.05h2.1v2.1h-2.1zM301.16 470.51h2.1v2.1h-2.1zM302.06 470.51h2.1v2.1h-2.1zM303.4 470.51h2.1v2.1h-2.1zM313.69 470.51h2.1v2.1h-2.1zM314.58 470.51h2.1v2.1h-2.1zM315.48 470.51h2.1v2.1h-2.1zM317.27 470.51h2.1v2.1h-2.1zM319.06 470.51h2.1v2.1h-2.1zM324.43 470.51h2.1v2.1h-2.1zM325.32 470.51h2.1v2.1h-2.1zM328.01 470.51h2.1v2.1h-2.1zM328.91 470.51h2.1v2.1h-2.1zM329.8 470.51h2.1v2.1h-2.1zM332.49 470.51h2.1v2.1h-2.1zM333.38 470.51h2.1v2.1h-2.1zM295.79 462.35h2.1v2.1h-2.1zM296.69 462.35h2.1v2.1h-2.1zM298.47 462.35h2.1v2.1h-2.1zM310.11 462.35h2.1v2.1h-2.1zM311 462.35h2.1v2.1h-2.1zM315.48 462.35h2.1v2.1h-2.1zM316.38 462.35h2.1v2.1h-2.1zM319.95 462.35h2.1v2.1h-2.1zM292.21 456.61h2.1v2.1h-2.1zM293.11 456.61h2.1v2.1h-2.1zM297.58 456.61h2.1v2.1h-2.1zM298.47 456.61h2.1v2.1h-2.1zM302.06 456.61h2.1v2.1h-2.1zM302.95 456.61h2.1v2.1h-2.1zM329.8 456.61h2.1v2.1h-2.1zM330.69 456.61h2.1v2.1h-2.1zM308.32 452.99h2.1v2.1h-2.1zM310.11 448.46h2.1v2.1h-2.1zM294 445.44h2.1v2.1h-2.1zM288.63 441.51h2.1v2.1h-2.1zM302.95 443.93h2.1v2.1h-2.1zM285.05 438.49h2.1v2.1h-2.1zM290.42 449.97h2.1v2.1h-2.1zM299.37 451.48h2.1v2.1h-2.1z" fill="#000000"/>
<path d="M232.25 375.07h2.1v2.1h-2.1zM234.48 385.34h2.1v2.1h-2.1zM236.27 389.57h2.1v2.1h-2.1zM237.35 394.1h2.1v2.1h-2.1zM238.51 398.33h2.1v2.1h-2.1zM239.76 402.56h2.1v2.1h-2.1zM240.93 411.92h2.1v2.1h-2.1zM242.09 416.45h2.1v2.1h-2.1zM243.25 420.07h2.1v2.1h-2.1zM244.42 423.09h2.1v2.1h-2.1zM245.58 427.32h2.1v2.1h-2.1zM233.14 379.18h2.1v2.1h-2.1zM235.38 387.46h2.1v2.1h-2.1zM246.12 436.68h2.1v2.1h-2.1zM247.01 436.68h2.1v2.1h-2.1zM247.91 436.68h2.1v2.1h-2.1zM247.91 446.04h2.1v2.1h-2.1zM248.8 446.04h2.1v2.1h-2.1zM249.7 446.04h2.1v2.1h-2.1zM250.59 446.04h2.1v2.1h-2.1z" fill="#ff0000"/>
<rect x="232.4" y="369.3" width="108.1" height="108.9" fill="none" stroke="#3a3a3a" stroke-width="1"/>
<line x1="228" y1="478.2" x2="232.4" y2="478.2" stroke="#3a3a3a" stroke-width="1"/>
<text x="225.1" y="481" font-size="9.5" text-anchor="end" font-weight="normal" fill="#000">1E-4</text>
<line x1="229.9" y1="469.11" x2="232.4" y2="469.11" stroke="#3a3a3a" stroke-width="1"/>
<line x1="229.9" y1="463.79" x2="232.4" y2="463.79" stroke="#3a3a3a" stroke-width="1"/>
<line x1="229.9" y1="460.02" x2="232.4" y2="460.02" stroke="#3a3a3a" stroke-width="1"/>
<line x1="229.9" y1="457.09" x2="232.4" y2="457.09" stroke="#3a3a3a" stroke-width="1"/>
<line x1="229.9" y1="454.7" x2="232.4" y2="454.7" stroke="#3a3a3a" stroke-width="1"/>
<line x1="229.9" y1="452.68" x2="232.4" y2="452.68" stroke="#3a3a3a" stroke-width="1"/>
<line x1="229.9" y1="450.93" x2="232.4" y2="450.93" stroke="#3a3a3a" stroke-width="1"/>
<line x1="229.9" y1="449.38" x2="232.4" y2="449.38" stroke="#3a3a3a" stroke-width="1"/>
<line x1="228" y1="448" x2="232.4" y2="448" stroke="#3a3a3a" stroke-width="1"/>
<text x="225.1" y="450.8" font-size="9.5" text-anchor="end" font-weight="normal" fill="#000">1E-3</text>
<line x1="229.9" y1="438.91" x2="232.4" y2="438.91" stroke="#3a3a3a" stroke-width="1"/>
<line x1="229.9" y1="433.59" x2="232.4" y2="433.59" stroke="#3a3a3a" stroke-width="1"/>
<line x1="229.9" y1="429.82" x2="232.4" y2="429.82" stroke="#3a3a3a" stroke-width="1"/>
<line x1="229.9" y1="426.89" x2="232.4" y2="426.89" stroke="#3a3a3a" stroke-width="1"/>
<line x1="229.9" y1="424.5" x2="232.4" y2="424.5" stroke="#3a3a3a" stroke-width="1"/>
<line x1="229.9" y1="422.48" x2="232.4" y2="422.48" stroke="#3a3a3a" stroke-width="1"/>
<line x1="229.9" y1="420.73" x2="232.4" y2="420.73" stroke="#3a3a3a" stroke-width="1"/>
<line x1="229.9" y1="419.18" x2="232.4" y2="419.18" stroke="#3a3a3a" stroke-width="1"/>
<line x1="228" y1="417.8" x2="232.4" y2="417.8" stroke="#3a3a3a" stroke-width="1"/>
<text x="225.1" y="420.6" font-size="9.5" text-anchor="end" font-weight="normal" fill="#000">0.01</text>
<line x1="229.9" y1="408.71" x2="232.4" y2="408.71" stroke="#3a3a3a" stroke-width="1"/>
<line x1="229.9" y1="403.39" x2="232.4" y2="403.39" stroke="#3a3a3a" stroke-width="1"/>
<line x1="229.9" y1="399.62" x2="232.4" y2="399.62" stroke="#3a3a3a" stroke-width="1"/>
<line x1="229.9" y1="396.69" x2="232.4" y2="396.69" stroke="#3a3a3a" stroke-width="1"/>
<line x1="229.9" y1="394.3" x2="232.4" y2="394.3" stroke="#3a3a3a" stroke-width="1"/>
<line x1="229.9" y1="392.28" x2="232.4" y2="392.28" stroke="#3a3a3a" stroke-width="1"/>
<line x1="229.9" y1="390.53" x2="232.4" y2="390.53" stroke="#3a3a3a" stroke-width="1"/>
<line x1="229.9" y1="388.98" x2="232.4" y2="388.98" stroke="#3a3a3a" stroke-width="1"/>
<line x1="228" y1="387.6" x2="232.4" y2="387.6" stroke="#3a3a3a" stroke-width="1"/>
<text x="225.1" y="390.4" font-size="9.5" text-anchor="end" font-weight="normal" fill="#000">0.1</text>
<line x1="229.9" y1="378.51" x2="232.4" y2="378.51" stroke="#3a3a3a" stroke-width="1"/>
<line x1="229.9" y1="373.19" x2="232.4" y2="373.19" stroke="#3a3a3a" stroke-width="1"/>
<line x1="229.9" y1="369.42" x2="232.4" y2="369.42" stroke="#3a3a3a" stroke-width="1"/>
<line x1="232.4" y1="478.2" x2="232.4" y2="482.4" stroke="#3a3a3a" stroke-width="1"/>
<text x="232.4" y="490.5" font-size="9.5" text-anchor="middle" font-weight="normal" fill="#000">0</text>
<line x1="259.25" y1="478.2" x2="259.25" y2="482.4" stroke="#3a3a3a" stroke-width="1"/>
<text x="259.25" y="490.5" font-size="9.5" text-anchor="middle" font-weight="normal" fill="#000">30</text>
<line x1="286.1" y1="478.2" x2="286.1" y2="482.4" stroke="#3a3a3a" stroke-width="1"/>
<text x="286.1" y="490.5" font-size="9.5" text-anchor="middle" font-weight="normal" fill="#000">60</text>
<line x1="312.95" y1="478.2" x2="312.95" y2="482.4" stroke="#3a3a3a" stroke-width="1"/>
<text x="312.95" y="490.5" font-size="9.5" text-anchor="middle" font-weight="normal" fill="#000">90</text>
<line x1="339.8" y1="478.2" x2="339.8" y2="482.4" stroke="#3a3a3a" stroke-width="1"/>
<text x="339.8" y="490.5" font-size="9.5" text-anchor="middle" font-weight="normal" fill="#000">120</text>
<line x1="245.83" y1="478.2" x2="245.83" y2="480.7" stroke="#3a3a3a" stroke-width="1"/>
<line x1="272.68" y1="478.2" x2="272.68" y2="480.7" stroke="#3a3a3a" stroke-width="1"/>
<line x1="299.52" y1="478.2" x2="299.52" y2="480.7" stroke="#3a3a3a" stroke-width="1"/>
<line x1="326.38" y1="478.2" x2="326.38" y2="480.7" stroke="#3a3a3a" stroke-width="1"/>
<text x="202.7" y="434.3" font-size="11.3" text-anchor="middle" font-weight="normal" fill="#000" transform="rotate(-90 202.7 434.3)">P(K)</text>
<text x="286.5" y="501.2" font-size="11.9" text-anchor="middle" font-weight="normal" fill="#000">K</text>
<path d="M441.31 440.14h2.2v2.2h-2.2zM442.39 442.69h2.2v2.2h-2.2zM443.4 443.19h2.2v2.2h-2.2zM444.36 440.03h2.2v2.2h-2.2zM445.28 444.18h2.2v2.2h-2.2zM446.14 447.28h2.2v2.2h-2.2zM446.97 447.07h2.2v2.2h-2.2zM447.76 446.1h2.2v2.2h-2.2zM448.52 447.77h2.2v2.2h-2.2zM449.25 450.15h2.2v2.2h-2.2zM449.94 450.74h2.2v2.2h-2.2zM450.61 451.45h2.2v2.2h-2.2zM451.26 455.22h2.2v2.2h-2.2zM451.89 456.61h2.2v2.2h-2.2zM452.49 453.73h2.2v2.2h-2.2zM453.07 455.99h2.2v2.2h-2.2zM453.64 453.04h2.2v2.2h-2.2zM454.18 456.32h2.2v2.2h-2.2zM454.71 459.07h2.2v2.2h-2.2zM455.23 460.18h2.2v2.2h-2.2zM455.73 457.9h2.2v2.2h-2.2zM456.22 457.79h2.2v2.2h-2.2zM456.69 459.39h2.2v2.2h-2.2zM457.15 458.64h2.2v2.2h-2.2zM457.6 460.25h2.2v2.2h-2.2zM458.04 461.38h2.2v2.2h-2.2zM458.47 463.95h2.2v2.2h-2.2zM458.89 460.65h2.2v2.2h-2.2zM459.3 460.75h2.2v2.2h-2.2zM459.7 463.61h2.2v2.2h-2.2zM460.09 461.8h2.2v2.2h-2.2zM460.47 463.07h2.2v2.2h-2.2zM460.85 464.38h2.2v2.2h-2.2zM461.21 463.32h2.2v2.2h-2.2zM461.57 466.26h2.2v2.2h-2.2zM461.92 466.23h2.2v2.2h-2.2zM462.27 464.32h2.2v2.2h-2.2zM462.61 467.24h2.2v2.2h-2.2zM462.94 466.87h2.2v2.2h-2.2zM463.27 468.51h2.2v2.2h-2.2zM463.59 467.18h2.2v2.2h-2.2zM463.9 469.65h2.2v2.2h-2.2zM464.21 468.18h2.2v2.2h-2.2zM464.52 469.74h2.2v2.2h-2.2zM464.82 469.63h2.2v2.2h-2.2zM465.11 469.33h2.2v2.2h-2.2zM465.4 471.15h2.2v2.2h-2.2zM465.68 470.39h2.2v2.2h-2.2zM465.96 467.94h2.2v2.2h-2.2zM466.24 469.54h2.2v2.2h-2.2zM466.51 472.59h2.2v2.2h-2.2zM466.78 471.42h2.2v2.2h-2.2zM467.04 470.89h2.2v2.2h-2.2zM467.3 471.9h2.2v2.2h-2.2zM467.56 472.4h2.2v2.2h-2.2zM467.81 473.37h2.2v2.2h-2.2zM468.06 473.42h2.2v2.2h-2.2zM468.3 474.1h2.2v2.2h-2.2zM468.55 473.17h2.2v2.2h-2.2zM468.78 477.06h2.2v2.2h-2.2zM469.02 475.25h2.2v2.2h-2.2zM469.25 474.59h2.2v2.2h-2.2zM469.48 474.64h2.2v2.2h-2.2zM469.71 475.15h2.2v2.2h-2.2zM469.93 474.79h2.2v2.2h-2.2zM470.15 476.64h2.2v2.2h-2.2zM470.59 475.62h2.2v2.2h-2.2zM470.8 477.23h2.2v2.2h-2.2zM471.22 475.04h2.2v2.2h-2.2zM471.42 477.26h2.2v2.2h-2.2zM472.03 476.96h2.2v2.2h-2.2zM472.42 477.29h2.2v2.2h-2.2z" fill="#ff00ff"/>
<path d="M416.65 410.81h2.2v2.2h-2.2zM420.62 414.09h2.2v2.2h-2.2zM423.87 417.32h2.2v2.2h-2.2zM426.61 423.11h2.2v2.2h-2.2zM428.98 423.85h2.2v2.2h-2.2zM431.08 429.06h2.2v2.2h-2.2zM432.95 428.95h2.2v2.2h-2.2zM434.65 431.8h2.2v2.2h-2.2zM436.19 433.59h2.2v2.2h-2.2zM437.62 434.04h2.2v2.2h-2.2zM438.93 437.42h2.2v2.2h-2.2zM440.16 436.77h2.2v2.2h-2.2zM441.31 438.57h2.2v2.2h-2.2zM442.39 442.72h2.2v2.2h-2.2zM443.4 443.84h2.2v2.2h-2.2zM444.36 443.89h2.2v2.2h-2.2zM445.28 443.47h2.2v2.2h-2.2zM446.14 447.85h2.2v2.2h-2.2zM446.97 447.58h2.2v2.2h-2.2zM447.76 450.21h2.2v2.2h-2.2zM448.52 449.98h2.2v2.2h-2.2zM449.25 455.2h2.2v2.2h-2.2zM449.94 449.57h2.2v2.2h-2.2zM450.61 449.51h2.2v2.2h-2.2zM451.26 451.37h2.2v2.2h-2.2zM451.89 454.37h2.2v2.2h-2.2zM452.49 451.53h2.2v2.2h-2.2zM453.07 454.39h2.2v2.2h-2.2zM453.64 456.1h2.2v2.2h-2.2zM454.18 450.4h2.2v2.2h-2.2zM454.71 452.19h2.2v2.2h-2.2zM455.73 458.52h2.2v2.2h-2.2zM456.69 458.15h2.2v2.2h-2.2zM458.89 467.58h2.2v2.2h-2.2zM460.47 463.48h2.2v2.2h-2.2zM460.85 464.72h2.2v2.2h-2.2zM461.21 460.3h2.2v2.2h-2.2zM461.57 464.1h2.2v2.2h-2.2zM461.92 462.05h2.2v2.2h-2.2zM462.61 469.9h2.2v2.2h-2.2zM463.59 468.6h2.2v2.2h-2.2zM464.21 466.51h2.2v2.2h-2.2zM465.11 469.42h2.2v2.2h-2.2zM465.4 466.44h2.2v2.2h-2.2zM465.68 471.39h2.2v2.2h-2.2zM466.24 462.76h2.2v2.2h-2.2zM466.51 472.51h2.2v2.2h-2.2zM466.78 469.26h2.2v2.2h-2.2zM467.56 471.29h2.2v2.2h-2.2zM468.06 470.51h2.2v2.2h-2.2zM468.55 470.05h2.2v2.2h-2.2zM468.78 475.81h2.2v2.2h-2.2zM469.02 469.1h2.2v2.2h-2.2zM469.25 473.38h2.2v2.2h-2.2zM469.93 473.67h2.2v2.2h-2.2zM470.59 468.54h2.2v2.2h-2.2zM470.8 474.52h2.2v2.2h-2.2zM471.42 466.82h2.2v2.2h-2.2zM471.63 473.2h2.2v2.2h-2.2zM471.83 473.71h2.2v2.2h-2.2zM472.42 471.79h2.2v2.2h-2.2zM472.99 476.81h2.2v2.2h-2.2zM474.08 476.3h2.2v2.2h-2.2zM456.21 469.67h2.2v2.2h-2.2zM458.34 469.67h2.2v2.2h-2.2zM476.19 466.59h2.2v2.2h-2.2zM491.39 466.59h2.2v2.2h-2.2zM484.14 473.77h2.2v2.2h-2.2zM491.39 473.77h2.2v2.2h-2.2zM489.01 466.59h2.2v2.2h-2.2zM463.66 461.46h2.2v2.2h-2.2zM468.99 457.7h2.2v2.2h-2.2zM473 460.78h2.2v2.2h-2.2zM477.79 466.59h2.2v2.2h-2.2zM460.18 454.28h2.2v2.2h-2.2zM453.92 446.41h2.2v2.2h-2.2zM457.52 473.77h2.2v2.2h-2.2zM458.88 473.77h2.2v2.2h-2.2zM460.25 473.77h2.2v2.2h-2.2zM461.62 473.77h2.2v2.2h-2.2zM462.98 473.77h2.2v2.2h-2.2zM464.35 473.77h2.2v2.2h-2.2zM465.71 473.77h2.2v2.2h-2.2zM467.08 473.77h2.2v2.2h-2.2zM468.44 473.77h2.2v2.2h-2.2zM469.81 473.77h2.2v2.2h-2.2zM471.17 473.77h2.2v2.2h-2.2zM472.54 473.77h2.2v2.2h-2.2zM473.9 473.77h2.2v2.2h-2.2zM475.26 473.77h2.2v2.2h-2.2zM476.63 473.77h2.2v2.2h-2.2zM478 473.77h2.2v2.2h-2.2zM459.03 461.35h2.2v2.2h-2.2zM460.96 460.38h2.2v2.2h-2.2zM459.02 459.35h2.2v2.2h-2.2zM464.79 464.42h2.2v2.2h-2.2zM468.1 467.19h2.2v2.2h-2.2zM466.69 464.75h2.2v2.2h-2.2zM459.54 455.79h2.2v2.2h-2.2zM462.3 467.89h2.2v2.2h-2.2zM462.69 460.86h2.2v2.2h-2.2zM462.38 465.09h2.2v2.2h-2.2zM469.08 470.14h2.2v2.2h-2.2zM460.47 462.36h2.2v2.2h-2.2zM461.64 468.44h2.2v2.2h-2.2zM467.4 465.44h2.2v2.2h-2.2zM468.73 468.01h2.2v2.2h-2.2zM458.18 461.95h2.2v2.2h-2.2zM463.88 457.96h2.2v2.2h-2.2zM460.58 461.72h2.2v2.2h-2.2z" fill="#000000"/>
<path d="M416.82 415.29h2.2v2.2h-2.2zM421.12 413.92h2.2v2.2h-2.2zM426.73 416.32h2.2v2.2h-2.2zM424.35 422.81h2.2v2.2h-2.2zM431.19 421.45h2.2v2.2h-2.2zM434.71 427.6h2.2v2.2h-2.2zM436.31 429.31h2.2v2.2h-2.2zM429.1 431.71h2.2v2.2h-2.2zM440.32 431.71h2.2v2.2h-2.2zM433.11 437.86h2.2v2.2h-2.2zM438.68 441.28h2.2v2.2h-2.2zM445.89 442.31h2.2v2.2h-2.2zM451.42 442.31h2.2v2.2h-2.2zM462.6 437.86h2.2v2.2h-2.2zM461 442.31h2.2v2.2h-2.2zM442.7 447.78h2.2v2.2h-2.2zM450.56 447.78h2.2v2.2h-2.2zM455.39 447.78h2.2v2.2h-2.2zM460.18 447.78h2.2v2.2h-2.2zM464.19 447.78h2.2v2.2h-2.2zM445.89 458.38h2.2v2.2h-2.2zM449.9 458.38h2.2v2.2h-2.2zM458.58 458.38h2.2v2.2h-2.2zM461.82 459.41h2.2v2.2h-2.2zM465.01 474.8h2.2v2.2h-2.2zM441.14 442.31h2.2v2.2h-2.2zM444.83 447.78h2.2v2.2h-2.2zM448.1 442.31h2.2v2.2h-2.2zM453.43 447.78h2.2v2.2h-2.2zM457.52 447.78h2.2v2.2h-2.2zM462.43 447.78h2.2v2.2h-2.2zM451.38 458.38h2.2v2.2h-2.2zM455.47 458.38h2.2v2.2h-2.2zM437.05 434.1h2.2v2.2h-2.2zM426.81 420.42h2.2v2.2h-2.2zM443.6 438.2h2.2v2.2h-2.2zM457.52 458.38h2.2v2.2h-2.2zM459.57 458.38h2.2v2.2h-2.2zM460.8 459.41h2.2v2.2h-2.2zM462.84 459.41h2.2v2.2h-2.2zM454.24 452.91h2.2v2.2h-2.2zM456.7 452.91h2.2v2.2h-2.2zM458.75 452.91h2.2v2.2h-2.2zM455.47 455.3h2.2v2.2h-2.2z" fill="#ff0000"/>
<path d="M393.1 380.48 L487.29 496.9" fill="none" stroke="#ff00ff" stroke-width="1.0" stroke-linejoin="round" clip-path="url(#cc3)"/>
<path d="M393.1 380.48 L456.57 458.93" fill="none" stroke="#8a1030" stroke-width="1.4" stroke-linejoin="round" clip-path="url(#cc3)"/>
<path d="M391.65 379.03h2.9v2.9h-2.9zM403.98 394.27h2.9v2.9h-2.9zM411.19 403.18h2.9v2.9h-2.9z" fill="#f02a2a"/>
<rect x="391.3" y="370.4" width="108.1" height="108.9" fill="none" stroke="#3a3a3a" stroke-width="1"/>
<line x1="388.8" y1="476.99" x2="391.3" y2="476.99" stroke="#3a3a3a" stroke-width="1"/>
<line x1="388.8" y1="474.7" x2="391.3" y2="474.7" stroke="#3a3a3a" stroke-width="1"/>
<line x1="388.8" y1="472.71" x2="391.3" y2="472.71" stroke="#3a3a3a" stroke-width="1"/>
<line x1="388.8" y1="470.96" x2="391.3" y2="470.96" stroke="#3a3a3a" stroke-width="1"/>
<line x1="386.9" y1="469.4" x2="391.3" y2="469.4" stroke="#3a3a3a" stroke-width="1"/>
<text x="384" y="472.2" font-size="9.5" text-anchor="end" font-weight="normal" fill="#000">1E-3</text>
<line x1="388.8" y1="459.1" x2="391.3" y2="459.1" stroke="#3a3a3a" stroke-width="1"/>
<line x1="388.8" y1="453.08" x2="391.3" y2="453.08" stroke="#3a3a3a" stroke-width="1"/>
<line x1="388.8" y1="448.81" x2="391.3" y2="448.81" stroke="#3a3a3a" stroke-width="1"/>
<line x1="388.8" y1="445.5" x2="391.3" y2="445.5" stroke="#3a3a3a" stroke-width="1"/>
<line x1="388.8" y1="442.79" x2="391.3" y2="442.79" stroke="#3a3a3a" stroke-width="1"/>
<line x1="388.8" y1="440.5" x2="391.3" y2="440.5" stroke="#3a3a3a" stroke-width="1"/>
<line x1="388.8" y1="438.51" x2="391.3" y2="438.51" stroke="#3a3a3a" stroke-width="1"/>
<line x1="388.8" y1="436.76" x2="391.3" y2="436.76" stroke="#3a3a3a" stroke-width="1"/>
<line x1="386.9" y1="435.2" x2="391.3" y2="435.2" stroke="#3a3a3a" stroke-width="1"/>
<text x="384" y="438" font-size="9.5" text-anchor="end" font-weight="normal" fill="#000">0.01</text>
<line x1="388.8" y1="424.9" x2="391.3" y2="424.9" stroke="#3a3a3a" stroke-width="1"/>
<line x1="388.8" y1="418.88" x2="391.3" y2="418.88" stroke="#3a3a3a" stroke-width="1"/>
<line x1="388.8" y1="414.61" x2="391.3" y2="414.61" stroke="#3a3a3a" stroke-width="1"/>
<line x1="388.8" y1="411.3" x2="391.3" y2="411.3" stroke="#3a3a3a" stroke-width="1"/>
<line x1="388.8" y1="408.59" x2="391.3" y2="408.59" stroke="#3a3a3a" stroke-width="1"/>
<line x1="388.8" y1="406.3" x2="391.3" y2="406.3" stroke="#3a3a3a" stroke-width="1"/>
<line x1="388.8" y1="404.31" x2="391.3" y2="404.31" stroke="#3a3a3a" stroke-width="1"/>
<line x1="388.8" y1="402.56" x2="391.3" y2="402.56" stroke="#3a3a3a" stroke-width="1"/>
<line x1="386.9" y1="401" x2="391.3" y2="401" stroke="#3a3a3a" stroke-width="1"/>
<text x="384" y="403.8" font-size="9.5" text-anchor="end" font-weight="normal" fill="#000">0.1</text>
<line x1="388.8" y1="390.7" x2="391.3" y2="390.7" stroke="#3a3a3a" stroke-width="1"/>
<line x1="388.8" y1="384.68" x2="391.3" y2="384.68" stroke="#3a3a3a" stroke-width="1"/>
<line x1="388.8" y1="380.41" x2="391.3" y2="380.41" stroke="#3a3a3a" stroke-width="1"/>
<line x1="388.8" y1="377.1" x2="391.3" y2="377.1" stroke="#3a3a3a" stroke-width="1"/>
<line x1="388.8" y1="374.39" x2="391.3" y2="374.39" stroke="#3a3a3a" stroke-width="1"/>
<line x1="388.8" y1="372.1" x2="391.3" y2="372.1" stroke="#3a3a3a" stroke-width="1"/>
<line x1="388.8" y1="370.11" x2="391.3" y2="370.11" stroke="#3a3a3a" stroke-width="1"/>
<line x1="393.1" y1="479.3" x2="393.1" y2="483.5" stroke="#3a3a3a" stroke-width="1"/>
<text x="393.1" y="491.9" font-size="9.5" text-anchor="middle" font-weight="normal" fill="#000">1</text>
<line x1="405.43" y1="479.3" x2="405.43" y2="481.8" stroke="#3a3a3a" stroke-width="1"/>
<line x1="412.64" y1="479.3" x2="412.64" y2="481.8" stroke="#3a3a3a" stroke-width="1"/>
<line x1="417.75" y1="479.3" x2="417.75" y2="481.8" stroke="#3a3a3a" stroke-width="1"/>
<line x1="421.72" y1="479.3" x2="421.72" y2="481.8" stroke="#3a3a3a" stroke-width="1"/>
<line x1="424.97" y1="479.3" x2="424.97" y2="481.8" stroke="#3a3a3a" stroke-width="1"/>
<line x1="427.71" y1="479.3" x2="427.71" y2="481.8" stroke="#3a3a3a" stroke-width="1"/>
<line x1="430.08" y1="479.3" x2="430.08" y2="481.8" stroke="#3a3a3a" stroke-width="1"/>
<line x1="432.18" y1="479.3" x2="432.18" y2="481.8" stroke="#3a3a3a" stroke-width="1"/>
<line x1="434.05" y1="479.3" x2="434.05" y2="483.5" stroke="#3a3a3a" stroke-width="1"/>
<text x="434.05" y="491.9" font-size="9.5" text-anchor="middle" font-weight="normal" fill="#000">10</text>
<line x1="446.38" y1="479.3" x2="446.38" y2="481.8" stroke="#3a3a3a" stroke-width="1"/>
<line x1="453.59" y1="479.3" x2="453.59" y2="481.8" stroke="#3a3a3a" stroke-width="1"/>
<line x1="458.7" y1="479.3" x2="458.7" y2="481.8" stroke="#3a3a3a" stroke-width="1"/>
<line x1="462.67" y1="479.3" x2="462.67" y2="481.8" stroke="#3a3a3a" stroke-width="1"/>
<line x1="465.92" y1="479.3" x2="465.92" y2="481.8" stroke="#3a3a3a" stroke-width="1"/>
<line x1="468.66" y1="479.3" x2="468.66" y2="481.8" stroke="#3a3a3a" stroke-width="1"/>
<line x1="471.03" y1="479.3" x2="471.03" y2="481.8" stroke="#3a3a3a" stroke-width="1"/>
<line x1="473.13" y1="479.3" x2="473.13" y2="481.8" stroke="#3a3a3a" stroke-width="1"/>
<line x1="475" y1="479.3" x2="475" y2="483.5" stroke="#3a3a3a" stroke-width="1"/>
<text x="475" y="491.9" font-size="9.5" text-anchor="middle" font-weight="normal" fill="#000">100</text>
<line x1="487.33" y1="479.3" x2="487.33" y2="481.8" stroke="#3a3a3a" stroke-width="1"/>
<line x1="494.54" y1="479.3" x2="494.54" y2="481.8" stroke="#3a3a3a" stroke-width="1"/>
<line x1="499.65" y1="479.3" x2="499.65" y2="481.8" stroke="#3a3a3a" stroke-width="1"/>
<text x="360.4" y="432.7" font-size="11.3" text-anchor="middle" font-weight="normal" fill="#000" transform="rotate(-90 360.4 432.7)">P(K)</text>
<text x="444.8" y="502" font-size="11.9" text-anchor="middle" font-weight="normal" fill="#000">K</text>
<path d="M551.4 374.28 L552.39 375.35 L553.73 376.79 L555.32 378.5 L557.08 380.4 L558.92 382.39 L560.77 384.39 L562.53 386.3 L564.12 388.03 L565.58 389.62 L567.03 391.15 L568.44 392.64 L569.83 394.11 L571.19 395.58 L572.5 397.07 L573.78 398.6 L575.02 400.18 L576.19 401.78 L577.31 403.37 L578.38 404.96 L579.42 406.59 L580.43 408.27 L581.45 410.02 L582.47 411.87 L583.51 413.82 L584.57 415.91 L585.63 418.1 L586.68 420.38 L587.74 422.74 L588.79 425.14 L589.85 427.58 L590.9 430.04 L591.96 432.48 L593.02 434.9 L594.09 437.31 L595.17 439.73 L596.24 442.18 L597.3 444.69 L598.36 447.28 L599.39 449.98 L600.41 452.81 L601.44 455.94 L602.51 459.42 L603.58 463.08 L604.63 466.79 L605.63 470.39 L606.55 473.72 L607.35 476.64 L608.01 478.99 L608.52 480.76 L608.89 482.08 L609.16 483.03 L609.34 483.69 L609.45 484.15 L609.54 484.49 L609.62 484.78 L609.7 485.12" fill="none" stroke="#e42424" stroke-width="0.75" stroke-linejoin="round" clip-path="url(#cc4)"/>
<path d="M563.02 386.94h2.2v2.2h-2.2zM570.46 394.06h2.2v2.2h-2.2zM575.74 399.72h2.2v2.2h-2.2zM579.83 404.66h2.2v2.2h-2.2zM583.18 410.23h2.2v2.2h-2.2zM586.01 413.46h2.2v2.2h-2.2zM588.46 416.96h2.2v2.2h-2.2zM590.62 421.63h2.2v2.2h-2.2zM592.55 425.33h2.2v2.2h-2.2zM593.45 422.03h2.2v2.2h-2.2zM594.3 424.82h2.2v2.2h-2.2zM595.11 427.17h2.2v2.2h-2.2zM595.9 434.24h2.2v2.2h-2.2zM596.64 430.28h2.2v2.2h-2.2zM597.36 432.73h2.2v2.2h-2.2zM598.06 437.8h2.2v2.2h-2.2zM598.72 435.17h2.2v2.2h-2.2zM599.37 432.03h2.2v2.2h-2.2zM599.99 433.84h2.2v2.2h-2.2zM600.59 437.51h2.2v2.2h-2.2zM601.17 441.84h2.2v2.2h-2.2zM601.74 439.75h2.2v2.2h-2.2zM602.29 438.91h2.2v2.2h-2.2zM602.82 439.85h2.2v2.2h-2.2zM603.34 439.04h2.2v2.2h-2.2zM603.84 440.19h2.2v2.2h-2.2zM604.33 440.52h2.2v2.2h-2.2zM604.8 445.33h2.2v2.2h-2.2zM605.27 444.36h2.2v2.2h-2.2zM605.72 444.82h2.2v2.2h-2.2zM606.16 447.31h2.2v2.2h-2.2zM606.6 447.23h2.2v2.2h-2.2zM607.02 446.2h2.2v2.2h-2.2zM607.43 449.11h2.2v2.2h-2.2zM607.83 447.75h2.2v2.2h-2.2zM608.23 448.05h2.2v2.2h-2.2zM608.61 448.62h2.2v2.2h-2.2zM608.99 451.24h2.2v2.2h-2.2zM609.36 449.92h2.2v2.2h-2.2zM609.73 446.92h2.2v2.2h-2.2zM610.08 449.32h2.2v2.2h-2.2zM610.43 451.42h2.2v2.2h-2.2zM610.78 455.64h2.2v2.2h-2.2zM611.11 451.57h2.2v2.2h-2.2zM611.44 452.32h2.2v2.2h-2.2zM611.77 455.13h2.2v2.2h-2.2zM612.09 456.36h2.2v2.2h-2.2zM612.4 458.09h2.2v2.2h-2.2zM612.71 458.24h2.2v2.2h-2.2zM613.01 456.24h2.2v2.2h-2.2zM613.31 456.15h2.2v2.2h-2.2zM613.6 456.01h2.2v2.2h-2.2zM613.89 460.65h2.2v2.2h-2.2zM614.18 454.47h2.2v2.2h-2.2zM614.46 461.14h2.2v2.2h-2.2zM614.73 458.61h2.2v2.2h-2.2zM615 462.56h2.2v2.2h-2.2zM615.27 457.52h2.2v2.2h-2.2zM615.54 462.29h2.2v2.2h-2.2zM615.8 459.84h2.2v2.2h-2.2zM616.05 461.61h2.2v2.2h-2.2zM616.31 463.53h2.2v2.2h-2.2zM616.56 462.66h2.2v2.2h-2.2zM616.8 466.56h2.2v2.2h-2.2zM617.05 464.11h2.2v2.2h-2.2zM617.29 463.61h2.2v2.2h-2.2zM617.52 462.44h2.2v2.2h-2.2zM617.76 464.5h2.2v2.2h-2.2zM617.99 466.36h2.2v2.2h-2.2zM618.21 461.88h2.2v2.2h-2.2zM618.44 469.62h2.2v2.2h-2.2zM618.66 464.94h2.2v2.2h-2.2zM618.88 465.97h2.2v2.2h-2.2zM619.1 466.32h2.2v2.2h-2.2zM619.31 474.52h2.2v2.2h-2.2zM619.53 469.83h2.2v2.2h-2.2zM619.74 467.82h2.2v2.2h-2.2zM619.94 466.56h2.2v2.2h-2.2zM620.15 471.47h2.2v2.2h-2.2zM620.35 469.83h2.2v2.2h-2.2zM620.55 470.56h2.2v2.2h-2.2zM620.75 472.02h2.2v2.2h-2.2zM620.95 470.76h2.2v2.2h-2.2zM621.14 470.58h2.2v2.2h-2.2zM621.33 475.62h2.2v2.2h-2.2zM621.52 472.2h2.2v2.2h-2.2zM621.71 468.74h2.2v2.2h-2.2zM621.9 469.64h2.2v2.2h-2.2zM622.08 470.45h2.2v2.2h-2.2zM622.26 468.37h2.2v2.2h-2.2zM622.44 469.29h2.2v2.2h-2.2zM622.8 474.09h2.2v2.2h-2.2zM622.98 473.92h2.2v2.2h-2.2zM623.15 470.98h2.2v2.2h-2.2zM623.32 472.56h2.2v2.2h-2.2zM623.49 476h2.2v2.2h-2.2zM623.66 471.74h2.2v2.2h-2.2zM624 477.23h2.2v2.2h-2.2zM624.32 473.12h2.2v2.2h-2.2zM624.96 476.85h2.2v2.2h-2.2zM620.15 471.77h2.2v2.2h-2.2zM620.95 471.77h2.2v2.2h-2.2zM621.71 471.77h2.2v2.2h-2.2zM622.44 471.77h2.2v2.2h-2.2zM623.15 471.77h2.2v2.2h-2.2zM623.49 471.77h2.2v2.2h-2.2zM623.83 471.77h2.2v2.2h-2.2zM624.16 471.77h2.2v2.2h-2.2zM624.49 471.77h2.2v2.2h-2.2zM625.12 471.77h2.2v2.2h-2.2z" fill="#ff00ff"/>
<path d="M563.02 386.94h2.2v2.2h-2.2zM570.46 393.75h2.2v2.2h-2.2zM575.74 399.66h2.2v2.2h-2.2zM579.83 403.14h2.2v2.2h-2.2zM583.18 407.54h2.2v2.2h-2.2zM586.01 410.91h2.2v2.2h-2.2zM588.46 412.71h2.2v2.2h-2.2zM590.62 416.71h2.2v2.2h-2.2zM592.55 416.52h2.2v2.2h-2.2zM594.3 420.19h2.2v2.2h-2.2zM595.9 419.48h2.2v2.2h-2.2zM597.36 422.98h2.2v2.2h-2.2zM598.72 423.2h2.2v2.2h-2.2zM599.99 424.39h2.2v2.2h-2.2zM600.59 422.91h2.2v2.2h-2.2zM601.17 426.64h2.2v2.2h-2.2zM602.29 426.42h2.2v2.2h-2.2zM602.82 425.38h2.2v2.2h-2.2zM603.34 427.36h2.2v2.2h-2.2zM603.84 425.42h2.2v2.2h-2.2zM604.33 426.18h2.2v2.2h-2.2zM605.27 429.51h2.2v2.2h-2.2zM606.16 431.54h2.2v2.2h-2.2zM607.02 430.76h2.2v2.2h-2.2zM607.83 431.81h2.2v2.2h-2.2zM608.61 432.6h2.2v2.2h-2.2zM609.36 436.67h2.2v2.2h-2.2zM609.73 433.33h2.2v2.2h-2.2zM610.08 437.09h2.2v2.2h-2.2zM610.78 436.04h2.2v2.2h-2.2zM611.44 437.6h2.2v2.2h-2.2zM612.09 435.88h2.2v2.2h-2.2zM612.71 441.4h2.2v2.2h-2.2zM613.31 440.99h2.2v2.2h-2.2zM613.89 436.64h2.2v2.2h-2.2zM614.18 439.34h2.2v2.2h-2.2zM614.46 445h2.2v2.2h-2.2zM615 439.21h2.2v2.2h-2.2zM615.54 443.9h2.2v2.2h-2.2zM616.05 440.62h2.2v2.2h-2.2zM616.56 442.46h2.2v2.2h-2.2zM617.05 443.72h2.2v2.2h-2.2zM617.52 445.77h2.2v2.2h-2.2zM617.99 441.86h2.2v2.2h-2.2zM618.21 450.85h2.2v2.2h-2.2zM618.44 444.2h2.2v2.2h-2.2zM618.88 452.35h2.2v2.2h-2.2zM619.31 449.95h2.2v2.2h-2.2zM619.74 450.43h2.2v2.2h-2.2zM620.15 444.68h2.2v2.2h-2.2zM620.35 452.48h2.2v2.2h-2.2zM620.55 448.4h2.2v2.2h-2.2zM620.95 448.06h2.2v2.2h-2.2zM621.33 457.62h2.2v2.2h-2.2zM621.71 451.19h2.2v2.2h-2.2zM622.08 455.77h2.2v2.2h-2.2zM622.44 450.11h2.2v2.2h-2.2zM622.8 453.5h2.2v2.2h-2.2zM623.15 454.23h2.2v2.2h-2.2zM623.49 457.21h2.2v2.2h-2.2zM623.66 456.26h2.2v2.2h-2.2zM623.83 453.93h2.2v2.2h-2.2zM624 452.96h2.2v2.2h-2.2zM616.56 463.41h2.2v2.2h-2.2zM617.05 463.41h2.2v2.2h-2.2zM617.52 463.41h2.2v2.2h-2.2zM617.99 463.41h2.2v2.2h-2.2zM618.88 463.41h2.2v2.2h-2.2zM619.31 463.41h2.2v2.2h-2.2zM619.74 463.41h2.2v2.2h-2.2zM620.15 463.41h2.2v2.2h-2.2zM620.55 463.41h2.2v2.2h-2.2zM621.33 463.41h2.2v2.2h-2.2zM622.08 463.41h2.2v2.2h-2.2zM622.44 463.41h2.2v2.2h-2.2zM622.8 463.41h2.2v2.2h-2.2zM623.15 463.41h2.2v2.2h-2.2zM624.16 463.41h2.2v2.2h-2.2zM625.12 463.41h2.2v2.2h-2.2zM625.43 463.41h2.2v2.2h-2.2zM626.03 463.41h2.2v2.2h-2.2zM626.61 463.41h2.2v2.2h-2.2zM626.9 463.41h2.2v2.2h-2.2zM627.45 463.41h2.2v2.2h-2.2zM627.72 463.41h2.2v2.2h-2.2zM628.26 463.41h2.2v2.2h-2.2zM628.77 463.41h2.2v2.2h-2.2zM629.03 463.41h2.2v2.2h-2.2zM629.28 463.41h2.2v2.2h-2.2zM629.52 463.41h2.2v2.2h-2.2zM619.31 471.77h2.2v2.2h-2.2zM619.74 471.77h2.2v2.2h-2.2zM620.15 471.77h2.2v2.2h-2.2zM620.55 471.77h2.2v2.2h-2.2zM620.95 471.77h2.2v2.2h-2.2zM621.33 471.77h2.2v2.2h-2.2zM621.71 471.77h2.2v2.2h-2.2zM622.08 471.77h2.2v2.2h-2.2zM622.8 471.77h2.2v2.2h-2.2zM623.15 471.77h2.2v2.2h-2.2zM623.49 471.77h2.2v2.2h-2.2zM623.83 471.77h2.2v2.2h-2.2zM624.16 471.77h2.2v2.2h-2.2zM624.49 471.77h2.2v2.2h-2.2zM624.8 471.77h2.2v2.2h-2.2zM625.12 471.77h2.2v2.2h-2.2zM625.43 471.77h2.2v2.2h-2.2zM626.03 471.77h2.2v2.2h-2.2zM626.32 471.77h2.2v2.2h-2.2zM626.9 471.77h2.2v2.2h-2.2zM627.18 471.77h2.2v2.2h-2.2zM627.99 471.77h2.2v2.2h-2.2zM628.26 471.77h2.2v2.2h-2.2zM628.77 471.77h2.2v2.2h-2.2zM629.28 471.77h2.2v2.2h-2.2zM629.76 471.77h2.2v2.2h-2.2zM630 471.77h2.2v2.2h-2.2zM630.24 471.77h2.2v2.2h-2.2zM630.47 471.77h2.2v2.2h-2.2zM630.93 471.77h2.2v2.2h-2.2zM631.38 471.77h2.2v2.2h-2.2zM631.6 471.77h2.2v2.2h-2.2zM631.82 471.77h2.2v2.2h-2.2zM632.03 471.77h2.2v2.2h-2.2zM632.24 471.77h2.2v2.2h-2.2zM632.66 471.77h2.2v2.2h-2.2zM632.87 471.77h2.2v2.2h-2.2zM633.07 471.77h2.2v2.2h-2.2zM633.27 471.77h2.2v2.2h-2.2zM633.66 471.77h2.2v2.2h-2.2zM633.86 471.77h2.2v2.2h-2.2zM634.05 471.77h2.2v2.2h-2.2zM634.24 471.77h2.2v2.2h-2.2zM634.43 471.77h2.2v2.2h-2.2zM634.62 471.77h2.2v2.2h-2.2zM643.19 471.77h2.2v2.2h-2.2z" fill="#000000"/>
<path d="M550.3 372.9h2.2v2.2h-2.2zM563.02 386.27h2.2v2.2h-2.2zM570.82 394.62h2.2v2.2h-2.2zM571.64 396.85h2.2v2.2h-2.2zM576.63 404.93h2.2v2.2h-2.2zM579.08 405.76h2.2v2.2h-2.2zM583.78 419.13h2.2v2.2h-2.2zM586.01 417.46h2.2v2.2h-2.2zM588.22 428.32h2.2v2.2h-2.2zM590.62 441.97h2.2v2.2h-2.2zM595.74 441.97h2.2v2.2h-2.2z" fill="#ff0000"/>
<path d="M551.4 377.62 L564.12 388.03 L572.14 395.72 L572.73 396.31 L573.48 397.02 L574.38 397.85 L575.38 398.82 L576.48 399.94 L577.65 401.23 L578.86 402.7 L580.09 404.36 L581.37 406.29 L582.75 408.54 L584.2 411.02 L585.7 413.63 L587.24 416.31 L588.78 418.96 L590.3 421.5 L591.79 423.85 L593.25 426.01 L594.72 428.06 L596.18 430.04 L597.64 431.98 L599.11 433.91 L600.57 435.87 L602.03 437.89 L603.49 440 L604.97 442.23 L606.48 444.54 L607.99 446.91 L609.5 449.32 L610.99 451.72 L612.44 454.1 L613.85 456.42 L615.2 458.66 L616.52 460.87 L617.84 463.08 L619.14 465.27 L620.39 467.42 L621.58 469.5 L622.67 471.49 L623.65 473.36 L624.49 475.09 L625.19 476.72 L625.75 478.29 L626.2 479.76 L626.55 481.13 L626.84 482.38 L627.07 483.47 L627.27 484.39 L627.45 485.12" fill="none" stroke="#ff00ff" stroke-width="0.9" stroke-linejoin="round" clip-path="url(#cc4)"/>
<path d="M551.4 380.21 L564.12 388.03 L572.14 395.39 L577.3 401.29 L581.65 404.83 L584.86 408.25 L589.34 412.71 L591.71 415.5 L592.6 416.37 L593.8 417.51 L595.22 418.87 L596.8 420.39 L598.47 422.03 L600.17 423.74 L601.82 425.48 L603.37 427.19 L604.87 428.93 L606.43 430.75 L608 432.63 L609.57 434.57 L611.11 436.55 L612.57 438.54 L613.95 440.53 L615.2 442.51 L616.31 444.45 L617.32 446.37 L618.23 448.29 L619.08 450.22 L619.88 452.2 L620.66 454.25 L621.43 456.4 L622.21 458.66 L623.02 461.16 L623.84 463.91 L624.66 466.81 L625.45 469.75 L626.19 472.63 L626.88 475.34 L627.49 477.77 L628 479.83 L628.41 481.52 L628.72 482.96 L628.96 484.17 L629.14 485.19 L629.28 486.04 L629.38 486.76 L629.47 487.37 L629.56 487.9" fill="none" stroke="#000000" stroke-width="0.9" stroke-linejoin="round" clip-path="url(#cc4)"/>
<path d="M550.2 376.42h2.4v2.4h-2.4zM550.2 375.03h2.4v2.4h-2.4z" fill="#ff00ff"/>
<rect x="550.2" y="379.01" width="2.4" height="2.4" fill="#000000"/>
<rect x="549.4" y="370.4" width="108" height="109.1" fill="none" stroke="#3a3a3a" stroke-width="1"/>
<line x1="545" y1="479.55" x2="549.4" y2="479.55" stroke="#3a3a3a" stroke-width="1"/>
<text x="542.1" y="482.35" font-size="9.5" text-anchor="end" font-weight="normal" fill="#000">1E-4</text>
<line x1="546.9" y1="471.17" x2="549.4" y2="471.17" stroke="#3a3a3a" stroke-width="1"/>
<line x1="546.9" y1="466.26" x2="549.4" y2="466.26" stroke="#3a3a3a" stroke-width="1"/>
<line x1="546.9" y1="462.78" x2="549.4" y2="462.78" stroke="#3a3a3a" stroke-width="1"/>
<line x1="546.9" y1="460.08" x2="549.4" y2="460.08" stroke="#3a3a3a" stroke-width="1"/>
<line x1="546.9" y1="457.88" x2="549.4" y2="457.88" stroke="#3a3a3a" stroke-width="1"/>
<line x1="546.9" y1="456.01" x2="549.4" y2="456.01" stroke="#3a3a3a" stroke-width="1"/>
<line x1="546.9" y1="454.4" x2="549.4" y2="454.4" stroke="#3a3a3a" stroke-width="1"/>
<line x1="546.9" y1="452.97" x2="549.4" y2="452.97" stroke="#3a3a3a" stroke-width="1"/>
<line x1="545" y1="451.7" x2="549.4" y2="451.7" stroke="#3a3a3a" stroke-width="1"/>
<text x="542.1" y="454.5" font-size="9.5" text-anchor="end" font-weight="normal" fill="#000">1E-3</text>
<line x1="546.9" y1="443.32" x2="549.4" y2="443.32" stroke="#3a3a3a" stroke-width="1"/>
<line x1="546.9" y1="438.41" x2="549.4" y2="438.41" stroke="#3a3a3a" stroke-width="1"/>
<line x1="546.9" y1="434.93" x2="549.4" y2="434.93" stroke="#3a3a3a" stroke-width="1"/>
<line x1="546.9" y1="432.23" x2="549.4" y2="432.23" stroke="#3a3a3a" stroke-width="1"/>
<line x1="546.9" y1="430.03" x2="549.4" y2="430.03" stroke="#3a3a3a" stroke-width="1"/>
<line x1="546.9" y1="428.16" x2="549.4" y2="428.16" stroke="#3a3a3a" stroke-width="1"/>
<line x1="546.9" y1="426.55" x2="549.4" y2="426.55" stroke="#3a3a3a" stroke-width="1"/>
<line x1="546.9" y1="425.12" x2="549.4" y2="425.12" stroke="#3a3a3a" stroke-width="1"/>
<line x1="545" y1="423.85" x2="549.4" y2="423.85" stroke="#3a3a3a" stroke-width="1"/>
<text x="542.1" y="426.65" font-size="9.5" text-anchor="end" font-weight="normal" fill="#000">0.01</text>
<line x1="546.9" y1="415.47" x2="549.4" y2="415.47" stroke="#3a3a3a" stroke-width="1"/>
<line x1="546.9" y1="410.56" x2="549.4" y2="410.56" stroke="#3a3a3a" stroke-width="1"/>
<line x1="546.9" y1="407.08" x2="549.4" y2="407.08" stroke="#3a3a3a" stroke-width="1"/>
<line x1="546.9" y1="404.38" x2="549.4" y2="404.38" stroke="#3a3a3a" stroke-width="1"/>
<line x1="546.9" y1="402.18" x2="549.4" y2="402.18" stroke="#3a3a3a" stroke-width="1"/>
<line x1="546.9" y1="400.31" x2="549.4" y2="400.31" stroke="#3a3a3a" stroke-width="1"/>
<line x1="546.9" y1="398.7" x2="549.4" y2="398.7" stroke="#3a3a3a" stroke-width="1"/>
<line x1="546.9" y1="397.27" x2="549.4" y2="397.27" stroke="#3a3a3a" stroke-width="1"/>
<line x1="545" y1="396" x2="549.4" y2="396" stroke="#3a3a3a" stroke-width="1"/>
<text x="542.1" y="398.8" font-size="9.5" text-anchor="end" font-weight="normal" fill="#000">0.1</text>
<line x1="546.9" y1="387.62" x2="549.4" y2="387.62" stroke="#3a3a3a" stroke-width="1"/>
<line x1="546.9" y1="382.71" x2="549.4" y2="382.71" stroke="#3a3a3a" stroke-width="1"/>
<line x1="546.9" y1="379.23" x2="549.4" y2="379.23" stroke="#3a3a3a" stroke-width="1"/>
<line x1="546.9" y1="376.53" x2="549.4" y2="376.53" stroke="#3a3a3a" stroke-width="1"/>
<line x1="546.9" y1="374.33" x2="549.4" y2="374.33" stroke="#3a3a3a" stroke-width="1"/>
<line x1="546.9" y1="372.46" x2="549.4" y2="372.46" stroke="#3a3a3a" stroke-width="1"/>
<line x1="546.9" y1="370.85" x2="549.4" y2="370.85" stroke="#3a3a3a" stroke-width="1"/>
<line x1="551.4" y1="479.5" x2="551.4" y2="483.7" stroke="#3a3a3a" stroke-width="1"/>
<text x="551.4" y="492.2" font-size="9.5" text-anchor="middle" font-weight="normal" fill="#000">1</text>
<line x1="564.12" y1="479.5" x2="564.12" y2="482" stroke="#3a3a3a" stroke-width="1"/>
<line x1="571.56" y1="479.5" x2="571.56" y2="482" stroke="#3a3a3a" stroke-width="1"/>
<line x1="576.84" y1="479.5" x2="576.84" y2="482" stroke="#3a3a3a" stroke-width="1"/>
<line x1="580.93" y1="479.5" x2="580.93" y2="482" stroke="#3a3a3a" stroke-width="1"/>
<line x1="584.28" y1="479.5" x2="584.28" y2="482" stroke="#3a3a3a" stroke-width="1"/>
<line x1="587.11" y1="479.5" x2="587.11" y2="482" stroke="#3a3a3a" stroke-width="1"/>
<line x1="589.56" y1="479.5" x2="589.56" y2="482" stroke="#3a3a3a" stroke-width="1"/>
<line x1="591.72" y1="479.5" x2="591.72" y2="482" stroke="#3a3a3a" stroke-width="1"/>
<line x1="593.65" y1="479.5" x2="593.65" y2="483.7" stroke="#3a3a3a" stroke-width="1"/>
<text x="593.65" y="492.2" font-size="9.5" text-anchor="middle" font-weight="normal" fill="#000">10</text>
<line x1="606.37" y1="479.5" x2="606.37" y2="482" stroke="#3a3a3a" stroke-width="1"/>
<line x1="613.81" y1="479.5" x2="613.81" y2="482" stroke="#3a3a3a" stroke-width="1"/>
<line x1="619.09" y1="479.5" x2="619.09" y2="482" stroke="#3a3a3a" stroke-width="1"/>
<line x1="623.18" y1="479.5" x2="623.18" y2="482" stroke="#3a3a3a" stroke-width="1"/>
<line x1="626.53" y1="479.5" x2="626.53" y2="482" stroke="#3a3a3a" stroke-width="1"/>
<line x1="629.36" y1="479.5" x2="629.36" y2="482" stroke="#3a3a3a" stroke-width="1"/>
<line x1="631.81" y1="479.5" x2="631.81" y2="482" stroke="#3a3a3a" stroke-width="1"/>
<line x1="633.97" y1="479.5" x2="633.97" y2="482" stroke="#3a3a3a" stroke-width="1"/>
<line x1="635.9" y1="479.5" x2="635.9" y2="483.7" stroke="#3a3a3a" stroke-width="1"/>
<text x="635.9" y="492.2" font-size="9.5" text-anchor="middle" font-weight="normal" fill="#000">100</text>
<line x1="648.62" y1="479.5" x2="648.62" y2="482" stroke="#3a3a3a" stroke-width="1"/>
<line x1="656.06" y1="479.5" x2="656.06" y2="482" stroke="#3a3a3a" stroke-width="1"/>
<text x="516.2" y="434.3" font-size="11.3" text-anchor="middle" font-weight="normal" fill="#000" transform="rotate(-90 516.2 434.3)">P(K)</text>
<text x="603.2" y="502" font-size="11.9" text-anchor="middle" font-weight="normal" fill="#000">K</text>
</svg>
</body></html>
